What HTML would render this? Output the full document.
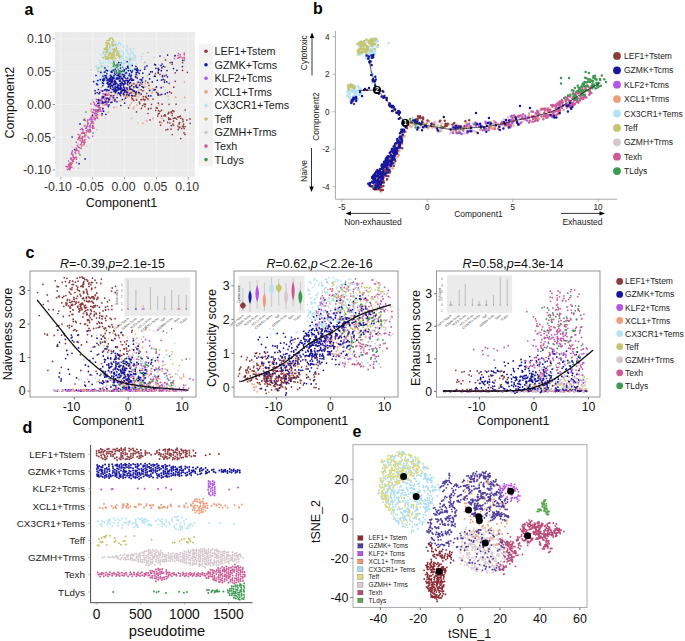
<!DOCTYPE html>
<html><head><meta charset="utf-8"><style>
html,body{margin:0;padding:0;background:#fff;}
svg{display:block;font-family:"Liberation Sans", sans-serif;}
</style></head><body>
<svg width="685" height="641" viewBox="0 0 685 641">
<rect width="685" height="641" fill="#fff"/>
<text x="24.5" y="15.3" font-size="16" text-anchor="start" font-weight="bold" fill="#000">a</text>
<text x="313" y="13.7" font-size="16" text-anchor="start" font-weight="bold" fill="#000">b</text>
<text x="25.5" y="258.4" font-size="16" text-anchor="start" font-weight="bold" fill="#000">c</text>
<text x="22.5" y="432.9" font-size="16" text-anchor="start" font-weight="bold" fill="#000">d</text>
<text x="352.5" y="437" font-size="16" text-anchor="start" font-weight="bold" fill="#000">e</text>
<rect x="55" y="32" width="140" height="145" fill="#EBEBEB" stroke="none" stroke-width="1"/>
<line x1="76.81" y1="32.00" x2="76.81" y2="177.00" stroke="#EFEFEF" stroke-width="0.5"/>
<line x1="55.00" y1="153.61" x2="195.00" y2="153.61" stroke="#EFEFEF" stroke-width="0.5"/>
<line x1="108.64" y1="32.00" x2="108.64" y2="177.00" stroke="#EFEFEF" stroke-width="0.5"/>
<line x1="55.00" y1="120.84" x2="195.00" y2="120.84" stroke="#EFEFEF" stroke-width="0.5"/>
<line x1="140.46" y1="32.00" x2="140.46" y2="177.00" stroke="#EFEFEF" stroke-width="0.5"/>
<line x1="55.00" y1="88.06" x2="195.00" y2="88.06" stroke="#EFEFEF" stroke-width="0.5"/>
<line x1="172.29" y1="32.00" x2="172.29" y2="177.00" stroke="#EFEFEF" stroke-width="0.5"/>
<line x1="55.00" y1="55.29" x2="195.00" y2="55.29" stroke="#EFEFEF" stroke-width="0.5"/>
<line x1="60.90" y1="32.00" x2="60.90" y2="177.00" stroke="#F6F6F6" stroke-width="0.8"/>
<line x1="55.00" y1="170.00" x2="195.00" y2="170.00" stroke="#F6F6F6" stroke-width="0.8"/>
<line x1="60.90" y1="177.00" x2="60.90" y2="179.50" stroke="#777" stroke-width="0.7"/>
<line x1="52.50" y1="170.00" x2="55.00" y2="170.00" stroke="#777" stroke-width="0.7"/>
<line x1="92.72" y1="32.00" x2="92.72" y2="177.00" stroke="#F6F6F6" stroke-width="0.8"/>
<line x1="55.00" y1="137.22" x2="195.00" y2="137.22" stroke="#F6F6F6" stroke-width="0.8"/>
<line x1="92.72" y1="177.00" x2="92.72" y2="179.50" stroke="#777" stroke-width="0.7"/>
<line x1="52.50" y1="137.22" x2="55.00" y2="137.22" stroke="#777" stroke-width="0.7"/>
<line x1="124.55" y1="32.00" x2="124.55" y2="177.00" stroke="#F6F6F6" stroke-width="0.8"/>
<line x1="55.00" y1="104.45" x2="195.00" y2="104.45" stroke="#F6F6F6" stroke-width="0.8"/>
<line x1="124.55" y1="177.00" x2="124.55" y2="179.50" stroke="#777" stroke-width="0.7"/>
<line x1="52.50" y1="104.45" x2="55.00" y2="104.45" stroke="#777" stroke-width="0.7"/>
<line x1="156.38" y1="32.00" x2="156.38" y2="177.00" stroke="#F6F6F6" stroke-width="0.8"/>
<line x1="55.00" y1="71.68" x2="195.00" y2="71.68" stroke="#F6F6F6" stroke-width="0.8"/>
<line x1="156.38" y1="177.00" x2="156.38" y2="179.50" stroke="#777" stroke-width="0.7"/>
<line x1="52.50" y1="71.68" x2="55.00" y2="71.68" stroke="#777" stroke-width="0.7"/>
<line x1="188.20" y1="32.00" x2="188.20" y2="177.00" stroke="#F6F6F6" stroke-width="0.8"/>
<line x1="55.00" y1="38.90" x2="195.00" y2="38.90" stroke="#F6F6F6" stroke-width="0.8"/>
<line x1="188.20" y1="177.00" x2="188.20" y2="179.50" stroke="#777" stroke-width="0.7"/>
<line x1="52.50" y1="38.90" x2="55.00" y2="38.90" stroke="#777" stroke-width="0.7"/>
<text x="57.89999999999999" y="191" font-size="12.3" text-anchor="middle" font-weight="normal" fill="#333">-0.10</text>
<text x="51" y="174.4" font-size="12.3" text-anchor="end" font-weight="normal" fill="#333">-0.10</text>
<text x="89.725" y="191" font-size="12.3" text-anchor="middle" font-weight="normal" fill="#333">-0.05</text>
<text x="51" y="141.625" font-size="12.3" text-anchor="end" font-weight="normal" fill="#333">-0.05</text>
<text x="123.55" y="191" font-size="12.3" text-anchor="middle" font-weight="normal" fill="#333">0.00</text>
<text x="51" y="108.85000000000001" font-size="12.3" text-anchor="end" font-weight="normal" fill="#333">0.00</text>
<text x="155.375" y="191" font-size="12.3" text-anchor="middle" font-weight="normal" fill="#333">0.05</text>
<text x="51" y="76.07500000000002" font-size="12.3" text-anchor="end" font-weight="normal" fill="#333">0.05</text>
<text x="187.2" y="191" font-size="12.3" text-anchor="middle" font-weight="normal" fill="#333">0.10</text>
<text x="51" y="43.300000000000004" font-size="12.3" text-anchor="end" font-weight="normal" fill="#333">0.10</text>
<text x="121.5" y="207" font-size="12.5" text-anchor="middle" font-weight="normal" fill="#111">Component1</text>
<text x="14.5" y="102.7" font-size="12.5" text-anchor="middle" font-weight="normal" fill="#111" transform="rotate(-90 14.5 102.7)">Component2</text>
<path d="M95.9 66.1h0M127.4 105.5h0M136.1 70.2h0M87.4 122.6h0M97.6 71.3h0M163.9 57.5h0M91.0 70.1h0M96.0 80.9h0M165.6 90.2h0M137.9 123.0h0M116.4 107.3h0M128.5 80.4h0M141.3 56.3h0M108.4 67.0h0M96.7 129.7h0M152.0 89.5h0M142.0 106.8h0M128.6 59.1h0M154.4 57.6h0M131.7 118.4h0M168.4 99.1h0M102.4 78.2h0M132.1 78.8h0M126.1 61.7h0M115.0 68.0h0M135.3 56.8h0M105.0 117.9h0M153.2 90.0h0M158.7 64.5h0M95.9 110.4h0M124.7 69.7h0M108.6 59.6h0M92.1 99.9h0M161.2 122.2h0M121.5 57.0h0M98.8 106.8h0M72.3 153.7h0M72.5 163.1h0M69.6 169.0h0M78.0 146.4h0M95.4 112.7h0M82.4 128.9h0M100.4 102.7h0M79.4 154.3h0M78.6 144.5h0M72.4 147.3h0M111.8 97.2h0M107.6 98.3h0M86.7 146.2h0M84.2 135.5h0M77.7 144.1h0M92.5 109.1h0M73.6 168.6h0M78.6 168.2h0M80.2 136.6h0M74.5 149.4h0M103.1 105.4h0M94.2 110.5h0M87.6 126.5h0M92.2 117.5h0M95.2 116.0h0M101.8 110.8h0M105.5 98.3h0M76.2 159.3h0M90.5 120.0h0" stroke="#D3C6CC" stroke-width="1.7" stroke-linecap="round" fill="none"/>
<path d="M102.2 97.6h0M73.2 161.2h0M70.7 163.0h0M93.9 128.2h0M109.9 97.5h0M107.0 101.4h0M95.5 115.4h0M70.3 164.6h0M100.5 107.5h0M97.7 118.3h0M74.0 158.9h0M84.4 132.8h0M71.9 167.0h0M99.8 107.7h0M95.5 113.6h0M97.2 105.9h0M96.0 109.6h0M76.0 148.0h0M90.9 103.9h0M78.8 150.9h0M73.9 159.4h0M81.7 138.7h0M89.0 132.0h0M78.9 147.5h0M91.9 122.8h0M84.6 119.1h0M75.9 150.6h0M93.0 121.8h0M84.3 143.4h0M101.5 115.3h0M81.1 148.3h0M95.9 105.7h0M78.2 134.5h0M90.2 127.1h0M93.9 117.2h0M89.7 130.3h0M76.7 149.2h0M108.6 94.9h0M68.6 161.1h0M80.5 144.5h0M87.5 126.1h0M69.6 168.0h0M74.3 158.0h0M98.9 107.4h0M99.4 109.2h0M92.2 119.9h0M106.3 101.6h0M98.7 111.7h0M77.3 145.5h0M91.1 118.5h0M83.9 144.8h0M96.8 111.2h0M84.2 140.6h0M74.1 158.0h0M101.4 100.9h0M92.6 114.7h0M97.2 111.9h0M89.7 126.2h0M100.2 109.8h0M81.6 133.0h0M87.8 124.6h0M70.0 164.9h0M92.8 128.3h0M93.5 102.1h0M96.4 115.4h0M97.8 106.4h0M87.5 131.3h0M101.8 100.6h0M72.4 161.6h0M107.3 105.0h0M82.2 140.9h0M72.0 163.0h0M92.5 121.8h0M83.1 133.1h0M85.0 136.7h0M101.2 103.3h0M71.3 158.3h0M91.3 121.4h0M82.6 136.9h0M89.6 129.3h0M86.5 130.5h0M71.7 158.8h0M90.6 131.4h0M105.0 104.8h0M76.4 157.3h0M69.4 169.5h0M70.2 164.5h0M84.0 133.1h0M106.9 94.3h0M71.2 167.2h0M108.9 93.9h0M84.4 125.8h0M72.1 160.3h0M80.1 135.1h0M75.6 153.5h0M92.3 112.2h0M85.2 125.6h0M78.3 147.0h0M76.7 149.5h0M97.8 99.5h0M99.9 111.2h0M89.0 138.0h0M79.5 136.1h0M101.5 115.0h0M105.5 93.7h0M69.9 163.2h0M73.2 157.1h0M77.9 139.5h0M90.1 131.5h0M71.4 164.7h0M68.6 165.1h0M75.1 152.2h0M78.7 137.6h0M95.7 111.6h0M93.5 123.3h0M66.1 166.4h0M68.8 166.1h0M85.0 134.4h0M105.8 104.0h0M108.7 101.8h0M80.2 140.4h0M101.4 99.7h0M106.8 99.0h0M82.0 137.3h0M96.1 111.1h0M83.5 142.1h0M76.6 159.1h0M90.3 125.0h0M70.7 162.9h0M94.9 118.8h0M94.5 103.3h0M104.8 99.1h0M82.1 133.2h0M76.5 162.5h0M106.3 101.4h0M103.0 102.6h0M106.8 95.0h0M84.1 119.7h0M95.7 118.2h0M85.1 142.2h0M73.0 154.7h0M79.6 147.4h0M97.8 114.6h0M76.3 142.3h0M97.1 117.2h0M90.0 132.0h0M85.1 134.7h0M107.2 95.2h0M75.3 157.3h0M82.4 129.6h0M73.7 157.3h0M109.0 99.6h0M83.2 129.8h0M81.9 144.6h0M73.1 156.2h0M85.2 120.3h0M82.3 138.2h0M70.6 159.0h0M69.7 167.6h0M79.6 137.6h0M92.6 125.4h0M85.6 128.1h0M105.1 100.9h0M103.0 98.2h0M104.9 97.0h0M102.6 109.4h0M86.2 132.5h0M86.6 128.1h0M79.7 137.0h0M85.1 139.6h0M70.7 167.2h0M98.3 107.1h0M77.1 150.5h0M67.3 166.9h0M82.9 131.8h0M93.5 112.5h0M84.8 135.9h0M81.8 141.4h0M91.2 117.2h0M75.1 157.6h0M69.7 169.7h0M90.8 123.6h0M90.4 129.4h0M101.6 102.2h0M83.0 136.9h0M100.0 109.3h0M68.6 168.5h0M70.3 168.4h0M87.5 121.1h0M78.8 153.1h0M69.0 164.0h0M72.1 159.6h0M78.5 138.6h0M81.3 143.8h0M92.4 127.2h0M106.5 103.2h0M83.0 141.8h0M71.4 153.9h0M87.8 123.4h0M67.3 169.5h0M79.9 138.3h0M81.6 145.9h0M82.5 139.4h0M69.7 165.9h0M90.0 126.9h0M89.3 119.6h0M94.6 110.0h0M104.3 94.3h0M81.8 142.3h0M94.0 119.0h0M182.3 57.8h0M184.3 60.3h0M174.6 56.1h0M177.8 55.5h0M180.6 57.0h0M174.6 58.5h0M177.9 58.2h0M184.1 57.4h0M184.4 58.4h0M184.3 53.0h0M180.2 54.9h0M179.2 57.4h0M184.3 54.7h0M178.5 53.6h0" stroke="#CC5A96" stroke-width="1.7" stroke-linecap="round" fill="none"/>
<path d="M86.8 126.8h0M101.2 111.2h0M99.7 107.6h0M89.7 126.3h0M94.5 113.5h0M91.9 118.7h0M69.4 168.1h0M96.3 99.3h0M103.9 111.3h0M70.8 158.2h0M101.8 99.7h0M88.0 137.0h0M106.6 98.1h0M102.8 102.4h0M88.3 123.0h0M82.0 128.4h0M96.6 113.5h0M107.0 104.0h0M98.8 101.9h0M113.1 96.7h0M87.7 120.2h0M106.5 91.5h0M88.4 130.7h0M105.5 98.2h0M95.1 119.8h0M100.4 100.6h0M95.9 105.6h0M80.4 129.5h0M71.9 152.5h0M93.6 109.5h0M96.8 101.4h0M88.1 129.9h0M90.3 118.8h0M101.1 90.6h0M92.7 136.1h0M94.2 110.3h0M72.4 150.9h0M106.8 104.6h0M93.3 126.2h0M103.1 93.7h0M94.5 104.7h0M96.5 104.9h0M110.4 98.9h0M94.7 113.3h0M101.6 98.4h0" stroke="#B455E6" stroke-width="1.7" stroke-linecap="round" fill="none"/>
<path d="M126.7 83.4h0M139.0 89.7h0M113.1 99.9h0M123.2 94.1h0M113.2 92.2h0M148.7 99.9h0M145.2 83.5h0M136.5 75.4h0M125.7 87.1h0M133.6 88.1h0M106.0 98.7h0M129.8 105.1h0M113.6 80.8h0M113.8 107.4h0M120.0 101.0h0M123.5 96.0h0M132.7 92.7h0M134.0 107.1h0M129.6 90.7h0M117.6 86.8h0M133.8 91.1h0M125.8 80.5h0M138.8 93.4h0M117.8 89.3h0M99.4 92.4h0M122.2 92.6h0M148.5 82.7h0M131.7 99.3h0M125.1 83.0h0M135.8 96.3h0M132.0 78.9h0M131.6 92.7h0M121.9 84.4h0M127.8 90.4h0M129.0 85.5h0M120.6 74.8h0M115.8 82.3h0M128.4 90.6h0M136.7 94.5h0M133.5 79.8h0M131.9 75.2h0M132.0 84.0h0M152.8 88.6h0M129.6 85.7h0M137.4 84.4h0M146.6 96.1h0M127.5 96.9h0M129.6 95.3h0M137.4 83.5h0M143.9 90.6h0M130.1 88.8h0M130.6 80.1h0M127.9 96.3h0M114.9 90.7h0M138.2 86.7h0M124.5 100.0h0M109.8 95.5h0M125.6 96.1h0M109.7 98.5h0M117.0 95.1h0M127.2 81.2h0M117.8 87.4h0M137.8 97.1h0M112.4 84.7h0M129.7 90.4h0M132.6 92.9h0M141.7 100.2h0M136.3 99.2h0M129.4 96.4h0M127.9 88.8h0M126.5 96.5h0M138.5 93.8h0M120.5 89.0h0M132.3 99.6h0M126.2 93.6h0M129.5 84.8h0M124.5 99.0h0M148.5 88.3h0M120.5 94.2h0M129.6 79.4h0M129.9 90.0h0M133.2 83.5h0M131.6 83.3h0M131.4 76.7h0M136.9 105.1h0M112.1 89.0h0M127.2 91.7h0M114.8 97.8h0M129.4 89.2h0M115.3 93.7h0M175.8 97.7h0M131.3 102.8h0M133.2 108.6h0M162.0 118.3h0M159.0 105.2h0M175.4 97.2h0M142.8 123.3h0M155.4 87.8h0M184.4 82.0h0M146.7 120.9h0M152.2 92.0h0M163.4 86.8h0M184.7 97.3h0M140.1 95.4h0M168.0 96.0h0M152.8 118.3h0M152.0 93.1h0M144.1 86.0h0M155.6 89.7h0M161.6 122.7h0M99.3 104.4h0M91.3 108.8h0M102.3 115.2h0M91.0 110.9h0M98.6 106.2h0M81.7 144.8h0M102.8 104.4h0M86.4 135.2h0M110.5 95.6h0M112.6 95.5h0M108.9 95.0h0M108.3 112.2h0M102.6 96.1h0M108.8 94.8h0M107.9 92.3h0" stroke="#EE9E7C" stroke-width="1.7" stroke-linecap="round" fill="none"/>
<path d="M171.0 129.2h0M167.8 129.4h0M179.7 122.6h0M171.4 111.6h0M160.1 94.9h0M156.6 107.5h0M157.8 116.1h0M161.5 116.1h0M184.2 128.5h0M143.3 99.1h0M175.3 118.0h0M126.8 91.3h0M136.6 100.1h0M190.0 118.9h0M139.8 103.7h0M162.1 104.2h0M183.2 126.0h0M168.1 113.7h0M157.3 108.2h0M172.3 113.5h0M190.2 123.3h0M185.0 126.6h0M139.5 92.9h0M128.6 107.9h0M145.0 99.5h0M136.1 93.7h0M174.8 118.2h0M180.8 118.3h0M139.9 85.3h0M130.4 93.2h0M145.3 104.2h0M172.8 110.7h0M173.5 121.2h0M158.3 103.2h0M165.4 116.0h0M181.7 128.6h0M179.0 127.8h0M131.8 97.8h0M172.1 115.5h0M171.3 125.7h0M183.6 124.1h0M150.9 108.4h0M133.7 100.4h0M156.3 107.8h0M153.0 99.1h0M148.6 108.5h0M179.0 116.9h0M168.7 112.3h0M171.1 112.4h0M163.7 120.7h0M134.7 95.9h0M134.0 83.7h0M148.3 109.1h0M172.3 134.5h0M160.6 125.2h0M176.6 119.1h0M164.0 115.8h0M172.9 124.2h0M185.0 134.4h0M169.9 119.1h0M182.7 119.2h0M184.0 132.8h0M169.9 123.0h0M180.3 116.2h0M131.0 92.9h0M126.8 94.4h0M183.2 127.0h0M139.5 102.2h0M142.7 105.5h0M132.7 98.9h0M165.4 115.4h0M130.0 86.9h0M173.5 125.3h0M141.4 108.4h0M166.0 129.8h0M182.5 126.3h0M168.6 117.9h0M147.9 113.5h0M159.8 122.2h0M177.9 126.1h0M167.7 122.4h0M143.4 96.7h0M124.2 94.8h0M183.0 121.2h0M164.8 114.8h0M129.5 93.5h0M161.5 110.3h0M169.1 104.3h0M146.3 97.7h0M179.8 127.2h0M141.0 99.6h0M135.4 94.9h0M144.1 104.1h0M145.0 106.4h0M178.2 129.7h0M168.8 112.9h0M133.0 96.0h0M151.5 104.3h0M133.8 91.3h0M174.0 111.4h0M179.2 123.9h0M133.2 91.0h0M150.1 119.9h0M141.4 99.5h0M144.4 100.3h0M173.3 118.3h0M180.8 138.6h0M145.6 96.7h0M160.0 111.3h0M147.8 98.9h0M176.1 104.2h0M175.2 72.8h0M160.0 74.4h0M147.7 82.5h0M141.8 84.0h0M146.8 93.4h0M145.6 81.0h0M183.1 121.4h0M156.6 92.4h0M141.2 89.8h0M168.8 119.4h0M159.2 113.4h0M136.5 111.9h0M186.9 120.1h0M185.2 110.0h0M148.9 85.4h0M179.1 122.8h0M159.1 69.5h0M170.7 119.1h0M169.6 91.9h0M173.8 87.2h0M158.3 95.1h0M142.8 90.8h0M177.6 117.0h0M158.3 113.9h0M158.4 110.6h0M175.2 81.3h0M171.3 93.1h0M187.4 72.3h0M155.6 110.3h0M165.6 59.9h0M169.2 83.3h0M172.2 64.2h0M155.5 73.7h0M164.6 80.2h0M164.9 66.8h0M182.6 62.6h0M164.7 76.2h0M182.5 70.4h0M170.1 62.6h0" stroke="#8E3B3E" stroke-width="1.7" stroke-linecap="round" fill="none"/>
<path d="M105.5 62.1h0M126.8 76.5h0M100.0 62.6h0M123.5 52.2h0M104.9 65.7h0M118.1 68.9h0M114.4 77.9h0M114.0 69.0h0M97.6 69.2h0M120.5 65.6h0M110.2 51.1h0M106.7 70.6h0M108.7 61.8h0M96.0 65.6h0M109.1 77.1h0M98.8 72.1h0M119.7 51.2h0M98.4 68.9h0M98.6 67.5h0M97.0 84.4h0M104.6 65.8h0M102.6 55.0h0M128.4 65.9h0M130.6 58.4h0M125.6 62.9h0M107.8 43.3h0M121.7 69.6h0M108.6 75.6h0M115.1 50.4h0M130.4 68.4h0M100.4 78.9h0M131.9 74.2h0M105.3 53.1h0M109.5 47.1h0M107.7 66.2h0M116.6 78.3h0M115.0 45.7h0M135.9 71.4h0M120.6 43.9h0M129.7 59.6h0M109.4 48.7h0M100.8 75.7h0M116.8 76.2h0M123.6 63.4h0M104.3 56.6h0M132.6 58.6h0M117.8 74.5h0M121.2 59.7h0M113.6 79.6h0M131.5 64.8h0M108.2 51.7h0M121.9 50.9h0M124.5 69.3h0M101.9 67.1h0M104.5 70.6h0M123.1 56.3h0M127.4 50.3h0M123.3 69.8h0M122.9 60.4h0M115.2 76.8h0M110.9 62.5h0M128.1 71.3h0M117.6 43.9h0M125.4 74.6h0M126.1 56.9h0M132.7 52.2h0M123.5 54.4h0M111.3 74.3h0M100.4 73.3h0M116.8 78.9h0M133.5 48.8h0M130.7 68.7h0M103.4 51.2h0M136.9 69.8h0M98.0 81.4h0M98.7 67.3h0M126.6 67.6h0M127.8 53.8h0M103.2 66.6h0M116.1 75.7h0M130.8 49.2h0M112.4 71.5h0M114.2 43.4h0M127.5 47.4h0M113.9 59.7h0M112.6 48.7h0M131.2 62.7h0M132.5 57.4h0M110.4 72.5h0M112.8 70.2h0M128.7 63.3h0M117.1 62.7h0M119.2 61.1h0M124.2 76.4h0M107.8 52.0h0M118.5 60.5h0M112.1 76.9h0M122.2 57.1h0M106.9 53.5h0M123.9 70.5h0M112.3 45.4h0M118.8 72.3h0M97.0 66.6h0M110.5 50.2h0M106.5 76.4h0M115.4 42.3h0M133.3 53.8h0M130.8 53.9h0M119.6 42.0h0M109.1 70.7h0M116.8 46.3h0M102.5 73.1h0M114.8 69.0h0M135.1 55.7h0M123.4 65.5h0M117.0 64.0h0M118.2 76.1h0M120.6 56.4h0M117.1 44.7h0M118.4 55.5h0M100.4 67.8h0M116.1 51.8h0M123.4 47.0h0M104.9 51.2h0M108.3 79.4h0M130.0 73.7h0M103.7 52.8h0M128.5 53.6h0M109.1 79.2h0M134.3 54.9h0M112.3 67.2h0M129.5 57.1h0M104.0 72.0h0M134.0 69.3h0M108.9 61.2h0M113.5 49.4h0M101.3 63.2h0M123.5 64.8h0M130.2 64.5h0M99.5 83.6h0M100.1 71.2h0M114.1 49.8h0M129.8 68.9h0M98.7 81.5h0M113.0 60.9h0M113.3 70.9h0M111.2 70.4h0M117.9 48.8h0M119.5 58.2h0M105.1 51.6h0M128.6 61.7h0M117.4 74.4h0M110.3 46.3h0M136.2 63.6h0M124.2 62.7h0M103.4 58.7h0M123.1 56.2h0M109.5 77.0h0M99.5 60.3h0M107.1 78.8h0M110.4 69.1h0M119.7 58.3h0M97.3 81.2h0M115.4 69.2h0M117.9 51.3h0M135.4 60.4h0M116.2 72.2h0M124.8 60.3h0M103.5 63.2h0M120.9 44.4h0M115.7 51.9h0M104.2 78.6h0M96.9 68.3h0M100.2 71.1h0M133.0 72.1h0M111.9 53.2h0M98.7 72.5h0M112.6 55.2h0M125.4 71.8h0M113.0 54.9h0M127.7 74.9h0M125.5 73.4h0M125.4 75.4h0M138.5 69.5h0M129.0 77.8h0M113.1 76.4h0M120.6 45.2h0M127.4 53.8h0M120.5 67.1h0M98.6 79.6h0M105.3 54.9h0M109.7 54.1h0M107.4 77.7h0M109.2 69.5h0M110.9 46.7h0M110.8 80.6h0M132.2 59.3h0M108.6 57.3h0M126.8 45.5h0M110.9 57.3h0M116.2 67.4h0M111.0 61.8h0M120.3 65.6h0M115.0 77.8h0M95.7 74.5h0M117.5 75.2h0M119.3 65.8h0M124.7 62.7h0M123.8 63.5h0M125.9 58.1h0M137.4 72.2h0M111.8 63.6h0M129.4 61.6h0M133.6 60.1h0M134.1 68.5h0M127.4 53.0h0M108.9 63.2h0M106.2 76.3h0M133.3 69.2h0M126.2 50.5h0M114.9 66.8h0M119.0 43.3h0M126.5 70.9h0M128.8 75.9h0M130.9 53.1h0M123.1 58.8h0M132.2 64.0h0M114.8 55.9h0M104.0 57.1h0M130.8 66.1h0M125.5 74.6h0M104.7 75.4h0M118.6 62.5h0M99.9 81.2h0M116.8 55.3h0M115.9 61.0h0M106.5 48.1h0M109.1 57.4h0M135.0 58.2h0M102.9 54.6h0M96.6 80.8h0M134.7 58.0h0M125.0 67.5h0M114.1 63.4h0M114.5 71.2h0M119.0 55.1h0M119.2 50.9h0M99.7 78.8h0M130.8 72.8h0M117.6 68.0h0M113.4 43.6h0M107.7 59.6h0M111.1 67.6h0M106.6 45.6h0M121.8 72.2h0M130.4 74.6h0M115.0 66.2h0M129.5 56.1h0M122.9 63.1h0M127.2 76.3h0M114.1 52.5h0M130.2 62.3h0M131.6 66.1h0M119.7 64.4h0M103.1 82.1h0M113.5 61.7h0M108.4 81.1h0M109.7 49.7h0M130.2 48.8h0M111.3 50.1h0M115.6 65.1h0M112.9 44.0h0M101.7 71.4h0M121.8 51.0h0M115.4 70.0h0M104.7 58.2h0M101.7 80.8h0M123.0 67.8h0M109.5 54.8h0M107.5 58.4h0M109.1 76.7h0M118.7 53.3h0M106.3 76.7h0M121.4 55.4h0M114.9 72.3h0M128.9 64.1h0M120.2 65.8h0M128.2 62.7h0M101.2 63.6h0M129.5 70.5h0M99.7 76.8h0M128.5 58.4h0M114.0 45.5h0M132.1 70.4h0M119.7 62.5h0M130.3 51.0h0M112.3 41.4h0M108.0 79.0h0M111.2 76.3h0M115.8 42.1h0M128.1 69.9h0M113.6 64.1h0M120.1 71.6h0M123.9 46.3h0M124.0 73.7h0M114.7 78.0h0M120.3 57.7h0M102.8 65.9h0M106.4 71.2h0M104.1 74.7h0M118.6 62.1h0M103.1 69.2h0M120.0 70.1h0M131.7 66.3h0M99.9 71.7h0M105.7 53.4h0M118.5 52.4h0M102.8 76.9h0M112.3 56.4h0M135.4 71.0h0M122.4 81.7h0M144.2 81.7h0M144.1 63.2h0M100.2 54.3h0M122.8 82.5h0M100.4 67.3h0M141.6 59.2h0M109.9 47.4h0M113.1 63.6h0M112.6 46.4h0M134.5 70.1h0M112.8 60.8h0M119.3 56.7h0M143.1 53.8h0M119.2 75.3h0" stroke="#B3E3F4" stroke-width="1.7" stroke-linecap="round" fill="none"/>
<path d="M112.1 58.9h0M103.5 52.7h0M108.0 50.0h0M112.1 38.0h0M114.2 49.4h0M115.3 50.4h0M116.9 50.6h0M109.3 38.9h0M116.4 49.0h0M109.1 53.1h0M108.9 43.2h0M107.3 51.8h0M107.6 45.4h0M104.3 48.7h0M109.0 55.1h0M107.6 57.8h0M109.6 47.0h0M107.0 40.7h0M116.5 55.3h0M114.1 56.0h0M107.3 47.1h0M109.5 52.9h0M119.8 56.0h0M115.9 58.4h0M106.3 49.3h0M110.4 38.4h0M106.8 57.3h0M106.4 50.7h0M118.7 55.1h0M107.3 57.4h0M117.1 53.2h0M107.1 56.5h0M115.6 44.8h0M113.9 60.4h0M108.6 54.3h0M114.4 48.6h0M108.4 58.3h0M105.2 49.0h0M108.4 55.1h0M112.8 46.0h0M106.6 47.4h0M117.5 54.8h0M113.1 49.7h0M111.4 55.8h0M110.9 38.2h0M105.8 47.8h0M106.9 56.5h0M111.6 53.8h0M111.7 57.6h0M112.1 44.2h0M110.5 52.7h0M105.4 56.9h0M113.1 55.6h0M113.7 56.5h0M111.0 57.3h0M110.1 45.0h0M108.7 57.2h0M112.1 43.9h0M117.7 54.0h0M119.9 56.8h0M111.3 55.2h0M117.7 53.2h0M114.4 52.0h0M113.5 55.0h0M112.5 57.4h0M106.2 48.2h0M114.7 51.4h0M119.9 56.1h0M115.1 51.2h0M111.1 56.7h0M114.4 53.9h0M112.6 58.4h0M106.2 57.8h0M105.9 42.8h0M115.2 50.3h0M112.5 44.9h0M109.7 39.7h0M110.5 58.4h0M104.5 49.2h0M108.2 40.8h0M106.9 51.6h0M106.2 48.1h0M113.9 57.1h0M110.7 57.7h0M109.0 44.1h0M107.2 43.7h0M105.9 59.2h0M116.2 47.9h0M117.7 52.0h0M113.8 51.2h0M102.7 57.5h0M109.9 54.1h0M105.2 54.9h0M107.4 48.3h0M115.2 58.5h0M106.8 58.8h0M112.7 52.7h0M106.5 45.3h0M107.4 49.5h0M106.9 42.7h0M112.8 39.4h0M112.5 44.2h0M113.4 44.8h0M113.0 54.4h0M113.6 40.3h0M118.9 53.4h0M118.6 56.6h0M112.0 42.0h0M113.5 41.3h0M109.0 40.4h0M137.0 76.4h0M135.0 77.5h0M137.8 69.6h0M131.6 84.6h0M125.1 83.9h0M110.6 78.8h0M118.4 76.8h0M101.4 65.9h0M130.0 60.2h0M123.3 88.5h0M98.6 71.1h0M101.1 87.3h0M113.0 55.0h0M105.8 52.5h0M105.8 78.2h0M137.6 75.0h0M113.0 63.7h0M98.6 68.3h0M145.6 86.8h0M147.4 75.6h0M140.5 69.8h0M119.9 57.6h0M148.0 52.6h0M144.9 62.1h0M130.6 58.7h0" stroke="#C6C46E" stroke-width="1.7" stroke-linecap="round" fill="none"/>
<path d="M102.9 76.1h0M139.5 85.1h0M108.1 84.2h0M110.7 77.3h0M112.2 78.4h0M128.2 81.4h0M111.9 102.2h0M124.8 82.3h0M122.3 74.3h0M108.0 79.8h0M120.9 76.8h0M107.2 89.7h0M117.7 64.7h0M126.6 72.8h0M116.9 87.3h0M110.2 84.2h0M115.1 81.3h0M117.4 86.5h0M122.5 71.0h0M96.5 83.8h0M100.9 72.4h0M124.0 71.3h0M117.9 84.8h0M119.2 75.0h0M121.2 78.4h0M117.4 85.8h0M114.6 73.2h0M120.1 85.7h0M125.6 98.1h0M122.4 79.6h0M119.2 88.4h0M108.7 86.9h0M121.3 71.5h0M107.5 70.7h0M112.3 81.1h0M120.4 64.9h0M120.1 81.4h0M129.8 83.1h0M127.7 84.7h0M123.8 84.5h0M115.7 91.2h0M118.8 78.6h0M116.5 91.4h0M136.1 85.2h0M123.5 85.1h0M112.5 80.0h0M110.6 88.4h0M131.2 75.4h0M110.4 86.7h0M122.6 89.6h0M120.7 76.1h0M129.5 73.9h0M110.3 75.4h0M123.6 80.9h0M121.0 83.9h0M126.9 87.8h0M132.4 95.6h0M120.0 93.5h0M116.8 83.3h0M127.7 78.2h0M105.1 72.0h0M120.9 87.4h0M109.3 85.1h0M107.1 79.1h0M103.4 79.9h0M102.7 80.3h0M127.2 61.6h0M127.7 80.7h0M120.1 83.7h0M129.3 80.2h0M119.4 73.1h0M114.2 81.5h0M108.4 84.8h0M126.7 94.8h0M127.1 89.2h0M131.6 85.7h0M111.2 80.8h0M116.3 71.0h0M105.8 77.6h0M130.4 70.8h0M126.1 80.4h0M124.2 89.3h0M119.0 89.1h0M117.7 88.1h0M115.5 81.3h0M129.9 88.7h0M112.9 79.1h0M127.9 66.3h0M122.0 82.2h0M109.2 81.5h0M104.9 67.9h0M111.5 77.2h0M118.8 62.6h0M106.4 77.6h0M125.4 90.4h0M130.4 76.3h0M124.6 91.2h0M102.5 82.9h0M96.0 75.5h0M127.8 67.7h0M133.9 86.9h0M115.2 86.2h0M124.4 69.9h0M116.5 78.0h0M112.9 89.6h0M129.0 75.5h0M113.7 84.2h0M127.6 66.4h0M136.2 74.2h0M118.0 86.7h0M137.7 72.2h0M106.2 70.2h0M128.3 70.6h0M119.3 78.3h0M144.6 69.2h0M119.6 80.3h0M111.3 85.4h0M135.3 92.8h0M104.0 78.1h0M123.6 93.4h0M111.6 85.4h0M132.9 79.5h0M118.2 85.1h0M127.7 92.7h0M118.8 92.5h0M108.2 86.9h0M97.8 80.5h0M136.9 87.5h0M121.5 82.8h0M107.7 82.4h0M116.1 83.1h0M129.0 95.0h0M104.4 72.1h0M141.7 80.6h0M116.7 72.9h0M115.5 87.7h0M131.9 89.6h0M121.2 91.5h0M109.2 78.5h0M128.3 81.6h0M123.6 87.0h0M130.3 82.6h0M110.0 83.4h0M107.9 82.7h0M125.4 83.3h0M114.8 80.3h0M97.6 84.6h0M113.3 70.1h0M125.3 78.0h0M111.9 71.1h0M131.8 80.5h0M114.0 75.7h0M118.1 85.3h0M102.9 90.8h0M111.1 71.8h0M117.2 75.3h0M124.8 83.7h0M120.9 92.2h0M129.6 87.1h0M97.3 84.6h0M119.3 80.8h0M117.6 77.9h0M108.6 84.1h0M118.6 85.0h0M111.6 82.4h0M123.3 76.8h0M115.5 69.0h0M124.0 74.8h0M109.9 78.4h0M131.7 72.4h0M123.0 83.7h0M136.8 70.4h0M117.7 78.9h0M114.0 83.9h0M120.4 87.4h0M114.3 83.1h0M108.6 90.4h0M119.2 76.7h0M118.3 75.3h0M112.5 89.5h0M115.2 74.5h0M109.3 80.0h0M120.4 68.1h0M105.6 89.7h0M136.0 86.6h0M119.3 75.5h0M128.4 68.0h0M107.0 83.1h0M122.4 83.3h0M117.7 90.0h0M128.8 95.2h0M127.7 83.0h0M102.6 79.5h0M130.5 79.4h0M104.0 78.9h0M132.4 70.8h0M118.5 74.4h0M107.0 80.5h0M126.1 68.7h0M119.4 71.2h0M109.1 90.4h0M111.6 76.1h0M123.8 87.2h0M105.3 89.5h0M110.4 81.2h0M137.6 87.5h0M111.3 79.8h0M122.7 74.6h0M123.5 80.4h0M128.6 81.7h0M127.8 82.1h0M93.7 81.7h0M114.1 78.2h0M130.9 89.2h0M111.1 79.7h0M137.3 78.1h0M121.5 88.2h0M106.8 73.7h0M124.7 81.2h0M138.6 92.4h0M112.3 81.7h0M124.6 92.0h0M110.1 79.3h0M113.1 77.4h0M120.2 80.0h0M124.2 77.0h0M122.6 78.6h0M121.2 78.0h0M143.2 87.3h0M108.1 84.3h0M100.3 79.7h0M124.7 75.6h0M120.9 105.5h0M104.6 79.8h0M136.4 91.9h0M112.0 72.4h0M104.9 75.7h0M123.3 90.5h0M125.5 73.0h0M142.8 73.2h0M103.6 80.9h0M106.2 75.8h0M116.3 79.1h0M114.6 82.5h0M118.3 87.8h0M111.9 82.7h0M103.4 83.5h0M114.5 91.3h0M126.2 92.0h0M127.0 78.6h0M162.7 75.5h0M167.0 70.6h0M134.6 91.1h0M131.7 95.6h0M141.2 94.1h0M131.0 78.2h0M167.5 92.6h0M140.2 70.5h0M135.9 66.3h0M152.3 81.9h0M166.3 75.0h0M163.2 79.4h0M163.3 66.3h0M137.5 69.6h0M140.2 79.6h0M133.4 80.2h0M156.5 86.9h0M143.5 87.6h0M155.2 76.3h0M131.3 78.4h0M158.2 73.0h0M134.9 69.0h0M167.5 76.8h0M140.2 82.6h0M148.6 95.9h0M161.2 87.7h0M154.0 90.0h0M133.1 90.4h0M165.2 93.9h0M157.9 93.4h0M158.6 69.7h0M149.4 74.2h0M136.2 72.5h0M154.9 89.7h0M141.8 79.6h0M161.7 94.3h0M142.5 82.3h0M155.5 64.9h0M150.6 71.8h0M135.8 76.9h0M155.9 68.3h0M166.8 82.0h0M132.3 65.5h0M152.3 71.8h0M154.6 64.4h0M161.9 67.8h0M142.1 86.6h0M161.5 80.1h0M158.1 94.7h0M137.2 68.2h0M158.4 70.1h0M147.0 65.9h0M137.8 70.4h0M139.2 73.4h0M142.7 77.7h0M158.1 72.0h0M135.8 69.4h0M154.4 76.2h0M161.0 65.6h0M149.7 90.4h0M164.5 82.2h0M157.3 80.3h0M149.6 78.9h0M166.7 81.8h0M150.9 95.8h0M135.6 76.3h0M138.1 82.2h0M161.3 70.7h0M162.5 76.6h0M145.0 67.0h0M121.0 85.7h0M115.4 92.4h0M118.1 93.3h0M117.9 88.6h0M99.0 103.0h0M114.1 91.2h0M99.4 100.5h0M113.5 89.4h0M99.0 93.7h0M99.7 92.7h0M98.7 100.3h0M111.1 92.3h0M98.5 89.5h0M105.9 101.7h0M107.7 98.0h0M124.6 88.4h0M118.4 89.8h0M112.6 87.0h0M117.0 101.7h0M95.3 93.4h0M106.0 101.6h0M103.6 96.7h0M114.8 100.9h0M98.9 100.1h0M123.3 94.3h0M104.7 90.1h0M121.2 92.8h0M120.5 95.6h0M109.0 104.9h0M95.1 90.7h0M98.6 99.7h0M106.6 90.1h0M117.1 97.6h0M109.3 99.7h0M123.1 85.0h0M122.2 99.6h0M104.8 102.4h0M124.7 103.1h0M110.8 102.5h0M97.2 92.6h0M162.1 64.0h0M167.6 55.1h0M182.7 60.3h0M176.9 70.4h0M172.1 62.3h0M158.2 68.4h0M160.0 56.0h0M173.5 68.5h0M182.4 66.5h0M175.1 55.6h0M121.4 90.2h0M102.8 101.9h0M110.5 83.0h0M105.4 94.9h0M110.7 86.3h0M108.2 102.0h0M109.0 100.0h0M102.2 113.7h0M119.8 94.1h0M103.3 97.6h0M102.3 91.1h0M113.9 84.3h0M115.7 89.2h0M102.8 85.6h0M92.4 115.6h0M108.8 99.0h0M112.9 85.6h0M114.1 88.1h0M102.4 97.1h0M113.3 97.8h0M122.5 90.7h0M97.8 103.3h0M115.5 83.3h0M102.9 103.2h0M116.4 90.0h0M115.1 89.9h0M116.2 90.1h0M120.0 88.4h0M120.2 89.4h0M108.4 106.6h0M106.4 98.8h0M99.0 105.5h0M98.0 110.1h0M115.0 99.5h0M102.9 108.3h0M111.0 95.7h0M103.4 111.2h0M113.8 95.5h0M105.9 114.3h0M115.4 84.2h0M74.7 149.5h0M79.1 163.7h0M72.1 137.0h0M80.0 123.9h0M85.1 158.9h0" stroke="#16169E" stroke-width="1.7" stroke-linecap="round" fill="none"/>
<path d="M117.3 64.7h0M113.8 65.5h0M122.5 71.1h0M114.2 63.1h0M119.1 71.3h0M113.4 66.3h0M114.3 69.9h0M117.4 67.0h0M118.9 71.8h0M122.5 67.0h0M114.4 71.6h0M117.8 65.5h0M117.5 64.7h0M123.5 69.3h0M116.2 65.1h0M114.1 64.2h0M119.3 72.4h0M123.3 71.3h0M120.6 73.2h0M115.6 65.6h0M119.9 70.7h0M118.1 69.7h0M120.3 75.6h0M116.7 67.1h0M121.2 62.7h0M116.7 72.5h0M117.9 66.1h0M113.7 62.1h0M86.0 112.0h0M84.0 120.0h0M93.0 133.0h0M80.0 155.0h0M100.0 100.0h0" stroke="#3C9A50" stroke-width="1.7" stroke-linecap="round" fill="none"/>
<rect x="199" y="44" width="14" height="122.5" fill="#F2F2F2" stroke="none" stroke-width="1"/>
<circle cx="206" cy="51.2" r="1.8" fill="#8E3B3E"/>
<text x="214.5" y="55.1" font-size="10.8" text-anchor="start" font-weight="normal" fill="#1a1a1a">LEF1+Tstem</text>
<circle cx="206" cy="64.8" r="1.8" fill="#16169E"/>
<text x="214.5" y="68.65" font-size="10.8" text-anchor="start" font-weight="normal" fill="#1a1a1a">GZMK+Tcms</text>
<circle cx="206" cy="78.3" r="1.8" fill="#B455E6"/>
<text x="214.5" y="82.20000000000002" font-size="10.8" text-anchor="start" font-weight="normal" fill="#1a1a1a">KLF2+Tcms</text>
<circle cx="206" cy="91.9" r="1.8" fill="#EE9E7C"/>
<text x="214.5" y="95.75000000000001" font-size="10.8" text-anchor="start" font-weight="normal" fill="#1a1a1a">XCL1+Trms</text>
<circle cx="206" cy="105.4" r="1.8" fill="#B3E3F4"/>
<text x="214.5" y="109.30000000000001" font-size="10.8" text-anchor="start" font-weight="normal" fill="#1a1a1a">CX3CR1+Tems</text>
<circle cx="206" cy="119.0" r="1.8" fill="#C6C46E"/>
<text x="214.5" y="122.85000000000001" font-size="10.8" text-anchor="start" font-weight="normal" fill="#1a1a1a">Teff</text>
<circle cx="206" cy="132.5" r="1.8" fill="#D3C6CC"/>
<text x="214.5" y="136.4" font-size="10.8" text-anchor="start" font-weight="normal" fill="#1a1a1a">GZMH+Trms</text>
<circle cx="206" cy="146.1" r="1.8" fill="#CC5A96"/>
<text x="214.5" y="149.95000000000002" font-size="10.8" text-anchor="start" font-weight="normal" fill="#1a1a1a">Texh</text>
<circle cx="206" cy="159.6" r="1.8" fill="#3C9A50"/>
<text x="214.5" y="163.50000000000003" font-size="10.8" text-anchor="start" font-weight="normal" fill="#1a1a1a">TLdys</text>
<line x1="335.40" y1="31.00" x2="335.40" y2="199.20" stroke="#A8A8A8" stroke-width="1"/>
<line x1="335.40" y1="199.20" x2="617.00" y2="199.20" stroke="#A8A8A8" stroke-width="1"/>
<line x1="332.50" y1="36.70" x2="335.40" y2="36.70" stroke="#A8A8A8" stroke-width="0.8"/>
<text x="329.5" y="39.6" font-size="8.2" text-anchor="end" font-weight="normal" fill="#222">4</text>
<line x1="332.50" y1="74.20" x2="335.40" y2="74.20" stroke="#A8A8A8" stroke-width="0.8"/>
<text x="329.5" y="77.10000000000001" font-size="8.2" text-anchor="end" font-weight="normal" fill="#222">2</text>
<line x1="332.50" y1="111.70" x2="335.40" y2="111.70" stroke="#A8A8A8" stroke-width="0.8"/>
<text x="329.5" y="114.60000000000001" font-size="8.2" text-anchor="end" font-weight="normal" fill="#222">0</text>
<line x1="332.50" y1="149.20" x2="335.40" y2="149.20" stroke="#A8A8A8" stroke-width="0.8"/>
<text x="329.5" y="152.1" font-size="8.2" text-anchor="end" font-weight="normal" fill="#222">-2</text>
<line x1="332.50" y1="186.70" x2="335.40" y2="186.70" stroke="#A8A8A8" stroke-width="0.8"/>
<text x="329.5" y="189.6" font-size="8.2" text-anchor="end" font-weight="normal" fill="#222">-4</text>
<line x1="341.90" y1="199.20" x2="341.90" y2="202.00" stroke="#A8A8A8" stroke-width="0.8"/>
<text x="341.90000000000003" y="210.2" font-size="8.2" text-anchor="middle" font-weight="normal" fill="#222">-5</text>
<line x1="427.30" y1="199.20" x2="427.30" y2="202.00" stroke="#A8A8A8" stroke-width="0.8"/>
<text x="427.3" y="210.2" font-size="8.2" text-anchor="middle" font-weight="normal" fill="#222">0</text>
<line x1="512.70" y1="199.20" x2="512.70" y2="202.00" stroke="#A8A8A8" stroke-width="0.8"/>
<text x="512.7" y="210.2" font-size="8.2" text-anchor="middle" font-weight="normal" fill="#222">5</text>
<line x1="598.10" y1="199.20" x2="598.10" y2="202.00" stroke="#A8A8A8" stroke-width="0.8"/>
<text x="598.1" y="210.2" font-size="8.2" text-anchor="middle" font-weight="normal" fill="#222">10</text>
<text x="478.5" y="216.5" font-size="8.5" text-anchor="middle" font-weight="normal" fill="#222">Component1</text>
<text x="319.2" y="116.5" font-size="8.5" text-anchor="middle" font-weight="normal" fill="#222" transform="rotate(-90 319.2 116.5)">Component2</text>
<text x="307" y="52.7" font-size="8.5" text-anchor="middle" font-weight="normal" fill="#222" transform="rotate(-90 307 52.7)">Cytotoxic</text>
<text x="307" y="171" font-size="8.5" text-anchor="middle" font-weight="normal" fill="#222" transform="rotate(-90 307 171)">Naive</text>
<text x="373" y="224.5" font-size="8.5" text-anchor="middle" font-weight="normal" fill="#222">Non-exhausted</text>
<text x="582.5" y="224.5" font-size="8.5" text-anchor="middle" font-weight="normal" fill="#222">Exhausted</text>
<line x1="312.00" y1="37.00" x2="312.00" y2="75.50" stroke="#000" stroke-width="0.8"/>
<path d="M312 32.5L309.8 38L314.2 38Z" fill="#000"/>
<line x1="311.50" y1="148.00" x2="311.50" y2="187.00" stroke="#000" stroke-width="0.8"/>
<path d="M311.5 192L309.3 186.5L313.7 186.5Z" fill="#000"/>
<line x1="350.00" y1="213.40" x2="390.50" y2="213.40" stroke="#000" stroke-width="0.8"/>
<path d="M345.5 213.4L351 211.2L351 215.6Z" fill="#000"/>
<line x1="561.00" y1="213.40" x2="600.00" y2="213.40" stroke="#000" stroke-width="0.8"/>
<path d="M605 213.4L599.5 211.2L599.5 215.6Z" fill="#000"/>
<path d="M388.8 165.9h0M404.0 132.5h0M399.2 148.3h0M380.3 189.1h0M391.1 162.2h0M380.4 174.5h0M405.0 126.4h0M394.7 158.7h0M386.9 175.2h0M391.3 163.9h0M401.8 142.1h0M406.2 128.2h0M383.2 177.1h0M402.4 139.2h0M382.2 176.4h0M387.0 163.3h0M403.0 136.8h0M396.0 149.9h0M383.7 181.3h0M390.4 167.9h0M377.6 177.1h0M401.8 133.8h0M393.6 154.1h0M374.2 183.3h0M394.8 148.9h0M379.7 172.6h0M395.6 150.0h0M401.7 131.4h0M385.8 175.5h0M403.6 132.9h0M396.3 157.7h0M394.2 163.3h0M399.3 147.5h0M398.5 150.2h0M387.3 166.3h0M397.8 150.5h0M383.3 182.3h0M396.4 152.0h0M382.6 179.8h0M372.8 187.5h0M376.9 181.7h0M404.0 124.3h0M385.3 163.7h0M396.5 150.7h0M381.7 182.8h0M389.5 163.8h0M380.1 184.8h0M383.8 174.0h0M401.7 134.1h0M376.2 182.1h0M382.9 176.6h0M401.6 143.1h0M389.8 173.2h0M383.6 168.1h0M379.4 175.0h0M395.5 152.1h0M383.0 169.9h0M399.4 150.6h0M379.4 178.4h0M387.8 171.5h0M402.7 129.9h0M377.7 187.4h0M376.3 188.2h0M403.3 136.0h0M388.5 167.9h0M373.8 182.9h0M396.3 145.0h0M398.3 151.9h0M398.1 143.6h0M385.3 163.9h0" stroke="#D3C6CC" stroke-width="2.5" stroke-linecap="round" fill="none"/>
<path d="M386.8 179.8h0M392.2 160.1h0M405.7 131.8h0M380.5 173.9h0M397.8 156.5h0M394.6 163.2h0M402.0 136.4h0M392.2 155.6h0M384.4 168.6h0M376.9 178.7h0M379.1 183.4h0M380.1 186.9h0M392.6 168.5h0M391.5 154.7h0M393.0 157.6h0M397.8 142.5h0M381.9 171.5h0M401.4 136.9h0M397.4 146.3h0M380.9 187.2h0M398.9 140.0h0M372.3 186.9h0M397.8 149.8h0M384.5 174.8h0M395.2 155.1h0M394.5 155.3h0M402.4 143.9h0M401.3 132.5h0M390.6 166.1h0M398.9 155.1h0M398.8 146.0h0M404.6 136.1h0M386.6 161.7h0M378.5 174.9h0M398.5 143.9h0M380.6 191.4h0M377.6 177.9h0M380.2 188.6h0M402.6 133.9h0M404.3 136.6h0M382.2 173.2h0M395.6 150.7h0M381.7 181.5h0M399.4 150.5h0M381.6 171.9h0" stroke="#EE9E7C" stroke-width="2.5" stroke-linecap="round" fill="none"/>
<path d="M385.3 171.2h0M381.1 185.7h0M382.1 190.0h0M380.4 187.3h0M374.5 187.2h0M383.9 182.4h0M390.6 160.2h0M380.4 186.2h0M381.4 186.9h0M373.0 186.0h0M380.6 190.2h0M391.7 156.1h0M394.4 155.2h0M386.2 176.0h0M380.9 186.0h0M386.1 169.8h0M382.8 182.1h0M380.6 178.5h0M390.5 162.0h0M387.1 179.3h0M383.3 181.1h0M382.0 173.8h0M389.6 172.4h0M374.8 185.2h0M389.0 161.8h0M391.3 157.2h0M372.5 186.4h0M391.1 165.5h0M382.7 168.8h0M383.4 185.9h0M388.4 176.2h0M377.7 183.4h0M407.1 128.1h0M381.9 178.1h0M379.7 186.6h0M385.1 169.7h0M386.7 171.7h0M382.1 181.8h0M384.5 171.1h0M385.7 163.9h0M383.1 182.1h0M393.7 166.0h0M395.3 161.1h0M379.8 173.8h0M376.5 182.5h0M402.3 148.2h0M383.0 182.7h0M386.7 165.8h0M390.1 171.4h0M387.1 170.0h0M375.5 188.3h0M379.0 188.6h0M376.9 187.9h0M382.9 190.1h0M381.3 186.1h0M373.5 188.8h0M375.1 187.3h0M378.9 188.7h0M376.2 189.3h0M379.4 189.0h0M378.3 189.1h0M374.9 189.2h0M377.2 188.9h0M379.5 187.7h0M377.9 189.2h0" stroke="#8E3B3E" stroke-width="2.5" stroke-linecap="round" fill="none"/>
<path d="M381.6 177.2h0M376.4 186.3h0M382.3 177.9h0M396.8 153.0h0M401.5 129.7h0M397.6 140.1h0M388.9 158.1h0M401.7 138.5h0M385.4 173.7h0M398.0 141.6h0M393.7 153.1h0M394.7 150.7h0M374.2 187.9h0M394.1 151.8h0M383.7 167.3h0M374.4 185.8h0M382.8 172.6h0M383.8 171.0h0M381.9 179.5h0M395.7 151.4h0" stroke="#3C9A50" stroke-width="2.5" stroke-linecap="round" fill="none"/>
<path d="M397.5 151.0h0M401.2 141.7h0M382.1 168.0h0M382.0 177.2h0M396.9 151.4h0M380.0 170.2h0M391.4 158.2h0M399.9 145.6h0M405.3 125.9h0M399.1 145.5h0M376.6 180.9h0M381.1 179.6h0M374.3 184.7h0M381.5 175.6h0M388.5 167.2h0" stroke="#CC5A96" stroke-width="2.5" stroke-linecap="round" fill="none"/>
<path d="M468.9 128.6h0M490.9 128.4h0M449.5 129.0h0M453.0 128.8h0M453.8 130.6h0M541.6 109.9h0M529.1 113.1h0M452.7 125.3h0M511.4 119.4h0M527.1 116.9h0M502.3 121.7h0M506.0 121.2h0M416.6 125.5h0M522.4 122.0h0M413.2 125.2h0M547.5 115.1h0M435.5 122.3h0M437.7 125.5h0M472.6 126.8h0M461.0 130.0h0M423.0 124.0h0M428.9 126.7h0M545.1 116.5h0M434.7 127.5h0M409.9 119.8h0M450.5 133.2h0M474.3 131.2h0M415.5 123.1h0M504.4 125.7h0M473.2 123.4h0M525.0 119.4h0M440.3 128.5h0M411.4 127.0h0M485.4 128.5h0M547.6 108.0h0M410.7 122.4h0M513.7 125.7h0M468.7 124.4h0M508.0 124.0h0M456.5 127.7h0M525.2 117.4h0M486.5 130.3h0M451.2 132.5h0M453.2 127.9h0M499.9 126.0h0M446.5 126.2h0M450.7 129.6h0M539.5 111.6h0M436.8 129.9h0M504.0 119.5h0M429.0 121.3h0M434.6 121.8h0M505.9 126.2h0M460.3 130.7h0M470.9 129.5h0M437.9 131.4h0M537.5 117.4h0M507.9 117.6h0M441.6 123.4h0M456.7 124.6h0M444.5 124.2h0M518.3 115.9h0M494.7 122.8h0M452.1 127.5h0M483.2 127.1h0M516.8 119.9h0M440.2 130.0h0M462.0 127.8h0M464.3 133.4h0M486.1 128.4h0M412.6 117.7h0M453.0 128.5h0M435.5 124.8h0M424.6 127.7h0M454.7 124.8h0M438.0 131.0h0M500.9 125.2h0M419.6 127.8h0M524.4 116.8h0M531.2 121.2h0M540.9 110.0h0M421.0 126.5h0M416.1 119.4h0M543.6 118.1h0M419.1 122.0h0M423.2 125.8h0M434.4 124.7h0M493.7 126.8h0M519.9 119.1h0M415.4 120.8h0M456.3 124.8h0M460.4 133.0h0M541.1 114.2h0M494.2 123.8h0M472.1 130.5h0M459.9 130.9h0M456.9 132.3h0M441.5 130.4h0M508.3 126.2h0M427.7 128.4h0" stroke="#D3C6CC" stroke-width="2.5" stroke-linecap="round" fill="none"/>
<path d="M507.9 125.2h0M528.9 114.5h0M548.4 108.6h0M432.5 127.5h0M468.0 124.0h0M480.3 129.8h0M513.6 116.8h0M440.7 125.7h0M493.9 121.3h0M466.5 123.6h0M432.0 123.6h0M441.0 125.4h0M557.8 110.5h0M441.2 127.7h0M439.8 131.4h0M463.9 127.4h0M418.8 123.9h0M452.8 130.9h0M549.3 112.3h0M467.9 126.9h0M495.0 127.6h0M487.1 129.2h0M539.1 118.8h0M518.6 116.9h0M514.0 120.4h0M461.9 128.1h0M486.2 129.4h0M413.4 120.2h0M426.8 122.9h0M491.0 127.8h0M537.6 118.9h0M469.7 131.2h0M417.3 119.1h0M520.7 118.9h0M460.7 127.4h0M459.1 131.6h0M549.3 111.7h0M489.4 122.9h0M552.8 105.2h0M563.7 110.1h0M410.4 126.2h0M523.9 119.2h0M490.8 127.2h0M412.7 123.4h0M513.1 119.7h0M469.2 126.1h0M506.5 122.7h0M423.3 122.7h0M426.0 125.8h0M515.0 120.5h0M494.5 124.6h0M428.6 121.1h0M505.0 125.8h0M512.3 123.7h0M492.6 128.7h0M516.3 117.2h0M424.8 124.6h0M556.2 110.3h0M428.4 127.8h0M418.9 123.6h0M497.9 124.1h0M537.5 120.3h0M540.0 114.1h0M476.5 132.1h0M466.2 128.0h0M515.6 118.1h0M422.9 123.2h0M511.9 123.9h0M410.2 122.4h0M409.4 125.2h0M499.1 126.9h0M496.0 125.3h0M467.0 130.8h0M445.6 126.0h0M537.3 112.3h0M506.9 125.5h0M448.9 124.5h0M429.0 121.3h0M514.9 116.6h0M555.6 107.9h0" stroke="#EE9E7C" stroke-width="2.5" stroke-linecap="round" fill="none"/>
<path d="M417.9 116.3h0M423.1 117.4h0M454.2 123.1h0M420.3 116.3h0M440.3 120.7h0M447.7 123.8h0M469.2 120.2h0M431.2 125.9h0M417.2 122.6h0M461.1 126.5h0M423.2 118.7h0M458.8 125.9h0M420.5 117.5h0M411.4 122.5h0M464.6 126.1h0M452.5 124.6h0M417.4 119.2h0M427.5 120.5h0M460.2 127.7h0M417.6 120.6h0M465.4 121.2h0M418.8 116.5h0M444.8 126.6h0M423.1 118.9h0M445.6 123.8h0M422.2 121.3h0M418.8 118.1h0M433.7 124.6h0M455.0 126.8h0M444.7 120.8h0M445.8 125.0h0M442.8 127.4h0M446.7 125.8h0M420.7 117.9h0M439.6 121.6h0" stroke="#8E3B3E" stroke-width="2.5" stroke-linecap="round" fill="none"/>
<path d="M558.6 105.0h0M553.0 116.5h0M485.9 123.6h0M515.7 117.7h0M495.7 122.6h0M552.7 105.0h0M461.6 134.1h0M456.5 132.9h0M577.8 102.2h0M481.7 126.3h0M482.7 130.3h0M559.2 111.1h0M562.0 102.4h0M528.0 118.1h0M475.4 122.6h0M484.0 129.9h0M475.9 125.8h0M453.1 133.0h0M455.9 130.4h0M509.3 122.8h0M525.3 115.7h0M470.2 131.1h0M455.1 126.0h0M476.1 123.3h0M465.9 126.3h0M463.3 130.4h0M485.6 128.8h0M485.5 121.7h0M467.3 132.9h0M467.1 124.9h0M457.3 133.2h0M513.1 121.8h0M461.7 134.0h0M532.8 111.8h0M565.4 105.1h0M479.1 126.8h0M480.2 123.5h0M546.2 116.1h0M521.7 118.8h0M459.8 132.8h0M570.3 105.3h0M456.9 126.1h0M522.4 117.1h0M478.0 124.5h0M548.9 115.4h0M471.7 131.5h0M520.8 122.7h0M511.8 115.8h0M505.8 124.0h0M510.8 116.4h0M510.3 127.3h0M488.7 130.3h0M511.1 120.1h0M470.5 126.3h0M469.2 123.8h0M524.9 118.9h0M512.1 123.1h0M526.9 120.5h0M518.6 115.9h0M528.8 118.0h0" stroke="#B455E6" stroke-width="2.5" stroke-linecap="round" fill="none"/>
<path d="M537.9 116.0h0M545.3 109.6h0M584.7 96.6h0M559.5 111.6h0M556.6 105.5h0M559.4 108.3h0M550.3 109.8h0M561.1 102.5h0M529.0 122.4h0M574.4 99.1h0M523.0 114.3h0M583.7 91.6h0M560.2 103.8h0M552.5 116.8h0M579.9 91.8h0M590.5 88.0h0M550.1 109.9h0M558.1 103.0h0M509.6 126.2h0M568.6 104.8h0M558.3 113.2h0M559.8 111.7h0M554.1 111.3h0M575.3 98.8h0M568.9 104.5h0M580.5 92.9h0M589.8 91.9h0M518.7 115.8h0M553.0 111.7h0M589.5 91.7h0M557.6 103.6h0M543.1 108.8h0M503.3 122.5h0M567.9 106.1h0M548.1 110.7h0M556.3 104.6h0M536.3 117.9h0M506.7 125.1h0M560.0 104.3h0M520.8 115.6h0M537.8 114.6h0M552.4 106.8h0M541.3 108.9h0M582.5 97.8h0M581.9 94.0h0M570.2 96.5h0M566.1 100.7h0M582.4 90.8h0M572.5 98.5h0M535.4 120.7h0M581.6 98.0h0M579.6 89.6h0M549.3 114.9h0M528.5 117.0h0M562.6 102.4h0M568.1 96.3h0M558.9 109.2h0M557.5 114.2h0M582.1 87.0h0M553.9 115.3h0M577.6 101.1h0M581.4 91.5h0M547.3 115.5h0M508.6 124.4h0M544.0 116.0h0M534.7 117.4h0M584.4 96.4h0M576.8 101.8h0M538.1 112.3h0M525.2 118.4h0M589.3 94.8h0M537.2 110.9h0M566.2 104.2h0M569.9 105.2h0M547.5 117.6h0M555.3 111.4h0M570.7 100.9h0M533.2 116.3h0M575.6 94.3h0M585.6 89.1h0M571.2 102.9h0M591.4 93.1h0M537.8 120.4h0M582.6 99.1h0M562.7 102.5h0M574.0 95.0h0M582.1 87.7h0M546.4 117.8h0M545.7 114.1h0M565.8 101.4h0M574.1 100.5h0M590.1 93.1h0M585.1 94.8h0M577.8 91.9h0M534.6 116.7h0M531.5 111.4h0M585.5 88.3h0M559.1 108.3h0M562.1 107.8h0M547.7 109.6h0M489.1 127.7h0M547.7 111.2h0M541.5 109.4h0M578.4 102.5h0M555.8 109.9h0M581.3 95.5h0M547.7 109.0h0M553.4 113.7h0M544.9 108.6h0M560.0 102.7h0M566.9 107.6h0M577.1 100.3h0M513.7 120.4h0M561.7 101.7h0M555.7 109.0h0M535.9 113.2h0M560.3 105.2h0M518.9 116.2h0M574.3 104.0h0M573.0 103.6h0M556.3 115.1h0M588.7 87.3h0M538.8 114.3h0M578.0 98.6h0M569.8 106.9h0M562.3 100.8h0M575.9 92.3h0M553.2 105.0h0M559.7 101.4h0M544.8 110.4h0M535.7 113.5h0M501.0 123.4h0M541.6 116.5h0M560.1 110.2h0M572.3 105.1h0M580.2 98.8h0M555.8 106.7h0M552.3 117.1h0M502.0 122.0h0M567.0 98.0h0M498.3 128.8h0M580.0 100.5h0M559.9 106.2h0M554.8 105.7h0M578.1 93.5h0M583.7 98.6h0M572.7 93.8h0M533.1 118.9h0M561.7 100.0h0M556.6 110.6h0M510.0 125.2h0M553.8 111.4h0M551.2 105.3h0M552.1 105.6h0M531.7 116.6h0M566.6 106.8h0M577.0 91.5h0M573.7 97.1h0M535.1 121.1h0M565.4 97.2h0M586.4 97.5h0M512.5 117.9h0M490.7 122.4h0M494.7 128.9h0M532.7 121.8h0M567.8 105.7h0M514.0 115.6h0M587.4 85.6h0M574.3 104.8h0M502.7 124.2h0M550.6 115.5h0M529.7 120.7h0M565.3 105.0h0M559.4 103.9h0M573.6 96.2h0M577.0 101.6h0M543.4 119.3h0M565.5 99.9h0M558.1 110.3h0M573.1 102.9h0M567.3 98.4h0M553.7 111.2h0M534.3 118.1h0M489.8 124.6h0M509.9 120.6h0M583.7 90.1h0M535.8 118.5h0M553.2 115.4h0M533.1 117.5h0M537.4 110.8h0M558.4 110.9h0M568.6 100.2h0M570.0 106.8h0M549.5 111.8h0M589.9 90.2h0M575.7 98.8h0M519.3 124.1h0M545.4 115.5h0M559.7 107.8h0M580.1 96.0h0M507.2 123.7h0M549.2 115.0h0M575.1 103.7h0M544.2 112.8h0M506.6 122.6h0M545.7 116.2h0M511.1 125.7h0M546.8 116.8h0M576.1 100.1h0M552.0 112.2h0" stroke="#CC5A96" stroke-width="2.5" stroke-linecap="round" fill="none"/>
<path d="M417.5 123.5h0M411.0 121.5h0M415.6 127.4h0M474.3 124.2h0M410.0 119.0h0M425.7 124.7h0M463.7 128.3h0M441.7 126.9h0M407.7 123.5h0M491.6 123.8h0M484.4 128.3h0M406.3 122.3h0M458.5 132.8h0M489.0 122.5h0M415.4 124.4h0M561.0 78.0h0M569.0 78.0h0M561.0 83.6h0M600.0 79.0h0M606.0 82.0h0" stroke="#3C9A50" stroke-width="2.5" stroke-linecap="round" fill="none"/>
<path d="M361.9 41.9h0M370.9 53.5h0M368.8 53.9h0M361.8 54.0h0M365.5 42.7h0M368.6 56.5h0M370.7 44.9h0M371.6 38.4h0M376.6 38.9h0M370.3 40.5h0M368.8 42.3h0M372.2 43.9h0M362.0 51.4h0M375.3 49.3h0M370.6 44.6h0M358.2 54.7h0M361.7 46.0h0M359.1 46.1h0M358.7 45.9h0M364.7 43.2h0M361.9 47.9h0M359.0 42.6h0M366.0 57.8h0M376.9 39.3h0M365.9 49.5h0M376.3 40.2h0M370.0 52.5h0M369.7 43.4h0M375.1 54.0h0M360.5 43.7h0M368.3 55.9h0M376.7 41.4h0M363.8 48.3h0M377.9 46.9h0M374.2 40.6h0M369.8 49.0h0M360.4 42.9h0M369.8 52.8h0M362.5 43.1h0M375.2 51.0h0M372.2 45.3h0M367.8 52.1h0M373.2 46.4h0M365.6 53.4h0M375.5 43.1h0M367.0 59.1h0M373.3 52.2h0M370.1 56.4h0M369.4 46.2h0M369.9 40.4h0M360.1 54.5h0M371.8 51.1h0M369.1 41.2h0M362.1 50.4h0M366.7 40.3h0M376.5 46.6h0M366.5 54.1h0M370.3 58.2h0M372.8 53.1h0M367.5 55.6h0M366.8 57.7h0M371.8 48.8h0M367.0 57.8h0M373.9 52.1h0M366.4 56.7h0M374.9 49.8h0M368.7 51.0h0M368.6 58.6h0M372.1 54.6h0M366.7 54.7h0M370.9 56.3h0M367.8 50.2h0M367.6 55.7h0M368.6 58.4h0M368.4 58.5h0M368.6 57.0h0M369.1 51.8h0M370.0 51.5h0M369.2 50.6h0M366.5 56.6h0M358.1 86.1h0M346.9 95.8h0M348.6 93.3h0M354.7 98.6h0M353.6 101.0h0M351.2 86.3h0M351.3 88.2h0M360.6 93.1h0M356.9 90.7h0M351.7 91.7h0M354.0 95.8h0M350.9 84.4h0M354.1 101.1h0M354.8 86.1h0M349.0 96.5h0M352.4 90.7h0M355.1 88.3h0M354.8 98.3h0M357.4 99.6h0M351.9 89.8h0M352.7 90.0h0M354.8 87.4h0M360.9 89.9h0M361.3 93.1h0M355.3 91.7h0M354.4 86.9h0M358.9 94.7h0M354.8 86.7h0M354.3 99.3h0M357.6 99.0h0M360.4 93.0h0M351.7 87.8h0M356.8 93.1h0M347.6 91.7h0M355.3 96.2h0M349.7 93.7h0M357.7 99.6h0M360.7 88.7h0M355.8 94.6h0M348.3 84.9h0M352.8 89.8h0M347.7 92.6h0M354.6 100.7h0M354.6 90.8h0M347.9 87.3h0M348.4 86.0h0M349.1 84.7h0M349.9 96.4h0M350.8 88.0h0M359.7 90.9h0M358.4 90.3h0M362.3 96.4h0M357.0 91.4h0M349.2 98.0h0M359.3 94.8h0M352.8 96.5h0M355.8 100.4h0M358.6 87.4h0M350.0 101.6h0M349.6 90.5h0M355.0 96.7h0M352.6 99.8h0M361.1 93.5h0M356.5 98.7h0M352.1 101.2h0M356.8 96.6h0M355.3 88.6h0M354.4 91.9h0M353.1 89.9h0M355.5 86.9h0M354.6 93.9h0M349.5 93.7h0M353.6 92.2h0M352.7 85.1h0M350.3 91.1h0M372.1 82.6h0M376.0 85.9h0M371.4 61.2h0M370.9 66.3h0M372.0 75.1h0M375.6 80.4h0M372.8 73.9h0M374.1 82.0h0M375.1 83.8h0M371.2 72.1h0M388.5 43.0h0M378.0 41.0h0" stroke="#B3E3F4" stroke-width="2.5" stroke-linecap="round" fill="none"/>
<path d="M371.4 50.8h0M363.7 48.6h0M364.3 49.7h0M364.3 49.7h0M363.4 44.4h0M367.0 49.1h0M359.7 48.9h0M365.0 44.1h0M370.7 39.6h0M373.0 42.4h0M364.1 45.6h0M362.1 52.6h0M366.8 47.7h0M375.0 44.2h0M364.2 40.9h0M372.5 43.6h0M368.0 50.0h0M370.7 41.2h0M359.5 53.3h0M368.6 42.8h0M363.5 41.8h0M373.8 39.2h0M366.8 45.9h0M367.6 47.9h0M372.2 44.4h0M366.3 53.3h0M361.9 51.7h0M364.3 51.5h0M373.3 44.0h0M357.5 51.1h0M366.1 48.4h0M360.5 41.7h0M359.7 48.5h0M361.0 45.4h0M371.3 45.7h0M375.7 39.7h0M359.3 43.6h0M362.3 43.7h0M362.2 43.1h0M364.2 49.5h0M365.3 50.4h0M374.4 49.0h0M371.8 40.0h0M372.6 44.8h0M369.1 41.8h0M366.4 39.6h0M374.9 38.7h0M367.1 50.0h0M375.9 39.3h0M372.1 43.2h0M361.6 49.0h0M366.2 45.4h0M364.0 51.8h0M369.8 43.4h0M373.6 40.5h0M361.4 44.4h0M360.0 51.4h0M360.5 45.4h0M358.7 50.2h0M365.7 49.4h0M362.6 42.9h0M361.2 46.6h0M372.9 41.7h0M368.7 40.7h0M368.1 47.2h0M363.8 46.1h0M362.5 45.6h0M358.8 49.5h0M363.3 51.9h0M372.2 41.2h0M362.5 45.4h0M361.1 41.7h0M357.3 43.9h0M358.1 52.9h0M366.3 51.5h0M353.1 86.9h0M348.8 87.3h0M348.5 88.3h0M348.3 88.6h0M353.9 88.7h0M354.4 87.0h0M348.6 89.9h0M350.9 84.8h0M350.6 84.7h0M350.4 85.3h0M352.8 85.6h0M351.0 86.7h0M348.1 85.5h0M350.9 85.3h0M376.0 39.0h0M378.0 45.0h0" stroke="#C6C46E" stroke-width="2.5" stroke-linecap="round" fill="none"/>
<path d="M373.3 179.2h0M375.8 185.3h0M385.7 159.2h0M376.1 171.7h0M403.9 129.7h0M382.4 173.2h0M395.3 150.0h0M385.4 164.8h0M390.6 160.9h0M397.2 140.4h0M386.4 157.8h0M391.4 160.7h0M373.5 175.3h0M376.5 171.5h0M377.1 180.5h0M389.2 160.5h0M369.9 183.1h0M385.6 166.0h0M388.2 156.9h0M378.1 170.7h0M401.8 142.6h0M373.4 176.1h0M392.8 159.2h0M386.5 173.0h0M375.2 180.1h0M404.5 131.5h0M391.8 158.9h0M377.7 174.9h0M396.7 148.6h0M375.7 187.3h0M384.4 174.3h0M387.5 159.0h0M387.4 165.4h0M378.6 176.8h0M397.0 153.3h0M401.2 141.5h0M391.5 164.0h0M396.2 143.2h0M390.7 154.4h0M380.1 169.0h0M372.1 177.0h0M379.0 172.3h0M386.4 160.2h0M369.7 184.1h0M375.2 176.9h0M397.3 139.1h0M377.0 172.5h0M401.4 136.7h0M391.9 148.9h0M372.8 177.6h0M388.2 162.8h0M397.5 141.9h0M377.2 172.5h0M394.7 145.6h0M397.2 148.0h0M385.2 174.5h0M395.1 147.9h0M391.0 156.5h0M402.9 129.8h0M377.3 175.9h0M380.8 172.5h0M394.9 149.3h0M374.1 181.2h0M394.7 145.9h0M394.8 159.4h0M379.0 187.8h0M378.8 182.3h0M395.5 152.6h0M391.1 164.0h0M394.8 154.3h0M381.8 175.0h0M383.0 168.3h0M400.4 138.8h0M377.7 175.0h0M387.3 168.3h0M375.7 188.7h0M379.8 184.1h0M383.4 173.5h0M374.9 173.4h0M399.9 143.1h0M381.6 168.7h0M383.4 170.9h0M379.1 171.6h0M395.3 154.0h0M376.6 182.6h0M389.3 170.1h0M401.9 131.8h0M383.4 177.8h0M378.5 178.6h0M392.1 163.0h0M386.1 162.2h0M372.0 181.7h0M384.9 161.3h0M375.3 176.3h0M393.0 163.2h0M379.2 171.5h0M402.7 134.7h0M399.2 146.1h0M383.4 176.4h0M397.8 147.7h0M381.5 178.1h0M379.0 186.9h0M379.0 173.8h0M398.2 141.3h0M382.1 167.3h0M396.8 149.1h0M388.6 164.2h0M401.5 129.8h0M372.2 178.0h0M396.6 154.0h0M375.7 176.7h0M370.2 183.2h0M398.5 143.1h0M376.7 175.4h0M378.4 172.5h0M383.9 161.7h0M375.3 175.0h0M383.0 164.5h0M370.7 186.2h0M390.6 161.3h0M401.5 142.1h0M377.4 180.6h0M381.3 179.2h0M391.0 161.7h0M396.6 151.0h0M388.1 172.3h0M374.8 188.4h0M373.9 178.9h0M381.2 174.8h0M383.4 166.2h0M375.2 178.5h0M374.2 179.3h0M381.0 184.0h0M388.0 163.2h0M400.9 132.1h0M375.2 178.5h0M386.9 161.0h0M389.7 152.7h0M390.8 165.9h0M387.2 164.7h0M380.3 177.0h0M399.5 146.3h0M394.5 156.6h0M390.3 165.3h0M378.2 182.6h0M380.8 184.5h0M379.7 172.0h0M387.7 156.2h0M393.8 153.5h0M392.2 161.0h0M377.2 182.3h0M394.4 154.7h0M393.2 157.8h0M394.3 146.3h0M391.1 151.5h0M393.6 146.6h0M393.5 157.8h0M388.8 156.5h0M400.0 136.4h0M395.1 143.8h0M377.4 186.6h0M387.4 169.1h0M399.5 143.7h0M380.7 184.7h0M382.7 165.2h0M385.0 165.2h0M397.1 150.5h0M395.0 150.5h0M374.6 189.1h0M393.2 152.5h0M383.9 167.0h0M401.5 139.0h0M387.6 162.9h0M378.2 179.6h0M385.2 167.0h0M392.9 159.7h0M387.1 169.3h0M378.7 172.0h0M379.6 170.8h0M383.5 173.8h0M387.0 169.0h0M383.0 178.7h0M385.9 162.6h0M392.5 150.8h0M396.1 149.0h0M383.7 172.4h0M399.6 147.5h0M376.3 185.6h0M381.0 173.0h0M392.7 148.9h0M368.2 183.8h0M394.7 150.7h0M385.8 166.5h0M383.3 171.0h0M382.1 181.9h0M399.1 144.5h0M387.6 164.2h0M400.1 144.9h0M393.2 156.1h0M378.9 181.1h0M400.3 147.4h0M377.4 169.9h0M386.0 165.6h0M385.6 165.4h0M402.5 131.7h0M399.9 133.2h0M378.3 175.8h0M382.9 173.1h0M394.2 156.1h0M379.0 183.7h0M379.4 174.0h0M381.5 165.8h0M383.8 163.8h0M402.1 140.6h0M381.8 164.4h0M373.0 182.7h0M391.5 160.9h0M377.3 182.3h0M377.7 175.9h0M370.8 185.9h0M380.3 181.6h0M400.0 144.9h0M399.5 137.4h0M377.9 185.0h0M380.9 176.7h0M399.8 141.6h0M369.5 185.4h0M382.0 172.2h0M375.0 182.5h0M394.8 154.3h0M394.6 108.8h0M398.3 110.9h0M389.1 104.9h0M392.3 106.3h0M389.9 103.5h0M384.4 95.9h0M405.1 121.2h0M399.7 113.0h0M399.8 118.2h0M392.5 110.7h0M386.8 98.1h0M379.2 88.9h0M403.1 122.2h0M402.7 123.4h0M383.3 97.7h0M392.7 110.9h0M381.6 96.6h0M389.5 104.1h0M391.6 105.7h0M393.7 106.8h0M386.7 100.1h0M382.5 91.0h0M398.8 118.8h0M406.1 120.6h0M396.4 112.7h0M390.7 106.5h0M384.4 97.2h0M398.9 114.6h0M393.0 106.0h0M395.1 109.4h0M378.8 93.7h0M389.8 106.3h0M399.1 111.3h0M397.6 113.0h0M383.3 91.8h0M384.1 96.8h0M392.0 107.2h0M400.0 112.2h0M392.0 110.9h0M407.1 121.2h0M369.3 62.0h0M375.3 76.7h0M374.1 88.6h0M373.0 81.2h0M375.7 79.4h0M370.6 61.6h0M374.9 81.2h0M375.0 85.4h0M372.9 79.3h0M371.2 74.9h0M372.6 79.9h0M371.6 65.0h0M369.6 62.4h0M369.8 61.3h0M351.3 103.0h0M353.3 99.6h0M352.8 99.1h0M351.6 101.3h0M355.9 97.1h0M356.0 97.9h0M353.5 97.7h0M352.4 101.3h0M353.4 99.7h0M351.8 99.9h0M356.4 98.6h0M351.7 100.0h0M355.2 98.6h0M356.2 101.1h0M360.0 92.0h0M362.0 96.0h0M364.0 90.0h0M365.0 89.0h0M369.0 88.0h0M371.4 55.6h0M373.3 57.3h0M373.3 54.9h0M368.1 58.4h0M371.9 57.8h0M368.8 56.4h0M366.6 55.5h0M372.8 55.8h0M477.0 124.1h0M471.0 127.8h0M431.4 123.7h0M453.4 127.6h0M422.1 122.5h0M418.1 127.5h0M415.3 119.7h0M515.7 117.6h0M490.6 123.6h0M425.2 126.0h0M460.4 126.8h0M405.8 127.2h0M481.2 126.6h0M438.0 130.6h0M504.1 122.2h0M480.1 124.2h0M509.0 120.6h0M506.1 120.1h0M467.9 131.5h0M417.3 129.6h0M456.1 125.9h0M419.4 123.3h0M415.2 122.0h0M487.9 123.1h0M516.1 118.9h0M518.4 124.7h0M503.4 128.4h0M481.0 127.5h0M505.1 124.2h0M499.8 130.1h0M499.3 126.8h0M486.9 126.0h0M470.7 131.0h0M450.7 129.4h0M426.5 126.8h0M477.8 133.0h0M458.0 127.8h0M517.1 122.1h0M508.9 127.5h0M517.2 123.0h0M422.0 130.3h0M496.0 125.2h0M413.2 120.4h0M417.0 121.8h0M423.1 127.3h0M484.0 127.2h0M486.3 131.7h0M455.6 128.2h0M437.1 128.4h0M420.7 124.5h0M553.8 116.0h0M571.2 108.8h0M572.4 106.7h0M571.2 108.0h0M566.8 105.8h0M570.1 103.0h0M562.9 105.6h0M567.9 111.5h0M556.4 117.6h0M550.7 115.0h0M568.4 105.4h0M559.7 113.2h0M554.3 117.6h0M558.4 108.0h0M443.8 117.0h0M476.0 113.0h0M489.0 118.0h0M520.0 106.0h0M530.0 108.0h0" stroke="#16169E" stroke-width="2.5" stroke-linecap="round" fill="none"/>
<path d="M354.0 104.0h0M367.0 90.0h0M403.0 121.0h0" stroke="#8E3B3E" stroke-width="2.5" stroke-linecap="round" fill="none"/>
<path d="M573.4 90.8h0M587.3 85.7h0M590.0 82.1h0M583.8 83.5h0M592.1 80.7h0M578.5 90.8h0M582.7 93.9h0M592.3 87.1h0M586.6 86.2h0M584.5 81.9h0M584.5 95.3h0M592.1 86.8h0M597.3 85.2h0M598.1 83.9h0M592.4 84.0h0M586.7 90.4h0M588.0 90.2h0M593.0 86.2h0M576.7 98.1h0M582.7 93.7h0M577.7 85.7h0M593.3 84.8h0M589.6 79.2h0M570.3 94.8h0M582.3 95.1h0M586.0 90.0h0M594.7 78.3h0M594.2 84.7h0M582.3 89.9h0M573.5 96.5h0M596.3 79.0h0M578.4 87.6h0M585.9 82.3h0M582.8 83.6h0M597.6 87.5h0M585.4 86.2h0M573.5 93.6h0M581.8 92.2h0M583.8 84.5h0M575.7 95.4h0M564.1 98.3h0M584.3 86.6h0M593.8 86.8h0M596.5 83.0h0M587.9 81.8h0M574.9 88.0h0M595.6 88.4h0M579.9 88.3h0M596.9 85.8h0M595.1 75.8h0M598.3 82.7h0M591.4 86.2h0M577.4 91.6h0M598.1 85.9h0M580.4 91.1h0M597.6 86.2h0M568.0 95.6h0M582.5 85.0h0M600.8 85.7h0M576.1 97.1h0M588.4 79.6h0M596.5 79.7h0M576.8 100.0h0M593.3 78.0h0M592.8 81.5h0M597.5 83.4h0M592.4 88.3h0M574.5 98.9h0M584.4 91.7h0M598.2 86.0h0M586.7 82.6h0M581.3 86.7h0M571.9 90.3h0M592.9 80.9h0M590.9 80.4h0M593.8 86.6h0M578.9 90.0h0M593.4 76.2h0M598.7 86.5h0M575.3 97.8h0M588.9 72.9h0M585.2 77.8h0M601.8 75.4h0M586.5 78.2h0M585.6 72.1h0M604.3 79.3h0M600.2 79.9h0M595.5 79.2h0" stroke="#3C9A50" stroke-width="2.5" stroke-linecap="round" fill="none"/>
<polyline points="369.0,58.0 369.1,58.6 369.2,59.5 369.4,60.5 369.5,61.6 369.7,62.8 369.9,64.0 370.1,65.3 370.3,66.5 370.5,67.8 370.8,68.9 371.0,70.0 371.2,71.0 371.5,71.9 371.7,72.9 372.0,73.8 372.3,74.7 372.6,75.6 372.9,76.4 373.2,77.3 373.4,78.2 373.7,79.1 374.0,80.0 374.3,80.9 374.6,82.0 374.9,83.0 375.2,84.1 375.5,85.1 375.8,86.1 376.1,87.1 376.4,88.0 376.6,88.8 376.8,89.5 377.0,90.0" fill="none" stroke="#111" stroke-width="0.7" stroke-linejoin="round" stroke-linecap="round"/>
<polyline points="359.0,90.5 377.0,90.0" fill="none" stroke="#111" stroke-width="0.7" stroke-linejoin="round" stroke-linecap="round"/>
<polyline points="377.0,90.0 377.4,90.4 377.8,90.8 378.4,91.3 379.0,91.9 379.7,92.5 380.4,93.2 381.1,93.9 381.8,94.7 382.6,95.5 383.3,96.2 384.0,97.0 384.7,97.8 385.4,98.6 386.1,99.5 386.8,100.5 387.6,101.4 388.3,102.4 389.0,103.3 389.8,104.3 390.5,105.2 391.3,106.1 392.0,107.0 392.7,107.9 393.5,108.7 394.3,109.6 395.0,110.4 395.8,111.3 396.5,112.1 397.3,112.9 398.0,113.7 398.7,114.5 399.4,115.3 400.0,116.0 400.6,116.7 401.2,117.5 401.8,118.2 402.3,119.0 402.9,119.7 403.4,120.3 403.9,121.0 404.3,121.6 404.7,122.1 405.0,122.5 405.3,122.9" fill="none" stroke="#111" stroke-width="0.7" stroke-linejoin="round" stroke-linecap="round"/>
<polyline points="410.5,122.4 411.8,122.6 413.6,123.0 415.6,123.3 417.9,123.8 420.4,124.2 422.9,124.7 425.6,125.1 428.2,125.6 430.6,126.1 432.9,126.5 435.0,126.8 436.8,127.1 438.6,127.4 440.2,127.8 441.8,128.1 443.3,128.3 444.8,128.6 446.2,128.8 447.7,129.0 449.3,129.2 450.9,129.3 452.6,129.4 454.4,129.4 456.2,129.4 458.0,129.3 459.9,129.1 461.8,129.0 463.7,128.8 465.7,128.6 467.7,128.4 469.6,128.1 471.6,127.9 473.6,127.7 475.6,127.5 477.6,127.3 479.7,127.1 481.8,126.9 483.9,126.7 485.9,126.5 488.0,126.2 490.1,125.9 492.2,125.7 494.3,125.3 496.4,125.0 498.4,124.6 500.4,124.2 502.4,123.8 504.3,123.4 506.3,122.9 508.2,122.4 510.2,121.9 512.3,121.4 514.4,120.9 516.7,120.4 519.0,119.8 521.5,119.2 524.2,118.6 527.1,118.0 530.0,117.3 533.0,116.7 536.0,116.0 539.0,115.3 541.8,114.6 544.4,113.9 546.8,113.3 549.0,112.6 550.9,112.0 552.5,111.3 554.0,110.7 555.3,110.0 556.5,109.4 557.7,108.8 558.7,108.1 559.7,107.5 560.8,106.8 561.9,106.2 563.0,105.5 564.2,104.8 565.3,104.2 566.4,103.5 567.5,102.8 568.5,102.1 569.6,101.4 570.6,100.7 571.7,100.0 572.9,99.2 574.1,98.5 575.3,97.7 576.6,96.9 578.0,96.0 579.5,95.1 581.0,94.1 582.6,93.2 584.1,92.2 585.6,91.3 587.1,90.4 588.5,89.5 589.8,88.7 591.0,88.0 592.1,87.3 593.2,86.7 594.2,86.1 595.1,85.6 596.1,85.0 596.9,84.6 597.7,84.1 598.4,83.7 599.0,83.4 599.5,83.1 600.0,82.8" fill="none" stroke="#111" stroke-width="0.7" stroke-linejoin="round" stroke-linecap="round"/>
<circle cx="377" cy="90" r="4" fill="#000"/>
<text x="377" y="92.4" font-size="6.5" text-anchor="middle" font-weight="bold" fill="#fff">2</text>
<circle cx="405.3" cy="122.9" r="4" fill="#000"/>
<text x="405.3" y="125.30000000000001" font-size="6.5" text-anchor="middle" font-weight="bold" fill="#fff">1</text>
<circle cx="617" cy="55.9" r="3.9" fill="#8E3B3E"/>
<text x="624" y="58.9" font-size="8.5" text-anchor="start" font-weight="normal" fill="#222">LEF1+Tstem</text>
<circle cx="617" cy="70.3" r="3.9" fill="#16169E"/>
<text x="624" y="73.3" font-size="8.5" text-anchor="start" font-weight="normal" fill="#222">GZMK+Tcms</text>
<circle cx="617" cy="84.7" r="3.9" fill="#B455E6"/>
<text x="624" y="87.7" font-size="8.5" text-anchor="start" font-weight="normal" fill="#222">KLF2+Tcms</text>
<circle cx="617" cy="99.1" r="3.9" fill="#EE9E7C"/>
<text x="624" y="102.1" font-size="8.5" text-anchor="start" font-weight="normal" fill="#222">XCL1+Trms</text>
<circle cx="617" cy="113.5" r="3.9" fill="#B3E3F4"/>
<text x="624" y="116.5" font-size="8.5" text-anchor="start" font-weight="normal" fill="#222">CX3CR1+Tems</text>
<circle cx="617" cy="127.9" r="3.9" fill="#C6C46E"/>
<text x="624" y="130.9" font-size="8.5" text-anchor="start" font-weight="normal" fill="#222">Teff</text>
<circle cx="617" cy="142.3" r="3.9" fill="#D3C6CC"/>
<text x="624" y="145.3" font-size="8.5" text-anchor="start" font-weight="normal" fill="#222">GZMH+Trms</text>
<circle cx="617" cy="156.7" r="3.9" fill="#CC5A96"/>
<text x="624" y="159.7" font-size="8.5" text-anchor="start" font-weight="normal" fill="#222">Texh</text>
<circle cx="617" cy="171.1" r="3.9" fill="#3C9A50"/>
<text x="624" y="174.1" font-size="8.5" text-anchor="start" font-weight="normal" fill="#222">TLdys</text>
<line x1="74.35" y1="397.00" x2="74.35" y2="399.50" stroke="#555" stroke-width="0.8"/>
<text x="71.55" y="411.2" font-size="12.3" text-anchor="middle" font-weight="normal" fill="#111">-10</text>
<line x1="128.20" y1="397.00" x2="128.20" y2="399.50" stroke="#555" stroke-width="0.8"/>
<text x="128.2" y="411.2" font-size="12.3" text-anchor="middle" font-weight="normal" fill="#111">0</text>
<line x1="182.05" y1="397.00" x2="182.05" y2="399.50" stroke="#555" stroke-width="0.8"/>
<text x="182.04999999999998" y="411.2" font-size="12.3" text-anchor="middle" font-weight="normal" fill="#111">10</text>
<line x1="27.50" y1="391.00" x2="30.00" y2="391.00" stroke="#555" stroke-width="0.8"/>
<text x="25.5" y="395.4" font-size="12.3" text-anchor="end" font-weight="normal" fill="#111">0</text>
<line x1="27.50" y1="357.50" x2="30.00" y2="357.50" stroke="#555" stroke-width="0.8"/>
<text x="25.5" y="361.9" font-size="12.3" text-anchor="end" font-weight="normal" fill="#111">1</text>
<line x1="27.50" y1="324.00" x2="30.00" y2="324.00" stroke="#555" stroke-width="0.8"/>
<text x="25.5" y="328.4" font-size="12.3" text-anchor="end" font-weight="normal" fill="#111">2</text>
<line x1="27.50" y1="290.50" x2="30.00" y2="290.50" stroke="#555" stroke-width="0.8"/>
<text x="25.5" y="294.9" font-size="12.3" text-anchor="end" font-weight="normal" fill="#111">3</text>
<text x="108.5" y="425.0" font-size="12.6" text-anchor="middle" font-weight="normal" fill="#111">Component1</text>
<text x="11.5" y="334" font-size="12.5" text-anchor="middle" font-weight="normal" fill="#111" transform="rotate(-90 11.5 334)">Naiveness score</text>
<text x="112.5" y="268.3" font-size="12.5" text-anchor="middle" fill="#111"><tspan font-style="italic">R</tspan>=-0.39,<tspan font-style="italic">p</tspan>=2.1e-15</text>
<line x1="276.50" y1="397.00" x2="276.50" y2="399.50" stroke="#555" stroke-width="0.8"/>
<text x="273.7" y="411.2" font-size="12.3" text-anchor="middle" font-weight="normal" fill="#111">-10</text>
<line x1="330.50" y1="397.00" x2="330.50" y2="399.50" stroke="#555" stroke-width="0.8"/>
<text x="330.5" y="411.2" font-size="12.3" text-anchor="middle" font-weight="normal" fill="#111">0</text>
<line x1="384.50" y1="397.00" x2="384.50" y2="399.50" stroke="#555" stroke-width="0.8"/>
<text x="384.5" y="411.2" font-size="12.3" text-anchor="middle" font-weight="normal" fill="#111">10</text>
<line x1="231.50" y1="387.20" x2="234.00" y2="387.20" stroke="#555" stroke-width="0.8"/>
<text x="229.5" y="391.59999999999997" font-size="12.3" text-anchor="end" font-weight="normal" fill="#111">0</text>
<line x1="231.50" y1="353.40" x2="234.00" y2="353.40" stroke="#555" stroke-width="0.8"/>
<text x="229.5" y="357.79999999999995" font-size="12.3" text-anchor="end" font-weight="normal" fill="#111">1</text>
<line x1="231.50" y1="319.60" x2="234.00" y2="319.60" stroke="#555" stroke-width="0.8"/>
<text x="229.5" y="324.0" font-size="12.3" text-anchor="end" font-weight="normal" fill="#111">2</text>
<line x1="231.50" y1="285.80" x2="234.00" y2="285.80" stroke="#555" stroke-width="0.8"/>
<text x="229.5" y="290.2" font-size="12.3" text-anchor="end" font-weight="normal" fill="#111">3</text>
<text x="312.3" y="425.0" font-size="12.6" text-anchor="middle" font-weight="normal" fill="#111">Component1</text>
<text x="215.5" y="338" font-size="12.5" text-anchor="middle" font-weight="normal" fill="#111" transform="rotate(-90 215.5 338)">Cytotoxicity score</text>
<text x="266.5" y="268.3" font-size="12.5" fill="#111"><tspan font-style="italic">R</tspan>=0.62,<tspan font-style="italic">p</tspan></text>
<path d="M329.3 260.2L319.9 264L329.3 267.8" fill="none" stroke="#111" stroke-width="0.9"/>
<text x="330.3" y="268.3" font-size="12.5" fill="#111">2.2e-16</text>
<line x1="479.50" y1="397.00" x2="479.50" y2="399.50" stroke="#555" stroke-width="0.8"/>
<text x="476.7" y="411.2" font-size="12.3" text-anchor="middle" font-weight="normal" fill="#111">-10</text>
<line x1="534.00" y1="397.00" x2="534.00" y2="399.50" stroke="#555" stroke-width="0.8"/>
<text x="534.0" y="411.2" font-size="12.3" text-anchor="middle" font-weight="normal" fill="#111">0</text>
<line x1="588.50" y1="397.00" x2="588.50" y2="399.50" stroke="#555" stroke-width="0.8"/>
<text x="588.5" y="411.2" font-size="12.3" text-anchor="middle" font-weight="normal" fill="#111">10</text>
<line x1="434.00" y1="391.50" x2="436.50" y2="391.50" stroke="#555" stroke-width="0.8"/>
<text x="432.0" y="395.9" font-size="12.3" text-anchor="end" font-weight="normal" fill="#111">0</text>
<line x1="434.00" y1="358.90" x2="436.50" y2="358.90" stroke="#555" stroke-width="0.8"/>
<text x="432.0" y="363.29999999999995" font-size="12.3" text-anchor="end" font-weight="normal" fill="#111">1</text>
<line x1="434.00" y1="326.30" x2="436.50" y2="326.30" stroke="#555" stroke-width="0.8"/>
<text x="432.0" y="330.7" font-size="12.3" text-anchor="end" font-weight="normal" fill="#111">2</text>
<line x1="434.00" y1="293.70" x2="436.50" y2="293.70" stroke="#555" stroke-width="0.8"/>
<text x="432.0" y="298.09999999999997" font-size="12.3" text-anchor="end" font-weight="normal" fill="#111">3</text>
<text x="513.4" y="425.0" font-size="12.6" text-anchor="middle" font-weight="normal" fill="#111">Component1</text>
<text x="419.5" y="338" font-size="12.5" text-anchor="middle" font-weight="normal" fill="#111" transform="rotate(-90 419.5 338)">Exhaustion score</text>
<text x="513" y="268.3" font-size="12.5" text-anchor="middle" fill="#111"><tspan font-style="italic">R</tspan>=0.58,<tspan font-style="italic">p</tspan>=4.3e-14</text>
<path d="M110.2 380.4h0M155.9 357.7h0M106.9 385.4h0M179.6 377.7h0M147.3 321.2h0M158.5 375.9h0M128.0 378.4h0M139.8 368.7h0M119.7 389.1h0M122.2 390.7h0M145.3 389.4h0M134.3 352.7h0M135.2 388.3h0M137.6 388.8h0M167.8 371.6h0M160.8 386.1h0M178.3 370.6h0M136.5 343.1h0M129.8 386.9h0M145.9 390.0h0M156.2 383.5h0M113.8 385.1h0M154.1 388.3h0M135.6 372.3h0M150.8 385.5h0M147.6 391.0h0M136.0 385.8h0M126.1 381.9h0M136.3 385.9h0M163.0 390.6h0M107.6 389.4h0M144.7 390.3h0M138.3 350.6h0M137.5 361.7h0M145.2 389.3h0M149.7 388.6h0M141.3 338.9h0M167.2 387.2h0M135.5 339.1h0M184.1 386.8h0M103.9 386.8h0M172.9 387.8h0M134.2 370.9h0M117.3 348.5h0M123.3 382.7h0M131.1 366.6h0M144.2 390.5h0M139.4 378.5h0M166.8 354.8h0M138.0 390.6h0M135.1 390.9h0M134.0 359.1h0M151.6 379.4h0M142.0 381.3h0M171.1 390.8h0M129.8 391.0h0M133.7 370.0h0M131.5 358.0h0M125.1 372.3h0M132.2 349.2h0M122.7 384.6h0M96.5 382.0h0M105.7 381.5h0M117.0 385.1h0M87.5 378.9h0M122.2 375.4h0M150.5 382.5h0M143.6 383.1h0M105.8 376.0h0M107.5 371.7h0M126.6 376.8h0M121.6 375.4h0M148.6 376.8h0M139.7 390.2h0M142.2 383.9h0M131.9 380.7h0M155.6 384.2h0M141.3 373.5h0M189.6 358.7h0M153.1 358.7h0M142.1 388.9h0M134.6 376.2h0M127.5 337.4h0M118.9 380.2h0M142.8 384.8h0M149.6 385.0h0M170.0 388.7h0M145.6 388.0h0M158.0 371.8h0M146.1 389.3h0M135.8 389.5h0M150.7 382.4h0M151.8 371.6h0M135.3 367.8h0M135.1 380.2h0M137.6 372.5h0M99.4 345.5h0M146.2 374.3h0M111.9 381.5h0M185.9 385.0h0M137.3 359.2h0M145.9 385.9h0M147.6 386.9h0M106.1 340.6h0M171.1 385.5h0M128.5 376.1h0M162.9 383.7h0M167.9 379.6h0M159.7 350.0h0M83.9 359.8h0M118.4 383.4h0M132.2 385.0h0M115.9 371.0h0M140.1 383.7h0M172.6 389.2h0M166.0 373.2h0M132.9 341.1h0M119.0 381.1h0M156.6 387.0h0M156.1 383.6h0M135.7 384.4h0M123.8 377.0h0M172.7 389.6h0M175.7 386.4h0M167.0 387.0h0M157.7 389.8h0M133.0 355.4h0M147.0 389.8h0M119.1 366.1h0M172.9 383.2h0M119.2 390.8h0M125.5 390.3h0M135.3 386.5h0M137.6 382.0h0M170.7 359.4h0M157.7 370.1h0M125.2 378.4h0M147.7 388.1h0M146.9 367.6h0M171.5 354.5h0M108.1 356.2h0M129.8 355.4h0M120.1 382.2h0M145.0 387.8h0M159.4 375.4h0M137.1 361.8h0M185.5 385.0h0M121.7 389.7h0M144.1 382.6h0M127.6 375.0h0" stroke="#D3C6CC" stroke-width="1.8" stroke-linecap="round" fill="none"/>
<path d="M153.6 389.3h0M155.3 388.8h0M166.4 350.5h0M139.0 344.0h0M132.3 356.7h0M149.6 386.2h0M115.7 379.2h0M100.8 373.5h0M133.2 384.5h0M127.6 365.5h0M122.6 384.4h0M142.5 347.3h0M155.2 376.4h0M127.4 387.7h0M99.6 388.4h0M105.8 387.1h0M121.9 355.4h0M136.0 390.2h0M140.0 378.4h0M150.4 370.8h0M182.0 360.1h0M120.2 389.1h0M161.4 387.8h0M136.8 385.3h0M144.0 389.9h0M133.9 378.0h0M162.7 365.5h0M158.0 385.8h0M171.2 387.5h0M183.5 374.4h0M114.2 379.3h0M139.3 383.6h0M159.8 389.3h0M162.2 370.8h0M153.0 376.8h0M127.8 383.2h0M183.6 376.5h0M123.7 335.7h0M161.5 390.8h0M133.6 389.0h0M136.6 387.8h0M160.2 382.3h0M125.3 378.2h0M158.3 384.2h0M144.2 384.9h0M121.1 344.6h0M140.7 361.1h0M146.9 388.9h0M155.8 368.0h0M164.4 386.4h0M113.8 368.9h0M125.9 370.7h0M126.6 382.1h0M112.9 380.3h0M181.3 378.5h0M132.1 388.1h0M135.3 334.3h0M133.0 372.0h0M123.4 367.6h0M159.8 378.8h0M144.2 382.5h0M127.6 378.9h0M134.8 380.7h0M149.3 375.2h0M147.3 390.0h0M158.6 361.1h0M166.9 332.8h0M131.0 367.5h0M121.2 372.5h0M131.5 381.7h0M143.6 336.9h0M128.6 379.8h0M147.2 385.7h0M116.2 386.7h0M140.1 386.7h0M147.5 373.5h0M123.8 383.7h0M156.1 389.0h0M173.9 383.9h0M78.9 379.5h0M124.7 360.3h0M136.8 387.0h0M156.1 388.5h0M120.2 385.6h0M143.8 376.2h0M169.2 374.3h0M146.5 386.6h0M129.4 381.6h0M128.8 388.6h0M145.4 330.1h0" stroke="#EE9E7C" stroke-width="1.8" stroke-linecap="round" fill="none"/>
<path d="M177.6 374.5h0M134.9 387.7h0M147.5 369.9h0M140.3 356.9h0M146.7 390.4h0M129.4 373.2h0M139.5 371.8h0M135.0 375.5h0M134.2 386.5h0M143.5 381.3h0M111.6 371.8h0M162.7 326.2h0M142.0 361.7h0M144.2 380.7h0M125.6 390.8h0M98.6 379.5h0M137.7 387.1h0M130.3 366.6h0M90.2 386.1h0M163.6 384.1h0M170.9 374.2h0M133.8 351.2h0M149.6 329.6h0M170.2 380.1h0M152.6 377.9h0M81.2 379.4h0M165.0 377.2h0M101.8 373.3h0M130.0 389.5h0M171.8 385.8h0M122.7 389.1h0M108.5 369.9h0M136.8 385.3h0M133.1 378.6h0M95.3 378.1h0M169.0 388.3h0M138.2 356.8h0M135.5 367.9h0M140.0 385.7h0M140.9 387.5h0M166.1 369.6h0M134.4 361.6h0M125.9 385.7h0M148.1 386.1h0M144.4 362.9h0M152.5 357.5h0M120.9 377.4h0M148.3 387.4h0M150.4 373.3h0M117.8 378.6h0M149.5 390.4h0M138.1 388.9h0M167.7 379.9h0M172.9 385.7h0M145.4 326.2h0M115.7 385.4h0M138.0 390.2h0M120.7 381.4h0M122.1 386.2h0M164.3 357.7h0M150.0 345.4h0M132.4 353.6h0M117.0 378.5h0M142.7 375.0h0M165.9 385.0h0M150.6 378.8h0M143.3 388.5h0M143.7 360.8h0M166.4 386.7h0M156.4 387.2h0M142.6 363.6h0M96.6 335.2h0M153.3 377.1h0M143.1 389.9h0M138.5 379.6h0M162.4 385.2h0M123.3 387.0h0M145.6 388.4h0M142.0 385.2h0M110.1 385.1h0M135.2 390.3h0M142.0 381.1h0M161.6 387.6h0M150.4 379.9h0M139.1 388.4h0M154.8 371.3h0M97.0 390.9h0M130.8 368.4h0M123.7 360.5h0M149.8 388.1h0M174.7 343.5h0M154.1 375.0h0M159.4 375.1h0M156.3 368.2h0M172.3 390.4h0M116.9 374.2h0M149.3 386.8h0M122.4 387.4h0M129.8 386.8h0M154.0 331.1h0" stroke="#B3E3F4" stroke-width="1.8" stroke-linecap="round" fill="none"/>
<path d="M125.7 385.1h0M153.4 386.5h0M145.2 389.7h0M138.4 386.2h0M131.9 386.0h0M118.8 336.4h0M138.8 385.9h0M141.8 384.8h0M140.1 380.8h0M169.8 385.9h0M139.9 382.2h0M146.1 374.6h0M165.6 389.5h0M156.9 376.8h0M98.2 381.3h0M138.1 353.8h0M118.7 363.7h0M123.9 381.2h0M159.1 370.0h0M172.3 376.8h0M148.4 390.2h0M92.1 389.9h0M129.8 390.5h0M133.1 369.9h0M129.6 367.1h0M172.3 351.8h0M149.3 385.2h0M153.5 378.8h0M141.0 357.1h0M157.9 387.7h0M136.3 380.6h0M112.9 333.0h0M139.4 389.4h0M125.2 390.3h0M108.4 338.8h0M99.5 380.8h0M127.4 374.5h0M134.0 377.8h0M176.5 390.0h0M126.6 358.4h0M124.7 388.4h0M137.7 390.0h0M155.8 349.0h0M113.6 390.4h0M134.0 384.3h0M165.2 368.9h0M172.7 364.1h0M123.7 374.9h0M104.2 345.6h0M136.3 365.3h0M134.6 368.9h0M161.1 389.1h0M157.3 380.9h0M140.3 378.1h0M121.9 384.2h0M145.9 328.5h0M121.7 358.9h0M120.0 383.6h0M138.2 350.3h0M179.5 365.3h0M175.7 373.9h0M169.0 385.2h0M106.3 382.4h0M151.9 381.1h0M123.6 353.8h0M149.1 381.9h0M157.4 380.9h0M153.6 389.5h0M125.9 378.6h0M118.8 380.0h0M153.9 349.0h0M165.0 364.6h0M124.1 385.3h0M121.7 382.9h0M136.8 338.1h0M128.0 383.7h0M159.1 378.4h0M160.9 389.5h0M156.3 384.7h0M127.1 364.6h0" stroke="#C6C46E" stroke-width="1.8" stroke-linecap="round" fill="none"/>
<path d="M136.6 365.0h0M101.6 363.7h0M144.7 367.6h0M129.6 390.9h0M160.5 382.3h0M102.8 388.1h0M130.0 365.0h0M145.7 362.6h0M145.0 366.8h0M131.0 380.6h0M159.1 367.1h0M130.3 373.9h0M149.9 382.5h0M138.7 389.0h0M134.5 382.4h0M124.2 380.7h0M126.0 388.5h0M128.6 356.5h0M146.2 390.2h0M127.8 387.1h0M118.8 390.4h0M151.5 368.6h0M142.3 370.2h0M150.5 388.8h0M141.2 370.5h0M172.9 382.1h0M154.2 388.8h0M145.9 389.2h0M149.4 383.3h0M159.3 391.0h0M142.8 342.0h0M154.1 389.5h0M135.7 385.5h0M170.7 377.3h0M136.4 367.5h0M75.2 383.9h0M152.8 366.0h0M133.2 338.5h0M136.4 353.0h0M153.5 379.2h0M84.6 382.1h0M104.0 374.9h0M136.6 359.1h0M113.2 385.6h0M151.9 388.8h0M149.9 389.9h0M131.1 381.9h0M156.4 369.2h0M101.1 382.7h0M137.9 380.6h0M157.5 360.1h0M167.1 383.3h0M151.0 374.0h0M169.7 389.2h0M148.2 385.7h0M137.3 378.2h0M146.5 352.0h0M188.7 388.3h0M183.6 385.2h0M147.9 390.4h0M150.2 383.3h0M150.6 388.5h0M111.0 373.0h0M130.0 390.1h0M143.3 376.3h0M124.8 387.2h0M135.9 347.3h0M115.9 388.0h0M138.0 346.3h0M159.4 389.9h0M141.0 363.8h0M156.0 353.1h0M136.5 390.8h0M123.9 381.6h0M142.3 385.1h0M104.5 374.3h0M124.7 359.7h0M133.1 376.3h0M128.4 351.6h0M147.0 356.7h0M124.2 386.5h0M157.7 377.9h0M155.8 382.5h0M141.9 387.4h0M126.4 388.5h0M116.9 389.3h0M151.8 381.8h0M134.2 384.4h0M193.1 379.8h0M156.5 379.5h0M167.4 370.2h0M121.4 371.6h0M138.1 349.0h0M129.7 350.2h0M91.8 375.1h0M144.1 377.6h0M131.0 377.1h0M133.4 380.6h0M146.8 371.4h0M159.4 388.8h0M150.8 379.1h0M173.5 380.7h0M126.1 383.7h0M155.7 377.6h0M124.4 372.3h0M134.5 386.1h0M161.1 340.3h0M149.6 341.0h0M144.3 386.3h0M144.0 382.7h0M152.8 380.9h0M164.8 382.7h0M151.9 390.9h0M131.2 390.3h0M156.2 351.9h0M139.2 389.5h0M145.2 388.0h0M143.0 385.6h0M158.7 387.6h0M144.4 378.9h0" stroke="#CC5A96" stroke-width="1.8" stroke-linecap="round" fill="none"/>
<path d="M136.9 389.4h0M141.5 388.4h0M102.5 388.6h0M189.9 378.7h0M161.9 385.0h0M179.3 388.2h0M109.9 371.9h0M138.8 390.2h0M164.2 373.7h0M129.9 358.4h0M183.3 387.9h0M117.4 377.1h0M139.4 351.0h0M132.4 383.5h0M105.8 380.7h0M135.0 365.8h0M140.0 384.7h0M117.7 377.4h0M129.9 390.9h0M159.8 369.5h0M157.8 383.4h0M149.6 345.8h0M154.9 376.2h0M167.0 384.5h0M136.6 390.7h0M125.5 378.3h0M142.4 385.2h0M143.4 390.8h0M126.7 383.0h0M145.2 367.5h0M146.7 384.3h0M162.2 368.7h0M120.8 384.2h0M166.0 373.5h0M136.3 389.9h0M111.4 362.5h0M162.8 361.4h0M151.1 373.7h0M142.9 380.5h0M116.8 387.7h0M157.8 330.2h0M119.0 362.3h0M118.1 382.1h0M138.7 359.6h0M159.8 386.0h0M140.9 379.4h0M142.6 368.4h0M121.3 380.5h0M159.3 354.7h0M132.7 390.4h0M152.7 390.2h0M144.7 366.1h0M118.9 384.6h0M110.6 380.0h0M119.9 354.7h0M119.3 337.8h0M145.6 339.5h0M167.5 378.4h0M140.4 380.2h0M133.9 390.0h0M153.0 387.1h0M122.6 378.6h0M135.1 390.0h0M158.9 387.3h0M165.0 382.6h0M132.4 387.6h0M132.4 369.6h0M130.0 368.2h0M146.1 362.2h0M171.7 328.6h0M141.5 365.5h0M116.1 381.6h0M162.3 386.0h0M162.6 390.0h0M164.0 388.8h0M157.4 388.1h0M132.7 376.4h0M118.8 382.0h0M151.6 348.3h0" stroke="#B455E6" stroke-width="1.8" stroke-linecap="round" fill="none"/>
<path d="M156.3 349.8h0M136.5 379.3h0M119.6 385.1h0M168.7 380.1h0M140.1 387.8h0M120.2 389.5h0M149.6 386.9h0M130.2 360.9h0M101.0 374.3h0M141.6 389.7h0M171.0 382.9h0M105.1 348.8h0M131.1 389.3h0M154.3 389.0h0M146.1 390.0h0M158.3 368.4h0M135.1 381.1h0M166.7 375.8h0M140.4 351.8h0M138.4 356.6h0M148.3 366.2h0M134.4 389.6h0M133.7 388.3h0M130.7 362.2h0M123.4 386.7h0M125.3 358.8h0M112.9 385.0h0M151.3 359.9h0M146.3 388.1h0M100.3 342.0h0M131.0 390.4h0M140.8 358.0h0M119.5 364.5h0M148.3 383.4h0M128.1 374.4h0M140.4 372.9h0M120.7 376.4h0M143.7 366.1h0M142.9 389.4h0M186.2 359.1h0M171.6 385.2h0M143.2 372.5h0M141.0 382.4h0M141.3 384.7h0M145.1 386.4h0M96.2 328.1h0M139.0 389.0h0M152.5 380.3h0M140.5 385.4h0M115.6 389.5h0M109.1 378.5h0M103.2 390.2h0M172.5 382.7h0M154.5 390.5h0M166.8 388.1h0M133.6 389.3h0M124.8 361.5h0M108.0 381.8h0M147.1 365.1h0M110.9 378.6h0M123.5 378.4h0M163.3 331.1h0M169.6 356.2h0M134.7 387.9h0M157.3 380.7h0M142.7 381.5h0M149.6 381.9h0M113.5 373.1h0M145.6 364.5h0M144.8 375.0h0" stroke="#3C9A50" stroke-width="1.8" stroke-linecap="round" fill="none"/>
<path d="M80.8 286.4h0M96.8 299.4h0M83.5 297.8h0M72.8 281.3h0M83.1 304.2h0M62.3 282.3h0M73.9 297.4h0M87.5 334.7h0M71.8 326.2h0M77.2 278.2h0M66.9 303.2h0M81.0 305.7h0M62.0 324.1h0M76.8 330.6h0M89.1 300.9h0M74.9 292.5h0M90.8 306.3h0M85.3 308.0h0M87.8 280.8h0M72.7 305.0h0M80.0 294.3h0M69.4 325.5h0M72.7 309.8h0M75.2 304.3h0M86.7 313.0h0M98.0 298.1h0M65.9 302.9h0M97.3 305.6h0M55.2 280.8h0M57.9 313.6h0M99.8 315.6h0M94.3 311.6h0M82.9 317.0h0M83.2 282.9h0M81.2 303.6h0M56.6 297.7h0M88.4 296.9h0M75.4 282.2h0M57.1 286.5h0M86.3 298.5h0M88.8 284.0h0M95.5 294.8h0M92.4 282.6h0M77.8 307.2h0M88.3 330.7h0M80.4 306.3h0M82.5 298.6h0M101.4 279.1h0M77.3 289.2h0M53.2 309.7h0M75.8 302.3h0M63.8 296.3h0M69.5 282.3h0M96.6 282.8h0M85.5 305.4h0M72.1 284.6h0M78.9 311.9h0M91.8 301.2h0M82.9 284.8h0M99.6 327.1h0M69.6 292.6h0M83.6 293.0h0M82.0 277.0h0M70.9 294.2h0M84.5 307.7h0M88.4 319.7h0M93.8 305.8h0M58.6 296.4h0M82.3 303.2h0M87.5 281.1h0M94.0 297.7h0M85.0 311.5h0M81.3 304.1h0M73.2 310.1h0M96.8 293.0h0M79.8 308.7h0M97.5 297.7h0M82.0 285.8h0M84.1 278.1h0M71.8 289.7h0M66.1 286.0h0M83.9 292.2h0M78.7 302.1h0M95.4 287.6h0M65.5 281.6h0M66.1 305.0h0M92.3 306.8h0M70.6 307.6h0M68.3 305.8h0M57.2 290.9h0M70.1 306.4h0M86.6 307.4h0M90.3 314.2h0M59.4 296.1h0M83.7 284.0h0M69.4 315.7h0M72.0 314.4h0M86.4 297.2h0M77.8 287.3h0M82.9 286.9h0M86.6 314.9h0M86.4 289.3h0M83.4 291.3h0M89.3 315.9h0M74.2 301.4h0M69.7 300.1h0M70.4 288.9h0M80.0 304.5h0M71.0 302.4h0M82.1 309.6h0M78.1 281.1h0M96.5 318.1h0M69.3 327.8h0M93.2 307.7h0M87.8 294.4h0M105.3 318.2h0M73.2 319.2h0M86.2 289.5h0M74.0 299.2h0M76.0 303.2h0M83.4 286.6h0M90.5 298.3h0M96.3 314.0h0M76.4 331.1h0M72.6 281.1h0M81.6 309.7h0M92.5 278.2h0M87.0 291.1h0M87.8 309.9h0M90.8 284.7h0M80.9 305.5h0M87.2 293.4h0M103.0 310.9h0M86.8 279.6h0M73.6 330.3h0M76.5 285.9h0M78.1 290.3h0M83.9 281.7h0M87.5 319.8h0M63.8 306.4h0M72.3 301.4h0M76.2 322.5h0M69.2 282.6h0M58.3 286.7h0M66.7 304.5h0M91.8 288.2h0M65.8 295.6h0M97.8 297.3h0M80.8 296.0h0M81.8 304.3h0M100.8 283.5h0M101.8 316.1h0M67.3 300.5h0M91.5 289.5h0M87.0 292.1h0M72.5 304.3h0M76.6 298.4h0M70.1 308.0h0M98.6 321.8h0M109.3 300.1h0M64.3 277.7h0M71.5 305.0h0M78.4 302.3h0M69.8 302.3h0M92.1 297.5h0M82.9 278.1h0M77.5 296.1h0M61.8 302.8h0M62.5 297.7h0M80.4 323.6h0M58.8 325.7h0M89.2 282.8h0M75.0 329.6h0M91.5 282.4h0M83.7 293.3h0M86.8 342.0h0M84.7 324.3h0M72.9 314.5h0M73.5 284.5h0M76.1 301.9h0M81.7 308.1h0M89.0 286.4h0M77.9 306.2h0M95.1 280.2h0M75.6 321.4h0M67.6 299.5h0M72.1 287.7h0M73.3 321.4h0M96.0 313.1h0M89.6 322.5h0M84.8 279.6h0M79.5 291.0h0M83.5 298.7h0M66.9 278.3h0M107.5 301.9h0M86.7 301.2h0M91.9 296.8h0M93.6 298.7h0M79.9 277.5h0M78.9 309.1h0M111.6 291.1h0M122.6 344.8h0M56.6 326.2h0M59.2 296.8h0M78.3 342.3h0M112.2 288.0h0M61.3 367.3h0M89.6 297.7h0M47.3 294.9h0M44.8 333.8h0M64.8 335.6h0M47.4 335.0h0M103.7 336.0h0M122.4 318.0h0M67.5 326.1h0M116.2 357.3h0M89.8 301.7h0M48.8 309.6h0M90.3 317.8h0M115.2 292.7h0M58.8 311.1h0M78.5 334.7h0M61.6 335.2h0M96.1 371.3h0M63.3 316.5h0M76.4 331.1h0M81.4 345.0h0M98.8 354.2h0M124.5 367.2h0M121.5 298.6h0M69.9 280.8h0M80.9 370.5h0M39.3 315.6h0M69.3 292.2h0M74.0 342.0h0M103.6 351.0h0M105.5 309.7h0M118.5 354.9h0M111.8 305.8h0M48.0 301.1h0M80.4 354.8h0M93.2 347.1h0M54.3 335.4h0M104.7 298.2h0M111.9 309.5h0M107.3 346.7h0M65.5 343.5h0M57.6 344.6h0M47.4 334.5h0M37.6 292.6h0M43.3 304.6h0M42.9 284.4h0M121.2 362.1h0M98.5 344.9h0M99.7 313.2h0M115.6 286.4h0M47.9 370.3h0M120.8 284.3h0M118.5 325.7h0M52.6 361.5h0M89.0 328.5h0M94.9 306.8h0M101.9 302.9h0M94.3 298.9h0M90.1 330.7h0M109.8 332.7h0M105.7 310.2h0M99.7 326.3h0M102.8 336.6h0M112.7 327.0h0M105.9 320.4h0M121.6 332.3h0M107.4 306.4h0M124.6 341.8h0M104.8 337.9h0M85.9 310.4h0M102.0 323.4h0M105.4 307.1h0M99.5 323.0h0M83.5 313.4h0M87.6 320.6h0M93.4 303.0h0M111.9 324.7h0M108.2 343.8h0M91.4 311.0h0M119.3 359.2h0M89.1 320.4h0M113.7 350.7h0M94.4 314.4h0M95.2 295.7h0M84.3 305.9h0M88.9 301.6h0M120.2 350.6h0M105.6 327.9h0M115.9 346.8h0M109.8 326.9h0M84.5 300.7h0M104.5 341.4h0M108.8 350.2h0M111.3 319.4h0M113.1 340.6h0M91.0 313.3h0M123.9 349.0h0M126.6 348.8h0M124.3 349.0h0M102.1 318.9h0M117.5 347.0h0M100.7 343.4h0M108.6 309.5h0M85.5 323.9h0M97.7 298.4h0M126.3 344.1h0M99.4 307.2h0M124.1 354.4h0M99.5 318.0h0M91.9 319.5h0M132.1 330.5h0M115.1 338.4h0M81.0 307.6h0M104.4 328.9h0M106.5 315.9h0M90.6 309.7h0M91.7 336.0h0M121.4 355.6h0M107.0 346.3h0M122.7 334.9h0M104.1 328.5h0M92.4 302.0h0M88.0 301.8h0M94.0 298.1h0M127.0 340.9h0M111.2 351.1h0M110.2 318.3h0M87.2 314.4h0M120.6 341.7h0M108.7 326.2h0M101.0 335.1h0M126.9 351.2h0M87.6 325.5h0M70.4 311.7h0M123.6 354.1h0M116.0 335.4h0M95.2 305.5h0M115.1 318.7h0M90.9 310.0h0M113.9 330.5h0M108.1 358.5h0M118.5 335.2h0M102.7 316.4h0M93.1 296.7h0M101.5 323.0h0M114.1 331.2h0M121.5 323.4h0M119.9 356.1h0M98.3 327.6h0M107.7 352.1h0M105.2 338.4h0M114.7 338.7h0M93.6 328.5h0M126.2 348.1h0M79.8 310.7h0M102.6 326.6h0M105.2 333.5h0M131.7 332.1h0M115.3 334.2h0M97.0 323.7h0M94.1 315.9h0M106.4 330.5h0M118.0 355.2h0M102.5 342.1h0" stroke="#8E3B3E" stroke-width="1.8" stroke-linecap="round" fill="none"/>
<path d="M104.7 377.0h0M123.2 363.2h0M128.9 375.9h0M151.5 362.4h0M126.4 383.5h0M116.0 375.5h0M120.9 365.6h0M139.3 379.6h0M88.4 366.4h0M135.8 374.3h0M138.4 364.0h0M119.7 366.2h0M138.0 380.7h0M111.9 390.8h0M106.9 388.6h0M99.7 382.6h0M119.5 373.9h0M127.7 380.6h0M124.1 371.1h0M103.0 371.3h0M122.7 369.9h0M129.9 381.3h0M128.1 375.2h0M142.0 358.7h0M107.3 375.1h0M127.1 384.5h0M119.7 377.5h0M123.2 366.0h0M114.1 372.4h0M122.5 372.2h0M102.9 381.0h0M113.6 377.9h0M135.3 369.4h0M113.8 381.0h0M117.5 354.0h0M127.1 353.8h0M129.4 379.4h0M139.0 353.2h0M110.9 387.0h0M118.6 374.7h0M104.2 373.4h0M128.2 384.2h0M122.9 390.2h0M124.5 372.9h0M107.1 376.5h0M131.4 362.7h0M105.5 359.8h0M104.5 359.5h0M114.4 385.3h0M109.4 368.2h0M129.5 387.5h0M123.4 360.9h0M111.3 363.4h0M135.6 373.7h0M130.8 382.0h0M118.2 363.1h0M110.6 367.0h0M106.9 364.8h0M125.2 389.9h0M120.9 375.8h0M125.5 376.4h0M126.5 364.9h0M125.4 370.3h0M112.1 364.2h0M126.2 387.8h0M120.9 370.2h0M91.1 351.3h0M114.4 359.5h0M136.9 349.0h0M126.5 358.3h0M115.3 353.4h0M114.2 382.6h0M126.7 368.5h0M116.0 359.0h0M100.1 390.6h0M102.8 366.7h0M153.8 388.7h0M117.3 369.0h0M121.9 372.0h0M123.9 377.7h0M126.2 387.5h0M131.1 371.6h0M122.7 387.6h0M116.0 363.4h0M118.6 388.3h0M120.5 375.7h0M144.3 373.2h0M145.2 370.0h0M131.7 374.6h0M145.4 377.9h0M114.5 374.1h0M110.7 358.0h0M90.6 390.7h0M133.3 365.6h0M127.5 363.2h0M104.6 362.0h0M129.0 378.9h0M117.4 364.0h0M124.7 369.0h0M135.5 387.4h0M130.3 380.6h0M120.8 371.7h0M115.9 361.7h0M135.3 371.1h0M106.2 376.8h0M126.1 362.0h0M134.3 364.5h0M140.7 377.7h0M100.7 368.9h0M128.9 386.2h0M118.3 358.5h0M118.6 366.5h0M134.1 363.8h0M124.9 374.8h0M85.5 365.0h0M131.4 381.3h0M106.9 390.4h0M129.2 371.5h0M113.8 376.2h0M111.7 366.4h0M121.8 383.0h0M129.0 363.6h0M108.5 370.6h0M138.6 376.4h0M113.7 362.0h0M127.2 378.9h0M146.0 369.9h0M116.4 375.2h0M125.3 368.3h0M131.1 359.7h0M133.5 378.6h0M135.4 373.8h0M123.7 373.5h0M122.7 368.3h0M124.7 377.3h0M115.5 367.7h0M97.3 373.7h0M126.3 388.0h0M122.3 368.3h0M158.2 376.3h0M115.6 367.8h0M105.3 375.0h0M113.2 369.8h0M114.4 379.7h0M128.8 366.0h0M115.2 368.4h0M129.4 387.9h0M113.9 373.8h0M114.7 389.5h0M123.9 370.2h0M123.1 361.3h0M102.6 371.4h0M128.0 375.9h0M118.8 369.9h0M148.1 358.2h0M119.0 355.2h0M126.1 389.4h0M108.7 363.9h0M129.1 376.6h0M114.2 381.2h0M124.2 380.6h0M133.5 340.5h0M103.3 356.0h0M93.1 358.4h0M118.0 377.4h0M123.1 366.5h0M129.0 358.7h0M139.0 377.4h0M115.6 379.0h0M116.9 371.9h0M107.8 358.0h0M127.7 374.7h0M136.8 362.6h0M120.6 369.9h0M134.1 374.1h0M114.4 373.5h0M115.2 369.2h0M139.7 370.6h0M138.6 378.0h0M123.1 372.7h0M107.7 346.7h0M124.9 363.7h0M105.3 371.6h0M128.7 381.8h0M116.1 366.4h0M108.7 365.5h0M120.3 376.0h0M155.3 360.8h0M128.6 377.9h0M129.1 365.3h0M105.4 373.4h0M130.5 374.9h0M100.0 375.6h0M113.4 382.6h0M124.7 369.5h0M150.9 364.1h0M111.6 371.9h0M128.7 389.2h0M117.7 382.4h0M95.5 362.1h0M130.1 359.5h0M154.7 369.9h0M132.3 357.5h0M110.7 358.9h0M120.2 382.8h0M128.9 382.2h0M107.8 381.2h0M124.1 388.1h0M113.1 351.8h0M121.7 373.4h0M115.8 365.5h0M122.5 382.1h0M126.7 362.0h0M111.8 376.2h0M143.0 380.4h0M107.2 381.7h0M128.7 387.8h0M148.8 386.9h0M142.0 373.2h0M119.6 356.7h0M100.4 388.8h0M145.8 373.2h0M78.6 347.9h0M66.7 350.5h0M65.6 358.6h0M138.1 385.6h0M89.6 360.5h0M94.7 346.7h0M68.3 369.3h0M105.0 342.1h0M90.3 374.9h0M65.4 389.8h0M121.0 332.7h0M101.3 339.1h0M92.2 384.3h0M71.4 337.9h0M102.7 383.7h0M61.0 380.9h0M88.4 371.5h0M88.9 381.7h0M59.0 376.9h0M111.7 340.2h0M133.8 373.7h0M59.6 372.9h0M133.7 350.0h0M84.8 385.1h0M157.8 357.4h0M128.6 346.0h0M57.7 330.2h0M115.7 356.0h0M65.4 339.3h0M105.1 348.8h0M57.2 345.9h0M133.5 344.2h0M130.2 368.3h0M101.7 383.1h0M72.4 340.7h0M61.2 379.0h0M103.9 382.3h0M115.4 358.2h0M59.5 342.3h0M109.0 367.4h0M69.5 374.1h0M126.1 380.0h0M77.9 335.2h0M155.5 388.1h0M143.5 374.9h0M111.4 353.3h0M138.2 346.2h0M57.7 346.2h0M97.0 343.3h0M72.0 353.3h0M87.1 331.2h0M97.3 354.8h0M77.3 341.9h0M119.5 367.0h0M151.8 359.8h0M64.2 334.1h0M115.6 385.8h0M71.4 335.1h0M148.5 362.8h0M67.6 354.7h0M145.1 383.0h0M102.5 352.1h0M106.7 348.9h0M76.6 377.9h0M72.1 337.1h0M97.0 338.2h0M115.6 347.2h0M85.5 386.0h0" stroke="#16169E" stroke-width="1.8" stroke-linecap="round" fill="none"/>
<path d="M80.4 390.8h0M141.5 390.2h0M112.3 390.9h0M76.4 390.2h0M94.7 389.4h0M120.1 390.3h0M69.7 390.3h0M98.9 390.6h0M69.5 390.8h0M99.9 390.5h0M110.7 390.9h0M70.0 390.7h0M93.0 389.9h0M80.4 390.8h0M121.9 390.4h0M118.8 390.9h0M68.8 390.6h0M106.4 390.8h0M89.5 390.4h0M81.7 390.8h0M95.2 390.0h0M57.3 390.9h0M96.7 390.6h0M83.4 390.9h0M107.0 391.0h0M119.7 389.7h0M144.4 391.0h0M94.7 390.5h0M94.2 391.0h0M133.2 390.2h0M67.6 390.7h0M68.3 390.0h0M111.2 390.8h0M71.2 390.2h0M130.2 390.8h0M126.4 390.0h0M88.3 390.1h0M113.0 390.9h0M103.8 390.7h0M148.7 391.0h0M62.6 390.6h0M121.6 390.8h0M114.0 390.7h0M118.0 390.4h0M82.2 390.6h0M80.7 390.5h0M148.7 390.4h0M119.4 390.6h0M86.5 390.0h0M139.4 390.5h0M92.6 390.4h0M86.5 390.5h0M55.0 390.8h0M143.0 390.5h0M109.8 390.8h0M61.8 390.8h0M127.2 390.1h0M139.8 391.0h0M134.8 390.3h0M147.9 390.9h0" stroke="#16169E" stroke-width="1.8" stroke-linecap="round" fill="none"/>
<path d="M127.4 390.3h0M137.8 389.9h0M89.9 390.6h0M139.5 391.0h0M54.6 390.5h0M152.6 390.7h0M74.2 390.7h0M87.8 390.2h0M137.2 390.8h0M173.8 390.9h0M67.7 390.7h0M148.4 390.3h0M115.1 390.5h0M173.7 390.7h0M81.5 390.2h0M80.4 389.9h0M57.8 390.3h0M67.9 390.7h0M148.5 390.9h0M162.9 390.9h0M119.9 390.9h0M104.5 390.0h0M89.7 390.7h0M130.7 390.9h0M185.1 390.5h0M151.0 390.9h0M132.6 390.8h0M75.1 390.7h0M151.5 390.4h0M181.3 390.3h0M162.6 390.6h0M155.4 390.5h0M113.2 389.5h0M110.2 390.3h0M166.3 390.8h0M128.1 389.7h0M112.2 390.9h0M131.1 390.8h0M77.8 390.9h0M78.4 390.2h0M67.7 390.8h0M88.4 390.0h0M116.3 390.9h0M127.7 390.6h0M116.8 390.9h0M82.5 390.5h0M66.0 390.7h0M117.1 390.8h0M113.5 391.0h0M153.6 390.8h0M166.4 390.7h0M70.6 390.1h0M113.9 390.3h0M175.8 390.5h0M93.3 390.7h0M161.4 390.9h0M113.4 390.7h0M141.4 390.7h0M160.3 390.3h0M169.4 391.0h0M168.8 391.0h0M155.7 390.4h0M134.5 391.0h0M182.8 390.4h0M83.8 389.8h0M73.4 390.4h0M143.5 390.6h0M86.8 390.7h0M86.9 390.9h0M186.0 390.5h0M94.1 390.9h0M137.2 390.7h0M177.7 390.2h0M156.3 390.2h0M167.3 390.4h0M101.2 390.8h0M145.2 390.4h0M159.0 390.3h0M71.7 390.6h0M175.3 390.9h0" stroke="#CC5A96" stroke-width="1.8" stroke-linecap="round" fill="none"/>
<path d="M118.0 390.4h0M100.1 390.7h0M84.8 390.3h0M151.8 390.5h0M166.4 390.6h0M68.2 390.9h0M181.5 390.7h0M74.5 390.7h0M126.9 390.3h0M79.3 390.8h0M160.4 390.4h0M70.4 390.3h0M153.6 390.9h0M137.8 390.4h0M83.2 390.4h0M122.5 391.0h0M185.7 390.6h0M176.8 390.9h0M91.5 390.3h0M147.8 390.4h0M179.5 390.5h0M160.5 390.7h0M113.5 390.7h0M130.9 390.2h0M139.8 390.6h0M62.7 390.0h0M124.9 390.5h0M139.9 390.3h0M94.5 390.2h0M183.7 390.4h0M103.3 390.6h0M130.7 390.6h0M69.7 390.8h0M54.1 390.3h0M78.9 390.7h0M98.9 390.6h0M84.1 390.8h0M172.6 390.3h0M135.7 390.9h0M107.3 391.0h0M145.7 390.1h0M92.4 390.8h0M130.9 389.4h0M146.7 390.8h0M185.3 390.3h0M164.8 390.0h0M128.8 390.5h0M66.5 390.3h0M88.1 390.9h0M155.5 390.7h0" stroke="#B455E6" stroke-width="1.8" stroke-linecap="round" fill="none"/>
<path d="M54.5 390.9h0M89.9 390.5h0M124.7 390.5h0M119.3 389.8h0M140.1 390.7h0M84.6 390.3h0M96.0 391.0h0M123.2 390.9h0M168.4 390.7h0M61.8 390.7h0M165.1 390.8h0M95.3 390.3h0M72.2 390.9h0M115.7 390.6h0M73.1 390.3h0M140.4 389.7h0M171.7 390.1h0M54.7 391.0h0M121.9 390.3h0M63.2 390.3h0M108.7 390.9h0M82.8 390.7h0M110.4 390.8h0M177.5 390.5h0M144.0 391.0h0M134.2 390.7h0M132.4 390.0h0M185.7 390.6h0M59.1 391.0h0M157.7 390.5h0M180.1 390.5h0M125.3 390.9h0M153.4 390.3h0M182.4 390.1h0M140.7 390.3h0M155.6 390.9h0M147.9 390.2h0M58.4 390.0h0M106.2 391.0h0M119.5 390.4h0" stroke="#D3C6CC" stroke-width="1.8" stroke-linecap="round" fill="none"/>
<path d="M138.9 390.5h0M74.1 390.4h0M139.8 390.8h0M68.8 390.8h0M122.5 390.9h0M84.6 390.8h0M149.3 390.8h0M95.1 390.5h0M73.0 389.2h0M155.4 390.4h0M169.8 390.8h0M152.8 390.8h0M141.7 389.6h0M101.6 390.7h0M57.0 390.3h0M94.0 391.0h0M106.8 390.9h0M63.5 390.5h0M82.8 390.6h0M108.1 390.5h0M87.5 390.9h0M85.2 390.5h0M125.2 390.7h0M137.2 390.6h0M99.8 390.4h0" stroke="#EE9E7C" stroke-width="1.8" stroke-linecap="round" fill="none"/>
<polyline points="37.4,300.3 38.3,301.5 39.5,302.9 40.9,304.6 42.4,306.6 44.1,308.6 45.9,310.9 47.7,313.2 49.6,315.6 51.5,317.9 53.4,320.3 55.3,322.6 57.2,324.9 59.1,327.4 61.1,329.9 63.1,332.5 65.1,335.1 67.2,337.7 69.3,340.3 71.4,342.9 73.5,345.3 75.6,347.7 77.6,349.9 79.7,352.0 81.8,354.1 83.9,356.1 86.1,358.1 88.2,360.0 90.3,361.8 92.4,363.6 94.4,365.3 96.4,366.9 98.2,368.4 100.0,369.8 101.6,371.1 103.0,372.3 104.3,373.3 105.6,374.3 106.7,375.2 107.9,376.0 109.1,376.8 110.3,377.5 111.7,378.3 113.2,379.0 114.9,379.7 116.7,380.4 118.5,381.1 120.3,381.7 122.2,382.3 124.2,382.9 126.3,383.4 128.5,383.9 131.0,384.5 133.6,384.9 136.5,385.4 139.7,385.9 143.4,386.4 147.7,386.8 152.5,387.3 157.6,387.8 162.8,388.2 168.0,388.6 173.0,389.0 177.7,389.3 181.8,389.6 185.3,389.9 188.0,390.1" fill="none" stroke="#111" stroke-width="1.3" stroke-linejoin="round" stroke-linecap="round"/>
<rect x="117" y="272" width="78" height="52" fill="#FFFFFF" stroke="none" stroke-width="1"/>
<rect x="124.4" y="277.6" width="65.9" height="38.4" fill="#EBEBEB" stroke="none" stroke-width="1"/>
<line x1="128.00" y1="309.80" x2="128.00" y2="279.50" stroke="#777" stroke-width="0.4"/>
<ellipse cx="128" cy="309" rx="0.8" ry="0.8" fill="#8E3B3E" opacity="0.7"/>
<text x="129" y="319" font-size="3.1" fill="#333" transform="rotate(-38 129 319)" text-anchor="end">LEF1+Tstem</text>
<line x1="135.90" y1="309.80" x2="135.90" y2="290.00" stroke="#777" stroke-width="0.4"/>
<ellipse cx="135.9" cy="309" rx="1.2" ry="0.8" fill="#16169E" opacity="0.7"/>
<text x="136.9" y="319" font-size="3.1" fill="#333" transform="rotate(-38 136.9 319)" text-anchor="end">GZMK+Tcms</text>
<line x1="143.20" y1="309.80" x2="143.20" y2="305.00" stroke="#777" stroke-width="0.4"/>
<ellipse cx="143.2" cy="309" rx="2.2" ry="0.8" fill="#B455E6" opacity="0.7"/>
<text x="144.2" y="319" font-size="3.1" fill="#333" transform="rotate(-38 144.2 319)" text-anchor="end">KLF2+Tcms</text>
<line x1="150.40" y1="309.80" x2="150.40" y2="287.00" stroke="#777" stroke-width="0.4"/>
<ellipse cx="150.4" cy="309" rx="0.8" ry="0.8" fill="#EE9E7C" opacity="0.7"/>
<text x="151.4" y="319" font-size="3.1" fill="#333" transform="rotate(-38 151.4 319)" text-anchor="end">XCL1+Trms</text>
<line x1="157.70" y1="309.80" x2="157.70" y2="296.00" stroke="#777" stroke-width="0.4"/>
<ellipse cx="157.7" cy="309" rx="1" ry="0.8" fill="#B3E3F4" opacity="0.7"/>
<text x="158.7" y="319" font-size="3.1" fill="#333" transform="rotate(-38 158.7 319)" text-anchor="end">CX3CR1+Tems</text>
<line x1="164.70" y1="309.80" x2="164.70" y2="296.00" stroke="#777" stroke-width="0.4"/>
<ellipse cx="164.7" cy="309" rx="2" ry="0.8" fill="#C6C46E" opacity="0.7"/>
<text x="165.7" y="319" font-size="3.1" fill="#333" transform="rotate(-38 165.7 319)" text-anchor="end">Teff</text>
<line x1="171.70" y1="309.80" x2="171.70" y2="290.00" stroke="#777" stroke-width="0.4"/>
<ellipse cx="171.7" cy="309" rx="2" ry="0.8" fill="#D3C6CC" opacity="0.7"/>
<text x="172.7" y="319" font-size="3.1" fill="#333" transform="rotate(-38 172.7 319)" text-anchor="end">GZMH+Trms</text>
<line x1="178.80" y1="309.80" x2="178.80" y2="295.00" stroke="#777" stroke-width="0.4"/>
<ellipse cx="178.8" cy="309" rx="2" ry="0.8" fill="#CC5A96" opacity="0.7"/>
<text x="179.8" y="319" font-size="3.1" fill="#333" transform="rotate(-38 179.8 319)" text-anchor="end">Texh</text>
<line x1="186.30" y1="309.80" x2="186.30" y2="295.00" stroke="#777" stroke-width="0.4"/>
<ellipse cx="186.3" cy="309" rx="1" ry="0.8" fill="#3C9A50" opacity="0.7"/>
<text x="187.3" y="319" font-size="3.1" fill="#333" transform="rotate(-38 187.3 319)" text-anchor="end">TLdys</text>
<text x="118" y="297" font-size="2.9" fill="#444" transform="rotate(-90 118 297)" text-anchor="middle">Naive score</text>
<path d="M380.1 285.0h0M329.5 303.4h0M374.0 284.1h0M380.0 317.0h0M345.6 303.1h0M382.4 291.7h0M325.2 335.9h0M375.2 331.6h0M377.5 307.1h0M367.9 362.6h0M353.8 296.0h0M343.6 356.3h0M345.2 292.0h0M348.5 361.9h0M348.6 342.3h0M379.3 308.5h0M356.6 360.9h0M330.1 304.1h0M343.6 363.3h0M362.5 295.1h0M372.4 326.1h0M375.3 343.6h0M373.6 324.9h0M362.5 315.8h0M377.6 296.7h0M345.2 362.2h0M354.7 364.9h0M387.0 319.7h0M326.9 347.2h0M360.9 336.8h0M378.7 338.2h0M319.8 324.1h0M337.6 319.6h0M317.4 317.5h0M350.5 351.8h0M324.3 289.5h0M368.1 342.0h0M320.9 297.7h0M344.0 298.6h0M379.2 364.0h0M352.5 354.3h0M376.5 321.6h0M364.0 347.7h0M327.4 319.2h0M340.1 362.2h0M380.8 293.4h0M387.8 310.7h0M349.3 308.0h0M367.6 326.6h0M348.4 353.4h0M324.7 319.1h0M380.4 316.3h0M391.2 316.4h0M348.0 291.2h0M370.5 339.0h0M353.1 325.1h0M353.2 353.1h0M375.7 355.9h0M334.4 353.9h0M343.4 345.7h0M385.3 329.7h0M377.7 289.8h0M339.6 353.2h0M330.1 348.3h0M368.5 320.2h0M355.4 341.8h0M376.5 281.7h0M365.9 303.1h0M369.7 346.5h0M392.8 333.9h0M381.2 324.3h0M380.3 285.1h0M360.2 292.1h0M361.9 362.3h0M356.1 287.6h0M345.8 330.3h0M367.2 354.4h0M342.6 344.1h0M342.0 286.6h0M330.9 347.8h0M339.0 300.6h0M322.9 297.7h0M374.3 355.5h0M387.7 293.0h0M384.2 311.5h0M377.5 287.8h0M375.2 290.1h0M348.6 345.3h0M350.7 344.2h0M338.3 300.3h0M364.2 322.3h0M321.8 315.5h0M376.1 318.5h0M367.2 301.8h0M348.3 349.2h0M357.4 295.3h0M354.3 308.9h0M378.4 345.3h0M340.4 357.3h0M383.9 327.0h0M323.0 315.4h0M369.1 341.5h0M359.3 356.0h0M385.9 327.9h0M338.8 337.0h0M375.4 317.9h0M380.9 335.1h0M386.4 294.7h0M329.3 326.3h0M359.3 284.0h0M371.9 341.6h0M327.1 336.1h0M329.7 338.5h0M360.4 293.3h0M340.5 355.8h0M390.9 335.3h0M347.5 332.3h0M368.0 317.5h0M374.3 321.4h0M390.6 319.0h0M382.7 351.0h0M377.0 301.6h0M332.1 286.1h0M377.8 303.3h0M318.3 313.4h0M365.5 337.7h0M348.9 323.0h0M353.8 315.1h0M360.2 318.2h0M352.1 341.4h0M322.5 292.3h0M330.3 345.1h0M322.8 324.6h0M350.4 359.7h0M344.7 305.4h0M362.5 312.2h0M365.2 314.8h0M371.6 289.3h0M346.9 345.5h0M383.8 291.4h0M379.2 329.7h0M324.1 299.6h0M342.4 306.8h0M339.9 346.0h0M331.2 296.4h0M351.5 358.6h0M343.3 297.1h0M335.9 294.0h0M339.5 329.6h0M343.9 365.4h0" stroke="#D3C6CC" stroke-width="1.8" stroke-linecap="round" fill="none"/>
<path d="M323.6 319.6h0M364.0 348.3h0M352.2 364.5h0M359.6 345.9h0M378.2 335.3h0M341.1 288.5h0M335.5 307.9h0M333.0 344.6h0M389.8 297.6h0M352.0 343.4h0M365.7 336.3h0M345.2 330.0h0M339.9 303.2h0M328.7 329.7h0M372.1 321.3h0M362.2 347.5h0M332.2 339.7h0M328.6 346.9h0M390.6 306.9h0M366.6 324.2h0M324.1 306.0h0M322.2 326.4h0M342.0 296.7h0M358.7 320.3h0M356.2 364.9h0M354.8 327.7h0M332.2 283.0h0M338.2 318.9h0M363.9 352.3h0M380.7 367.1h0M324.0 301.0h0M337.1 343.3h0M362.9 293.2h0M318.6 311.6h0M370.9 333.8h0M335.4 346.9h0M365.8 317.8h0M332.0 341.3h0M372.9 311.7h0M375.6 283.8h0M365.6 346.2h0M347.2 307.8h0M362.0 317.8h0M342.9 304.6h0M358.0 284.6h0M353.4 332.3h0M338.3 323.1h0M337.7 322.2h0M338.6 354.2h0M376.8 310.5h0" stroke="#EE9E7C" stroke-width="1.8" stroke-linecap="round" fill="none"/>
<path d="M340.4 310.7h0M383.1 298.9h0M357.1 284.9h0M389.2 334.9h0M344.0 339.9h0M367.7 320.9h0M328.8 298.3h0M348.5 289.8h0M326.9 326.1h0M373.9 361.8h0M385.9 320.6h0M386.8 348.2h0M378.2 319.0h0M373.5 364.2h0M349.9 358.5h0M372.4 336.2h0M346.7 354.3h0M333.5 295.0h0M337.5 309.5h0M346.2 338.6h0M325.4 310.4h0M329.7 319.5h0M370.3 334.5h0M323.6 335.9h0M336.2 356.6h0M345.1 364.0h0M348.3 359.2h0M330.6 340.1h0M345.0 342.8h0M374.5 319.6h0M320.2 302.5h0M374.3 354.8h0M375.1 358.7h0M325.5 343.9h0M382.9 309.2h0M342.1 320.2h0M356.6 340.1h0M383.7 306.4h0M354.5 324.7h0M354.6 326.9h0M327.6 338.8h0M321.1 302.8h0M347.7 311.4h0M327.8 313.4h0M360.1 325.0h0M379.8 333.6h0M373.0 317.5h0M341.7 295.5h0M378.4 321.3h0M366.3 324.6h0M353.1 346.7h0M375.6 327.7h0M353.1 305.6h0M327.3 341.7h0M326.2 323.6h0M317.7 325.4h0M369.2 329.8h0M390.2 305.0h0M358.4 287.9h0M345.5 337.5h0M344.4 329.5h0M322.0 303.8h0M348.8 309.5h0M327.9 319.1h0M317.6 324.5h0M332.0 333.5h0M347.0 319.2h0M384.2 310.6h0M360.4 309.9h0M359.3 356.7h0M378.3 282.9h0M380.4 315.9h0M351.8 311.9h0M337.3 355.2h0M360.9 348.8h0M343.5 323.4h0M316.5 311.5h0M354.6 330.8h0M380.3 303.9h0M327.0 327.6h0M367.7 331.7h0M315.2 320.1h0M347.8 323.6h0M374.9 297.0h0M366.9 331.5h0M344.4 322.8h0M340.1 298.7h0M375.5 347.9h0M321.2 309.5h0M379.6 306.4h0M381.7 325.6h0M382.2 296.4h0M324.5 341.7h0M333.1 326.2h0M353.4 282.2h0M392.1 317.0h0M370.6 345.9h0M388.4 296.6h0M388.4 290.4h0M383.8 343.6h0M351.8 323.0h0M365.4 346.3h0M349.6 349.7h0M340.7 287.6h0M334.0 312.9h0M324.9 348.6h0M384.3 333.7h0M368.9 314.0h0M369.2 337.6h0M320.7 304.6h0M345.9 338.4h0M321.9 317.9h0M344.0 331.6h0M379.8 347.6h0M351.3 337.0h0M369.3 349.6h0M357.6 307.4h0M369.0 306.6h0M334.9 312.9h0M366.4 353.4h0" stroke="#B455E6" stroke-width="1.8" stroke-linecap="round" fill="none"/>
<path d="M373.7 348.8h0M379.7 307.4h0M317.0 313.2h0M320.1 319.1h0M377.6 294.2h0M381.3 301.6h0M344.5 358.2h0M373.6 368.2h0M357.8 364.0h0M378.2 356.2h0M352.7 364.2h0M340.8 296.4h0M338.7 296.8h0M360.7 366.5h0M363.5 366.4h0M346.9 289.0h0M345.1 317.2h0M366.2 299.5h0M375.2 283.8h0M331.0 338.6h0M366.2 300.5h0M366.0 344.9h0M360.0 363.9h0M337.1 300.4h0M353.4 296.1h0M381.0 321.2h0M356.9 345.8h0M376.1 356.7h0M352.1 320.6h0M341.3 299.8h0M330.3 288.9h0M355.2 303.0h0M353.4 303.1h0M327.3 313.9h0M355.9 346.5h0M326.5 311.9h0M354.2 364.1h0M344.3 287.5h0M342.2 303.3h0M370.6 303.4h0M331.5 330.3h0M360.3 298.7h0M353.3 291.7h0M384.5 311.6h0M379.1 294.6h0M326.2 337.9h0M353.6 316.2h0M342.9 347.3h0M367.1 308.8h0M329.8 319.2h0M360.4 346.0h0M329.2 334.9h0M337.1 336.2h0M331.8 318.2h0M365.6 353.8h0M372.8 313.5h0M360.0 306.0h0M391.2 327.0h0M363.7 292.9h0M373.0 355.0h0M366.0 298.5h0M332.3 295.4h0M351.4 315.7h0M367.2 353.0h0M378.4 332.1h0M362.1 283.5h0M328.1 326.7h0M370.6 332.4h0M372.1 280.1h0M322.5 296.0h0M354.6 317.1h0M321.6 310.3h0M322.6 304.5h0M368.6 319.6h0M361.3 366.1h0M363.3 344.4h0M341.2 345.0h0M363.6 350.4h0M374.5 310.1h0M372.6 279.9h0M329.4 313.8h0M324.8 340.1h0M381.0 311.6h0M328.9 341.0h0M385.6 304.0h0M380.2 345.1h0M364.0 314.4h0M339.7 316.4h0M320.8 298.7h0M360.3 343.3h0M385.1 343.4h0M362.6 318.7h0M328.2 314.2h0M319.1 322.5h0M348.1 323.8h0M327.7 317.1h0M329.7 326.6h0M358.3 362.9h0M316.0 326.4h0M325.7 305.8h0M336.4 294.0h0M346.6 348.0h0M332.5 289.0h0M354.5 364.5h0M341.9 333.9h0M335.8 303.8h0M330.6 310.7h0M370.3 336.9h0M347.2 355.5h0M380.9 301.0h0M355.5 278.9h0M329.6 295.2h0M341.2 303.2h0M354.8 354.7h0M368.0 310.5h0M342.5 363.0h0M356.0 323.3h0M360.2 337.3h0M359.4 311.6h0M368.4 314.7h0M377.8 304.3h0M348.3 310.1h0M387.1 348.8h0M331.9 291.2h0M324.9 321.5h0M336.7 297.6h0M385.6 333.2h0M362.8 294.7h0M344.2 331.8h0M391.9 311.5h0M368.2 369.5h0M332.1 353.6h0M357.8 318.9h0M345.8 327.4h0M373.4 367.2h0M361.1 309.4h0M365.0 305.7h0M339.3 291.7h0M345.7 282.1h0M358.7 289.7h0M363.9 299.5h0M338.6 308.8h0M357.6 328.0h0M372.0 296.8h0M354.3 338.9h0M319.9 328.8h0M348.5 287.0h0M366.4 290.4h0M369.1 310.5h0M360.1 324.4h0M328.2 314.6h0M361.1 352.3h0M350.9 296.2h0M319.9 305.3h0M327.2 282.2h0M345.2 337.9h0M359.4 332.6h0M364.3 330.4h0M340.7 318.2h0M354.1 319.3h0M389.8 321.7h0M362.1 344.3h0M340.9 335.7h0M326.3 302.9h0M342.4 319.7h0M358.8 342.4h0M353.7 289.3h0M359.8 364.5h0M385.7 309.3h0M344.5 296.9h0M344.5 366.6h0M323.6 335.9h0M361.8 346.7h0M354.1 351.7h0M357.0 283.3h0M367.7 299.9h0M347.8 330.2h0M338.8 323.1h0M363.1 316.2h0M377.2 333.5h0M320.3 329.2h0M343.3 301.5h0M371.3 305.4h0M349.9 305.6h0M355.9 357.1h0M389.8 332.6h0M362.8 316.5h0M360.5 306.9h0M341.7 326.7h0M352.1 283.5h0M365.4 331.8h0M370.2 365.3h0M384.6 287.3h0M319.4 315.5h0M323.6 298.0h0M338.6 310.9h0M338.1 308.6h0M380.8 319.9h0M373.8 316.0h0M335.8 329.6h0" stroke="#CC5A96" stroke-width="1.8" stroke-linecap="round" fill="none"/>
<path d="M254.2 390.2h0M352.7 329.1h0M317.4 358.1h0M345.9 324.9h0M262.9 380.5h0M328.4 339.4h0M281.9 364.2h0M261.4 365.7h0M336.6 342.3h0M272.2 364.3h0M264.2 356.7h0M272.8 361.3h0M251.0 380.1h0M252.1 383.9h0M320.9 341.7h0M317.7 352.2h0M323.8 347.5h0M297.2 364.7h0M305.0 357.1h0M277.2 377.2h0M281.2 387.2h0M253.6 387.1h0M269.3 379.0h0M254.0 384.5h0M284.5 378.5h0M294.9 354.9h0M296.0 356.4h0M283.4 372.3h0M246.9 373.3h0M348.6 341.3h0M310.9 349.3h0M268.8 369.2h0M352.4 323.3h0M340.2 317.6h0M332.5 330.5h0M316.8 327.6h0M311.8 336.3h0M270.1 361.8h0M314.8 350.4h0M281.0 365.0h0M258.5 383.5h0M318.9 331.5h0M268.9 372.6h0M324.9 338.1h0M338.5 338.3h0M320.6 340.8h0M297.9 366.7h0M355.9 324.2h0M342.9 342.3h0M275.0 389.5h0M291.4 375.4h0M291.4 366.1h0M279.7 371.1h0M314.6 357.7h0M318.1 342.9h0M255.1 372.6h0M248.9 380.3h0M285.3 363.9h0M289.5 362.0h0M345.2 350.8h0M314.4 380.3h0M348.2 335.9h0M328.0 326.2h0M330.8 341.6h0M283.9 368.1h0M319.3 331.8h0M353.3 336.9h0M357.8 328.9h0M330.8 329.1h0M267.6 368.2h0M362.6 339.7h0M284.8 360.0h0M308.3 355.3h0M260.6 374.9h0M263.3 368.9h0M297.5 357.9h0M257.3 391.8h0M338.3 355.9h0M308.4 350.3h0M273.5 372.4h0M290.0 364.9h0M304.9 359.5h0M331.5 344.2h0M268.9 383.9h0M321.6 344.9h0M253.5 361.8h0M359.9 345.3h0M333.6 344.0h0M293.4 362.2h0M311.2 355.9h0M270.3 377.0h0M267.4 380.1h0M294.3 342.3h0M320.7 363.7h0M280.4 365.8h0M337.5 347.6h0M256.1 386.7h0M285.9 360.9h0M329.3 341.4h0M337.7 347.0h0M312.0 363.5h0M346.4 339.0h0M330.6 334.3h0M289.3 373.1h0M290.5 380.9h0M271.1 381.3h0M341.6 316.9h0M331.3 343.9h0M334.4 337.2h0M336.2 351.6h0M297.4 355.3h0M294.8 349.4h0M279.0 368.4h0M336.2 354.3h0M358.2 339.8h0M340.4 341.7h0M314.2 379.8h0M322.8 334.5h0M338.7 327.2h0M351.3 318.3h0M360.0 330.7h0M343.5 327.8h0M350.3 318.5h0M288.2 374.5h0M358.1 329.8h0M333.0 354.1h0M351.2 345.3h0M288.9 358.3h0M346.5 336.8h0M255.8 377.5h0M293.3 350.9h0M254.4 387.6h0M292.9 363.0h0M269.0 392.2h0M296.7 360.6h0M295.2 365.1h0M337.7 350.1h0M331.7 336.9h0M360.2 335.4h0M288.2 370.8h0M309.8 340.1h0M296.8 371.7h0M288.7 370.0h0M305.6 361.0h0M329.6 352.9h0M248.4 373.2h0M256.2 372.4h0M303.7 347.7h0M358.2 324.9h0" stroke="#EE9E7C" stroke-width="1.8" stroke-linecap="round" fill="none"/>
<path d="M295.4 303.6h0M302.3 282.8h0M300.4 284.8h0M322.4 324.8h0M323.5 302.4h0M305.4 289.9h0M325.9 293.0h0M328.8 277.6h0M350.7 279.3h0M346.0 314.9h0M319.6 305.1h0M302.7 318.9h0M321.9 291.1h0M320.5 324.5h0M314.6 312.3h0M346.8 307.9h0M324.5 291.8h0M313.9 325.0h0M350.2 293.7h0M315.3 278.7h0M334.6 315.2h0M359.6 296.5h0M343.5 290.6h0M328.2 320.5h0M337.4 293.4h0M346.9 305.0h0M308.9 315.1h0M312.7 302.8h0M308.1 310.4h0M313.3 313.3h0M321.6 323.7h0M340.5 309.5h0M318.6 326.6h0M298.2 312.9h0M329.6 314.6h0M358.0 305.2h0M296.5 298.4h0M311.8 319.3h0M302.1 302.9h0M323.3 311.0h0M309.8 311.5h0M321.5 304.8h0M316.3 295.0h0M311.4 303.4h0M328.7 321.1h0M341.3 303.5h0M312.4 316.0h0M349.6 285.3h0M322.0 284.5h0M339.7 285.6h0M322.8 301.1h0M325.1 288.0h0M346.3 305.9h0M339.5 315.5h0M352.2 305.0h0M321.3 315.8h0M318.7 285.6h0M310.8 312.7h0M328.7 311.9h0M328.7 307.7h0M343.1 283.9h0M315.5 310.4h0M349.3 283.2h0M340.9 281.1h0M316.5 319.1h0M295.8 294.7h0M342.2 309.3h0M297.2 276.4h0M328.4 318.8h0M298.3 323.6h0M326.0 319.9h0M301.7 300.6h0M322.2 300.0h0M346.8 295.9h0M328.3 306.3h0M334.9 316.9h0M336.8 288.6h0M318.5 305.8h0M329.6 301.3h0M298.1 288.4h0M350.4 299.3h0M338.2 310.5h0M355.9 302.7h0M301.4 305.8h0M314.6 319.3h0M301.4 306.3h0M354.3 309.7h0M348.6 304.7h0M350.5 290.0h0M315.2 326.3h0M334.4 310.2h0M350.1 290.1h0M313.2 325.0h0M303.4 324.2h0M321.5 282.5h0M319.5 325.7h0M350.8 299.8h0M337.9 307.1h0M309.8 290.8h0M321.5 321.6h0M318.5 329.8h0M303.2 282.1h0M318.4 308.1h0M312.9 314.2h0M358.5 289.6h0M326.7 279.5h0M304.3 292.3h0M332.0 300.5h0M312.3 314.0h0M334.6 294.4h0M336.9 309.4h0M311.0 301.9h0M355.5 287.1h0M327.8 328.3h0M335.6 301.1h0M311.6 303.5h0M300.5 301.5h0M333.7 297.8h0M335.9 295.6h0M312.6 307.5h0M305.7 279.3h0M306.7 279.9h0M341.2 290.0h0M316.2 323.4h0M313.1 287.4h0M343.4 320.3h0M317.2 306.6h0M353.9 284.4h0M310.6 311.1h0M314.0 279.7h0M323.9 312.1h0M329.8 319.4h0M336.5 287.3h0M330.4 302.8h0M297.1 303.5h0M350.6 284.0h0M317.0 294.5h0M309.7 318.1h0M311.0 282.9h0M319.3 283.6h0M341.2 285.1h0M307.6 321.1h0M344.6 301.3h0M323.0 285.8h0M340.6 319.8h0M300.5 290.8h0M320.6 314.5h0M309.1 312.8h0M329.8 317.9h0M307.7 290.6h0M308.2 289.5h0M346.2 325.4h0M316.9 297.3h0M321.7 307.2h0M351.7 283.2h0M311.6 304.2h0M314.0 300.1h0M348.1 300.1h0M328.1 294.1h0M340.2 306.6h0M298.6 324.7h0M294.3 292.3h0M354.2 297.3h0M333.0 320.4h0M315.1 303.3h0M297.4 314.0h0M338.9 320.8h0M314.9 298.8h0M354.9 283.3h0M309.0 294.5h0M328.7 298.3h0M348.4 279.3h0M322.5 296.8h0M306.1 325.0h0M322.2 285.9h0M302.4 313.6h0M296.5 295.7h0M337.9 281.3h0M304.3 300.6h0M352.8 295.6h0M347.8 288.9h0M294.5 305.0h0M345.4 280.9h0M309.5 313.2h0M296.9 302.6h0M302.8 303.3h0M335.8 310.1h0M316.9 280.8h0M320.0 319.1h0M323.3 322.1h0M319.6 318.3h0M299.9 314.0h0M327.3 281.7h0M307.4 305.0h0M305.2 284.4h0M328.0 301.2h0M326.7 292.5h0M296.1 303.6h0M338.1 279.9h0M336.8 321.6h0M354.8 306.9h0M326.1 287.5h0M298.5 308.4h0M309.3 281.7h0M341.9 311.7h0M325.3 279.4h0M337.1 300.1h0M335.8 279.7h0M331.6 310.5h0M329.8 324.2h0M323.9 318.3h0M321.5 301.5h0M305.1 299.6h0M304.4 318.5h0M342.4 291.1h0M315.9 313.7h0M301.9 319.3h0M322.2 326.2h0M314.5 284.9h0M335.5 315.8h0M349.1 302.1h0M356.1 293.2h0M344.6 283.5h0M326.1 318.2h0M336.6 320.8h0M304.8 326.8h0M325.2 326.0h0M299.2 286.5h0M340.0 318.1h0M308.1 315.3h0M353.4 312.8h0M357.3 305.7h0M321.8 325.8h0M298.6 291.1h0M324.3 326.1h0M327.2 292.2h0M302.1 285.7h0M356.0 298.7h0M306.7 282.9h0M347.5 288.3h0M321.2 311.7h0M320.3 315.9h0M356.8 299.8h0M329.7 326.8h0M309.3 294.0h0M328.0 283.3h0M337.8 321.4h0M328.4 306.2h0M306.5 287.6h0M310.5 282.7h0M316.6 315.6h0M326.2 327.3h0M336.9 287.6h0M304.4 280.8h0M337.3 309.8h0M318.7 309.2h0M322.6 328.9h0M310.9 297.9h0M342.3 304.4h0M307.8 315.8h0M333.6 300.7h0M335.5 282.1h0M343.7 321.0h0M301.5 315.2h0M318.2 292.6h0M343.6 316.9h0M346.8 288.7h0M323.2 323.4h0M327.1 312.8h0M350.2 290.0h0M323.0 327.4h0M306.8 317.2h0M349.5 317.9h0M333.3 277.6h0M332.0 298.8h0M325.6 324.6h0M345.2 294.8h0M310.6 283.3h0M314.8 302.4h0M356.6 289.6h0M291.2 312.5h0M275.7 319.7h0M304.6 308.8h0M275.3 333.7h0M301.6 300.7h0M278.7 315.2h0M289.2 322.6h0M273.8 297.2h0M277.0 306.1h0M296.1 332.7h0M279.0 296.0h0M286.1 323.6h0M287.0 300.3h0M277.2 309.6h0M297.6 332.1h0M291.6 312.2h0M281.7 310.7h0M273.3 329.1h0M284.2 305.6h0M293.9 315.6h0M298.8 296.1h0M304.8 330.3h0M272.1 317.7h0M270.0 328.2h0M302.8 299.3h0M302.1 305.9h0M271.4 315.8h0M270.7 334.4h0M292.8 323.1h0M295.4 314.2h0M304.2 327.2h0M301.4 319.2h0M283.7 313.3h0M282.7 302.1h0M290.7 307.2h0" stroke="#B3E3F4" stroke-width="1.8" stroke-linecap="round" fill="none"/>
<path d="M369.8 317.2h0M347.2 299.2h0M346.5 325.0h0M377.9 309.0h0M359.5 292.0h0M337.4 311.2h0M360.8 300.9h0M364.7 287.5h0M379.3 285.4h0M376.2 315.3h0M347.2 317.5h0M360.0 320.8h0M339.2 302.5h0M367.9 326.0h0M376.2 295.5h0M339.1 322.4h0M338.0 297.4h0M369.8 317.8h0M365.5 311.9h0M355.0 328.2h0M366.1 328.7h0M351.0 328.0h0M377.9 298.3h0M356.2 320.1h0M368.8 321.7h0M333.4 299.8h0M338.1 290.8h0M358.3 310.1h0M370.2 317.9h0M351.1 282.8h0M370.6 326.9h0M351.6 315.9h0M344.8 312.3h0M370.3 291.1h0M375.7 302.4h0M346.2 331.3h0M367.8 291.7h0M332.6 290.3h0M384.2 320.0h0M333.6 284.5h0M362.7 297.6h0M344.3 310.7h0M378.3 290.7h0M361.7 306.6h0M347.3 288.8h0M355.7 317.9h0M339.6 303.0h0M342.3 289.6h0M344.2 315.3h0M379.4 290.7h0M350.1 312.3h0M365.9 318.4h0M373.6 299.2h0M333.3 281.8h0M380.2 317.6h0M352.5 328.7h0M381.0 291.9h0M353.5 293.3h0M356.9 323.5h0M363.1 327.2h0M338.2 294.9h0M355.8 313.8h0M373.5 313.0h0M357.1 302.2h0M343.3 294.7h0M344.5 291.7h0M350.4 334.6h0M346.2 288.4h0M368.7 292.2h0M359.9 298.7h0M379.3 287.8h0M353.4 307.2h0M376.2 315.0h0M354.1 304.3h0M333.8 296.1h0M368.1 311.7h0M341.8 289.0h0M339.9 311.4h0M368.3 295.7h0M384.3 293.9h0M354.5 330.1h0M352.5 296.6h0M366.9 287.3h0M340.7 332.5h0M335.1 296.9h0M355.2 288.1h0M352.3 302.3h0M360.2 321.9h0M380.5 327.6h0M357.9 333.5h0M346.1 292.0h0M372.0 330.7h0M348.2 334.1h0M350.2 317.9h0M378.7 322.5h0M356.7 322.5h0M362.8 292.7h0M362.4 321.0h0M347.3 285.9h0M344.2 320.1h0M379.7 283.1h0M355.0 299.8h0M363.1 314.3h0M377.2 327.7h0M378.9 312.8h0M370.5 287.3h0M367.5 312.4h0M342.6 300.9h0M344.6 318.5h0M372.7 308.1h0M371.7 306.3h0M333.1 313.2h0M380.2 325.3h0M341.4 305.0h0M376.4 322.1h0M369.3 288.2h0M383.5 320.4h0M344.1 305.2h0M359.1 326.1h0M349.3 325.5h0M370.2 324.9h0M371.2 298.3h0M350.7 293.7h0M378.8 288.0h0M327.8 289.7h0M379.6 308.6h0M367.2 323.5h0M348.1 307.9h0M384.6 322.9h0M369.5 332.3h0M355.0 321.7h0M341.0 296.3h0M371.2 318.4h0M372.5 298.9h0M365.2 330.5h0M342.1 284.9h0M380.9 314.3h0M363.5 306.2h0M361.5 286.5h0M337.9 296.1h0" stroke="#C6C46E" stroke-width="1.8" stroke-linecap="round" fill="none"/>
<path d="M370.8 359.1h0M369.3 319.2h0M351.6 338.7h0M379.0 317.4h0M347.3 335.7h0M376.3 361.5h0M370.0 338.7h0M376.3 314.7h0M351.4 346.2h0M374.4 330.6h0M372.7 351.0h0M350.4 348.4h0M352.8 319.1h0M342.6 309.0h0M359.1 317.3h0M381.4 321.5h0M340.6 317.8h0M345.5 314.0h0M372.8 350.6h0M360.9 339.9h0M377.5 339.8h0M363.3 320.3h0M344.0 330.7h0M372.5 318.1h0M381.0 324.1h0M353.7 342.3h0M343.9 347.0h0M367.7 345.5h0M361.7 304.4h0M377.6 339.6h0M371.2 357.5h0M376.7 348.9h0M381.3 320.3h0M363.7 333.7h0M342.7 333.2h0M364.6 325.1h0M376.0 314.2h0M368.5 329.2h0M361.1 335.3h0M352.9 347.1h0M377.2 351.0h0M376.3 352.2h0M368.8 318.4h0M365.9 313.5h0M349.0 311.4h0M358.8 318.9h0M359.1 337.3h0M360.8 304.4h0M372.6 321.0h0M350.5 310.4h0M361.1 354.8h0M382.8 340.1h0M370.7 311.8h0M371.7 317.8h0M380.9 311.9h0M347.1 341.5h0M358.9 325.9h0M373.5 320.6h0M381.1 309.2h0M341.9 308.1h0M372.1 348.9h0M351.9 340.7h0M362.2 354.9h0M360.6 331.7h0M363.0 354.8h0M350.1 326.1h0M351.7 342.2h0M354.0 351.4h0M370.1 302.4h0M354.3 356.0h0" stroke="#3C9A50" stroke-width="1.8" stroke-linecap="round" fill="none"/>
<path d="M295.2 366.1h0M282.6 370.6h0M282.7 386.9h0M284.5 382.6h0M298.5 373.1h0M265.2 381.5h0M285.5 387.5h0M319.6 362.0h0M270.5 384.8h0M253.6 367.7h0M284.7 379.8h0M310.1 379.4h0M254.4 374.3h0M288.8 383.4h0M289.4 376.0h0M264.2 376.5h0M267.6 374.1h0M261.9 362.4h0M266.0 377.1h0M284.9 375.6h0M276.7 367.8h0M293.7 377.8h0M281.9 370.7h0M300.3 380.5h0M274.6 385.7h0M283.3 382.8h0M294.0 381.7h0M283.4 376.3h0M291.5 387.0h0M281.0 378.0h0M298.4 358.7h0M254.4 371.2h0M271.0 378.2h0M276.4 381.3h0M293.4 377.4h0M277.7 381.2h0M300.5 383.1h0M268.6 362.5h0M270.9 374.2h0M295.7 373.3h0M273.1 367.7h0M253.9 366.1h0M271.2 381.4h0M314.5 376.9h0M257.3 379.3h0M266.5 372.2h0M288.6 380.4h0M266.1 368.1h0M306.6 374.7h0M262.0 362.0h0M285.9 379.7h0M272.0 376.8h0M267.8 376.0h0M265.6 376.0h0M298.6 377.2h0M280.6 380.2h0M256.1 378.7h0M290.8 381.3h0M259.3 375.0h0M280.3 371.2h0M246.0 370.8h0M301.0 380.5h0M287.6 363.2h0M267.9 381.4h0M268.3 377.0h0M306.6 366.4h0M308.4 377.2h0M290.1 379.2h0M285.9 382.8h0M267.1 386.2h0M281.1 374.1h0M288.3 365.0h0M239.9 381.4h0M277.3 381.6h0M247.6 381.7h0M247.9 368.1h0M267.2 383.3h0M292.2 378.0h0M272.9 370.8h0M278.5 378.0h0M285.2 382.7h0M269.8 365.5h0M266.2 393.3h0M279.4 385.2h0M286.4 389.0h0M259.5 382.9h0M264.5 372.5h0M282.9 382.7h0M291.3 370.7h0M278.7 390.5h0M276.6 378.2h0M284.5 378.8h0M268.0 367.6h0M264.9 381.0h0M297.8 382.3h0M292.6 372.4h0M274.6 372.8h0M276.3 367.0h0M289.7 372.8h0M276.3 371.6h0M271.8 375.9h0M289.8 375.8h0M270.5 382.0h0M264.9 383.9h0M268.8 375.7h0M257.1 368.3h0M275.9 382.0h0M273.7 385.8h0M285.4 376.9h0M278.4 380.1h0M281.4 371.2h0M277.6 384.9h0M272.8 383.1h0M276.1 371.2h0M278.8 375.9h0M271.5 369.9h0M308.3 376.8h0M283.3 378.1h0M275.0 382.8h0M284.9 377.6h0M296.4 377.5h0M264.9 378.7h0M275.3 373.5h0M265.8 375.3h0M282.0 373.6h0M270.4 380.9h0M291.1 377.7h0M260.1 366.7h0M293.1 375.3h0M295.8 378.8h0M277.5 377.1h0M273.3 370.6h0M282.9 370.3h0M314.7 373.0h0M266.8 374.0h0M247.7 378.1h0M264.9 373.7h0M291.9 368.8h0M276.3 376.4h0M271.5 380.8h0M258.9 374.1h0M274.8 384.6h0M281.5 384.8h0M252.1 370.7h0M291.3 379.5h0M299.8 374.6h0M273.8 370.8h0M250.3 375.9h0M316.0 374.1h0M283.5 365.2h0M284.4 381.1h0M281.5 377.8h0M264.8 374.9h0M245.3 377.2h0M267.3 381.0h0M294.8 377.1h0M284.7 374.3h0M275.2 378.8h0M248.7 366.8h0M281.3 383.0h0M259.2 374.5h0M271.5 380.3h0M294.7 373.5h0M288.6 374.8h0M264.3 379.5h0M246.3 378.9h0M277.0 384.9h0M267.2 378.2h0M285.4 368.0h0M281.0 386.1h0M297.1 375.7h0M269.3 384.2h0M260.1 384.6h0M286.0 374.1h0M256.8 374.4h0M259.5 368.6h0M282.4 378.5h0M291.0 367.3h0M274.4 386.4h0M261.8 381.0h0M251.4 380.3h0M238.3 376.1h0M279.2 377.1h0M261.9 374.4h0M249.8 361.0h0M269.3 374.6h0M255.2 374.3h0M281.5 381.9h0M247.2 370.0h0M290.7 378.2h0M269.6 380.6h0M271.0 379.9h0M277.9 371.3h0M253.3 374.2h0M275.4 370.5h0M268.0 373.9h0M264.0 378.2h0M282.6 373.7h0M266.9 376.9h0M297.6 376.9h0M270.9 381.2h0M281.1 380.2h0M276.2 380.3h0M285.0 381.9h0M283.8 375.3h0M257.4 382.6h0M285.2 377.9h0M275.5 383.8h0M290.6 378.4h0M267.6 384.6h0M293.9 378.1h0M289.7 369.1h0M269.1 374.1h0M266.0 378.4h0M288.9 377.7h0M284.7 379.5h0M272.6 374.7h0M299.1 374.5h0M286.5 367.1h0M285.9 382.3h0M275.9 382.8h0M265.9 382.2h0M263.2 365.5h0M273.9 373.5h0M278.8 376.6h0M245.7 370.1h0M280.0 387.9h0M275.0 381.8h0M259.3 376.1h0M272.4 362.5h0M256.6 353.0h0M253.1 377.4h0M273.1 357.1h0M281.4 373.2h0M248.5 371.9h0M285.3 358.6h0M299.0 364.0h0M295.1 382.1h0M274.7 373.2h0M256.8 363.5h0M289.4 361.1h0M267.5 372.6h0M246.4 359.8h0M312.9 364.3h0M318.9 388.9h0M278.6 358.7h0M269.0 368.0h0M261.0 357.3h0M316.3 364.3h0M275.1 386.6h0M251.8 359.9h0M241.4 356.5h0M239.3 369.9h0M267.4 352.2h0M266.3 358.9h0M283.5 361.2h0M317.3 368.3h0M260.2 388.7h0M259.7 353.7h0M247.3 357.6h0M314.7 357.9h0M299.7 388.0h0M292.0 373.4h0M273.8 362.4h0M282.2 382.1h0M265.2 375.8h0M297.8 359.8h0M308.8 364.6h0M316.1 383.9h0M240.8 367.2h0M265.4 356.5h0M306.1 369.0h0M290.1 363.7h0M301.6 367.1h0M274.3 367.0h0M251.7 378.7h0M255.8 375.2h0M271.6 389.9h0M318.2 365.5h0M239.5 373.7h0M297.6 361.1h0M265.5 353.3h0M277.8 352.3h0M250.1 369.1h0M292.0 378.3h0M240.0 368.5h0M303.3 384.9h0M295.8 358.5h0M253.1 371.0h0M285.6 370.6h0M244.4 376.4h0M245.4 375.7h0M244.1 376.9h0M250.2 380.9h0M264.3 373.1h0M314.6 379.6h0M262.2 358.0h0M298.9 359.3h0M268.3 355.6h0M277.6 389.2h0M281.4 363.0h0M286.4 375.9h0M313.9 374.8h0M289.1 378.4h0M246.3 372.6h0M257.2 365.4h0M276.1 389.0h0M281.8 360.9h0M257.6 365.1h0M258.6 356.9h0M263.5 371.2h0M314.1 387.5h0M318.7 373.9h0M254.8 356.2h0M255.2 353.4h0M268.3 378.0h0M258.3 365.1h0M297.6 389.4h0M316.0 387.6h0" stroke="#8E3B3E" stroke-width="1.8" stroke-linecap="round" fill="none"/>
<path d="M361.0 330.7h0M265.4 367.5h0M336.9 312.9h0M341.7 326.0h0M283.6 354.7h0M266.5 380.7h0M265.7 367.1h0M330.0 332.0h0M347.0 347.1h0M287.2 370.1h0M262.1 357.2h0M368.2 331.8h0M371.6 323.5h0M359.9 317.7h0M338.4 338.6h0M268.9 362.0h0M333.1 345.5h0M317.7 346.0h0M333.7 326.5h0M330.0 334.6h0M265.3 372.8h0M339.1 337.5h0M314.1 334.7h0M289.0 355.8h0M322.5 337.0h0M321.9 362.4h0M277.2 345.9h0M295.2 363.2h0M306.5 335.9h0M343.6 323.2h0M326.3 336.7h0M313.6 345.2h0M353.1 331.7h0M374.0 323.4h0M320.7 313.7h0M319.1 345.7h0M312.1 322.2h0M330.5 317.3h0M269.2 373.0h0M308.3 363.7h0M321.8 333.8h0M353.9 322.2h0M291.4 367.5h0M287.0 353.6h0M341.5 307.2h0M346.6 342.0h0M299.2 372.7h0M276.5 363.0h0M339.9 336.3h0M258.2 369.9h0M290.2 365.7h0M299.4 344.1h0M335.7 359.7h0M279.4 350.6h0M277.2 371.0h0M297.9 362.2h0M292.8 339.9h0M322.6 354.0h0M331.2 323.2h0M352.4 333.3h0M367.1 318.6h0M311.5 329.6h0M352.6 309.7h0M338.7 327.0h0M311.3 349.9h0M343.2 329.9h0M359.1 323.1h0M306.8 377.7h0M314.4 342.2h0M267.2 337.3h0M297.0 346.4h0M322.3 322.1h0M316.9 341.9h0M353.5 301.4h0M330.6 329.5h0M301.7 342.9h0M291.8 348.0h0M331.1 341.7h0M286.4 366.1h0M375.4 315.9h0M308.2 351.5h0M283.5 333.3h0M331.4 335.6h0M315.4 357.8h0M341.0 341.0h0M362.2 306.3h0M333.8 313.5h0M317.0 354.2h0M342.4 324.1h0M281.5 369.1h0M312.1 344.5h0M340.1 344.4h0M285.7 354.1h0M268.6 356.2h0M364.0 324.8h0M294.6 364.0h0M281.9 357.9h0M352.6 333.5h0M268.0 371.9h0M286.4 378.3h0M292.3 356.8h0M295.7 354.6h0M297.9 338.3h0M279.6 376.7h0M298.4 345.0h0M313.9 364.5h0M311.9 355.4h0M341.9 316.6h0M334.6 346.6h0M335.4 338.8h0M275.1 346.2h0M307.0 347.1h0M273.7 359.1h0M298.4 358.0h0M333.8 347.2h0M329.9 352.0h0M289.3 357.6h0M261.5 344.3h0M349.5 341.8h0M305.0 339.3h0M289.3 373.5h0M338.6 323.1h0M345.0 323.0h0M334.5 328.2h0M363.7 325.3h0M330.3 338.9h0M308.4 332.3h0M312.5 344.4h0M343.4 351.5h0M376.1 334.0h0M333.9 327.0h0M312.7 334.0h0M316.6 342.5h0M346.6 354.5h0M344.4 323.2h0M314.7 354.5h0M293.7 350.9h0M319.7 342.0h0M330.5 322.4h0M309.7 354.5h0M315.6 372.1h0M274.2 380.8h0M335.7 333.3h0M314.3 355.8h0M352.4 322.9h0M312.1 334.5h0M323.4 370.3h0M264.3 375.5h0M311.4 367.8h0M324.6 318.2h0M295.1 369.9h0M288.4 358.8h0M289.0 363.7h0M303.8 346.4h0M299.4 352.6h0M294.1 377.5h0M261.3 373.9h0M309.1 347.2h0M369.6 313.8h0M281.5 364.8h0M304.3 336.2h0M262.7 357.3h0M344.3 321.9h0M302.7 370.3h0M332.3 330.7h0M293.8 354.8h0M309.2 356.3h0M273.2 363.4h0M261.4 388.5h0M269.7 375.1h0M316.0 344.8h0M301.0 357.0h0M293.7 352.1h0M378.4 321.2h0M319.1 309.3h0M315.9 324.5h0M320.6 347.6h0M285.3 337.1h0M318.4 343.3h0M327.8 337.2h0M316.6 315.6h0M291.3 351.6h0M290.9 381.0h0M288.5 371.6h0M333.5 342.7h0M268.9 367.8h0M361.8 325.2h0M316.3 336.9h0M348.1 321.3h0M279.2 388.2h0M277.4 390.5h0M329.3 345.9h0M282.2 357.0h0M306.6 339.8h0M320.9 333.1h0M374.2 312.7h0M310.3 360.9h0M322.5 355.9h0M311.7 359.2h0M263.9 375.1h0M320.0 358.6h0M285.7 395.0h0M264.5 352.0h0M338.7 344.0h0M339.7 331.0h0M349.0 331.9h0M367.5 316.9h0M356.3 326.5h0M296.0 349.7h0M322.2 336.3h0M349.7 324.4h0M287.5 382.3h0M365.8 314.3h0M363.3 322.9h0M337.1 324.9h0M261.8 363.7h0M331.5 337.0h0M366.2 315.3h0M336.8 300.9h0M321.4 337.4h0M338.1 328.7h0M343.0 319.0h0M372.1 311.5h0M274.3 360.7h0M327.8 354.7h0M293.4 360.6h0M324.8 331.4h0M321.0 335.6h0M282.8 370.5h0M286.6 321.1h0M311.2 384.0h0M309.7 371.4h0M302.5 350.4h0M284.3 365.4h0M316.2 340.1h0M320.2 343.3h0M365.8 308.7h0M326.5 363.1h0M304.0 348.1h0M310.9 363.6h0M324.3 350.8h0M279.7 364.7h0M369.1 312.3h0M340.0 319.4h0M370.7 314.5h0M273.8 364.3h0M298.0 353.4h0M295.7 360.9h0M361.3 334.3h0M329.4 334.0h0M323.1 345.1h0M256.9 358.2h0M349.0 332.8h0M330.5 354.8h0M340.3 300.3h0M281.3 367.4h0M343.9 325.5h0M277.3 333.5h0M339.1 364.5h0M349.0 318.6h0M306.5 383.6h0M344.0 327.4h0M280.4 384.9h0M339.5 326.1h0M320.6 349.9h0M272.8 373.6h0M350.8 310.4h0M335.4 318.0h0M327.2 311.9h0M359.5 298.8h0M291.7 363.7h0M295.0 338.9h0M321.8 355.9h0M291.1 340.3h0M312.6 354.0h0M272.8 345.7h0M316.1 335.9h0M353.7 319.0h0M318.1 332.6h0M325.4 328.2h0M363.1 332.3h0M336.7 326.8h0M286.6 383.8h0M340.3 312.6h0M323.2 355.8h0M306.5 355.7h0M343.9 342.1h0M319.7 318.9h0M267.8 357.9h0M285.1 378.8h0M311.2 346.0h0M306.6 334.0h0M349.7 325.3h0M347.9 340.4h0M312.7 353.9h0M289.9 361.3h0M345.6 322.2h0M328.5 354.6h0M284.2 342.8h0M290.7 363.3h0M337.2 334.9h0M349.4 345.4h0M324.4 341.3h0M310.0 355.0h0M353.9 337.0h0M324.8 342.1h0M310.3 365.0h0M354.0 335.4h0M331.3 332.4h0M308.7 334.7h0M322.4 343.4h0M286.5 344.3h0M277.3 347.8h0M300.8 370.4h0M356.1 298.3h0M313.4 341.6h0M317.6 362.4h0M328.8 325.2h0M288.0 349.3h0M307.4 362.3h0M328.6 326.8h0M355.6 321.5h0M354.9 315.9h0M335.3 309.5h0M356.7 340.3h0M289.6 355.5h0M318.9 350.7h0M283.6 360.4h0M344.4 336.3h0M283.5 365.5h0M256.1 376.3h0M328.9 331.7h0M346.2 319.2h0M325.0 299.8h0M298.9 370.0h0M271.8 382.7h0M280.2 351.9h0M308.2 355.9h0M317.8 340.8h0M297.6 363.8h0M359.3 313.5h0M342.0 328.1h0M339.3 307.4h0M347.8 317.8h0M300.7 361.1h0M282.1 370.6h0M344.3 336.6h0M285.8 370.1h0M363.9 334.3h0M340.6 344.1h0M328.6 351.7h0M285.9 376.3h0M292.5 361.7h0M320.5 349.5h0M343.1 326.7h0M285.0 357.0h0M328.9 317.1h0M313.7 380.7h0M363.5 309.3h0M361.7 308.3h0M347.3 321.7h0M348.4 321.6h0M305.7 352.2h0M308.6 344.0h0M330.9 317.1h0M329.9 341.6h0M286.3 393.0h0M305.0 341.2h0M348.8 322.6h0M310.3 354.0h0M259.6 337.1h0M262.6 363.4h0M320.6 337.1h0M297.0 356.2h0M361.0 299.2h0M303.7 337.7h0M289.2 346.4h0M297.7 347.5h0M283.5 348.1h0M365.9 324.3h0M265.7 347.5h0M335.7 315.5h0M271.8 357.1h0M325.1 349.7h0M311.8 351.3h0M309.8 339.3h0M346.1 317.9h0M266.0 368.0h0M266.4 374.0h0M305.3 341.6h0M341.4 353.4h0M345.8 355.3h0M360.7 324.4h0M286.6 382.4h0M327.9 315.8h0M270.2 376.3h0M280.6 355.9h0M304.2 383.2h0M300.0 355.3h0M332.5 345.8h0M290.4 380.5h0M348.7 305.1h0M287.5 373.8h0M341.4 337.5h0M327.4 345.3h0M333.9 348.7h0M285.2 367.3h0M263.8 363.5h0M357.4 316.2h0M360.1 295.9h0M365.2 298.2h0M345.5 284.3h0M339.6 322.2h0M311.8 330.3h0M258.2 339.7h0M305.6 333.2h0M316.4 337.2h0M324.7 345.8h0M271.7 382.4h0M314.2 343.1h0M282.5 357.8h0M379.4 328.1h0M335.7 335.1h0M359.9 323.1h0M310.9 349.8h0M291.4 358.3h0M271.5 357.2h0M293.7 365.5h0M280.6 343.2h0M342.9 343.6h0M348.1 346.0h0M305.8 359.8h0M308.0 369.0h0M319.3 328.0h0M300.1 342.3h0M302.8 359.8h0M319.4 341.9h0M275.9 383.6h0M290.2 341.8h0M278.9 375.3h0M325.8 330.1h0M338.2 326.7h0M361.8 310.8h0M276.4 363.8h0M266.8 378.9h0M365.4 330.5h0M365.8 306.8h0M281.0 367.9h0M309.0 335.6h0M307.7 350.3h0M355.6 312.7h0M294.0 377.8h0M333.4 319.6h0M275.4 358.8h0M265.5 390.0h0M305.1 356.0h0M280.0 360.2h0M339.9 312.8h0M311.8 364.0h0M274.9 352.5h0M331.5 351.1h0M338.7 330.3h0M329.4 353.4h0M312.5 361.2h0M319.7 339.4h0M304.8 343.7h0M312.1 357.1h0M312.9 328.7h0M312.6 345.1h0M322.6 334.0h0M325.9 340.2h0M325.8 346.4h0M303.3 354.3h0M348.0 334.1h0M311.8 342.7h0M325.2 330.5h0M320.8 344.7h0M323.9 357.1h0M325.7 339.0h0M302.4 343.2h0M310.8 351.0h0M323.8 358.9h0M308.7 356.0h0M314.9 348.6h0M313.7 316.9h0M309.8 339.0h0M321.9 350.9h0M308.9 340.2h0M315.0 339.8h0M330.9 346.1h0M317.1 359.9h0M339.0 356.1h0M303.4 345.0h0M331.5 332.5h0M311.4 332.7h0M315.3 352.9h0M319.8 356.0h0M308.6 336.6h0M325.3 340.7h0M310.2 325.7h0M324.7 331.7h0M315.6 345.5h0M291.4 343.8h0M316.8 357.6h0M314.9 342.6h0M322.4 329.3h0M314.1 339.8h0M322.2 334.8h0M301.0 340.6h0M320.8 348.7h0M315.9 338.7h0M327.7 347.9h0M316.9 329.9h0M297.8 352.9h0M336.8 334.0h0M327.6 351.6h0M310.2 346.8h0M322.1 330.5h0M303.7 331.3h0M310.2 338.9h0M315.0 337.1h0M318.7 334.0h0M291.4 337.4h0M314.6 330.6h0M322.0 331.0h0M324.6 338.0h0M317.3 351.0h0M314.6 340.2h0M316.2 355.7h0M313.2 345.0h0M307.4 335.0h0M317.2 346.2h0M327.8 328.6h0M309.5 330.6h0M329.7 326.6h0M333.5 356.2h0M310.7 353.2h0M309.1 341.5h0M324.4 351.1h0M322.8 333.8h0M330.1 343.1h0M315.2 354.5h0M332.2 359.1h0M311.0 353.1h0M320.9 339.3h0M321.4 331.6h0M317.2 330.4h0M302.1 326.4h0M319.3 350.4h0M325.1 348.5h0M320.0 354.3h0M321.6 341.0h0M335.9 364.6h0M316.5 356.8h0M327.0 331.7h0M309.0 348.3h0M314.7 351.2h0M303.7 338.8h0M330.7 338.0h0M312.7 328.8h0M307.6 341.7h0M323.8 341.2h0M306.1 335.9h0M309.9 345.4h0M316.3 328.7h0M319.1 361.1h0M326.7 330.9h0M310.1 343.4h0M315.8 340.0h0M320.0 363.8h0M312.0 353.3h0M313.1 356.2h0M335.6 336.9h0M322.1 358.7h0M321.5 329.2h0M334.9 326.4h0M323.1 349.7h0M329.9 353.2h0M314.3 334.7h0M328.9 354.6h0" stroke="#16169E" stroke-width="1.8" stroke-linecap="round" fill="none"/>
<polyline points="241.1,381.5 243.1,380.8 245.6,379.9 248.5,378.8 251.8,377.7 255.4,376.4 259.2,375.0 263.1,373.5 266.9,371.9 270.7,370.3 274.3,368.6 277.6,366.9 280.8,365.0 283.9,363.0 287.1,360.7 290.3,358.4 293.4,356.0 296.4,353.6 299.4,351.2 302.3,348.9 305.1,346.8 307.8,344.8 310.4,343.1 312.8,341.6 315.0,340.4 317.1,339.3 319.0,338.4 320.9,337.6 322.7,336.8 324.5,336.0 326.4,335.2 328.2,334.3 330.2,333.3 332.3,332.2 334.5,330.9 336.6,329.5 338.8,328.0 341.1,326.4 343.3,324.8 345.6,323.2 348.0,321.6 350.3,320.0 352.8,318.5 355.3,317.1 357.9,315.8 360.7,314.6 363.8,313.3 367.1,312.1 370.4,310.9 373.9,309.8 377.2,308.8 380.4,307.8 383.4,306.9 386.0,306.1 388.3,305.4 390.0,304.8" fill="none" stroke="#111" stroke-width="1.3" stroke-linejoin="round" stroke-linecap="round"/>
<rect x="235" y="272" width="72" height="56" fill="#FFFFFF" stroke="none" stroke-width="1"/>
<rect x="238.8" y="275.8" width="65.8" height="37.1" fill="#EBEBEB" stroke="none" stroke-width="1"/>
<line x1="242.90" y1="288.00" x2="242.90" y2="311.00" stroke="#888" stroke-width="0.35"/>
<path d="M242.9 302.0Q248.9 305.5 242.9 309.0Q236.9 305.5 242.9 302.0Z" fill="#8E3B3E"/>
<text x="243.9" y="316" font-size="3.1" fill="#333" transform="rotate(-38 243.9 316)" text-anchor="end">LEF1+Tstem</text>
<line x1="250.00" y1="281.00" x2="250.00" y2="312.00" stroke="#888" stroke-width="0.35"/>
<path d="M250 290Q253.2 297 250 304Q246.8 297 250 290Z" fill="#16169E"/>
<text x="251" y="316" font-size="3.1" fill="#333" transform="rotate(-38 251 316)" text-anchor="end">GZMK+Tcms</text>
<line x1="257.20" y1="280.00" x2="257.20" y2="309.00" stroke="#888" stroke-width="0.35"/>
<path d="M257.2 285.0Q260.8 293.5 257.2 302.0Q253.6 293.5 257.2 285.0Z" fill="#B455E6"/>
<text x="258.2" y="316" font-size="3.1" fill="#333" transform="rotate(-38 258.2 316)" text-anchor="end">KLF2+Tcms</text>
<line x1="264.40" y1="283.00" x2="264.40" y2="311.00" stroke="#888" stroke-width="0.35"/>
<path d="M264.4 292.5Q267.59999999999997 300.5 264.4 308.5Q261.2 300.5 264.4 292.5Z" fill="#EE9E7C"/>
<text x="265.4" y="316" font-size="3.1" fill="#333" transform="rotate(-38 265.4 316)" text-anchor="end">XCL1+Trms</text>
<line x1="271.60" y1="277.00" x2="271.60" y2="307.00" stroke="#888" stroke-width="0.35"/>
<path d="M271.6 283Q276.40000000000003 289 271.6 295Q266.8 289 271.6 283Z" fill="#B3E3F4"/>
<text x="272.6" y="316" font-size="3.1" fill="#333" transform="rotate(-38 272.6 316)" text-anchor="end">CX3CR1+Tems</text>
<line x1="278.80" y1="279.00" x2="278.80" y2="306.00" stroke="#888" stroke-width="0.35"/>
<path d="M278.8 283.5Q285.0 288 278.8 292.5Q272.6 288 278.8 283.5Z" fill="#C6C46E"/>
<text x="279.8" y="316" font-size="3.1" fill="#333" transform="rotate(-38 279.8 316)" text-anchor="end">Teff</text>
<line x1="286.00" y1="283.00" x2="286.00" y2="309.00" stroke="#888" stroke-width="0.35"/>
<path d="M286 290Q289.8 297 286 304Q282.2 297 286 290Z" fill="#D3C6CC"/>
<text x="287" y="316" font-size="3.1" fill="#333" transform="rotate(-38 287 316)" text-anchor="end">GZMH+Trms</text>
<line x1="293.10" y1="278.00" x2="293.10" y2="307.00" stroke="#888" stroke-width="0.35"/>
<path d="M293.1 281Q296.3 291 293.1 301Q289.90000000000003 291 293.1 281Z" fill="#CC5A96"/>
<text x="294.1" y="316" font-size="3.1" fill="#333" transform="rotate(-38 294.1 316)" text-anchor="end">Texh</text>
<line x1="300.30" y1="282.00" x2="300.30" y2="310.00" stroke="#888" stroke-width="0.35"/>
<path d="M300.3 290Q304.3 297 300.3 304Q296.3 297 300.3 290Z" fill="#3C9A50"/>
<text x="301.3" y="316" font-size="3.1" fill="#333" transform="rotate(-38 301.3 316)" text-anchor="end">TLdys</text>
<text x="239.5" y="294" font-size="2.9" fill="#444" transform="rotate(-90 239.5 294)" text-anchor="middle">Cytotox score</text>
<path d="M539.2 388.7h0M581.7 386.4h0M530.1 386.1h0M543.4 388.4h0M581.2 385.4h0M537.8 389.1h0M547.5 375.9h0M574.2 383.3h0M526.1 384.1h0M574.3 389.0h0M574.3 383.1h0M526.1 382.8h0M570.5 389.4h0M565.8 389.0h0M567.7 373.2h0M526.0 386.5h0M527.1 389.4h0M543.4 367.4h0M576.2 391.0h0M547.0 384.3h0M530.2 387.3h0M559.4 389.0h0M547.7 389.3h0M535.7 385.9h0M583.2 378.5h0M562.2 388.9h0M564.1 383.5h0M527.2 387.1h0M552.5 375.6h0M561.7 387.2h0M529.1 389.2h0M555.3 381.0h0M577.7 388.4h0M585.6 381.9h0M578.6 380.8h0M568.0 386.6h0M526.6 390.6h0M564.5 390.0h0M568.1 382.4h0M583.9 379.0h0M556.8 388.9h0M587.0 388.8h0M559.6 381.4h0M564.6 361.0h0M565.5 366.0h0M526.5 368.5h0M543.4 377.7h0M561.5 376.0h0M574.6 389.2h0M559.7 390.5h0M531.8 384.2h0M569.2 385.4h0M525.3 361.0h0M572.1 389.3h0M546.7 387.7h0M547.0 389.6h0M526.2 390.6h0M540.6 387.1h0M556.2 389.0h0M538.0 391.0h0" stroke="#B3E3F4" stroke-width="1.8" stroke-linecap="round" fill="none"/>
<path d="M533.8 390.7h0M579.2 381.9h0M551.1 363.5h0M586.7 378.6h0M585.0 390.9h0M551.5 388.3h0M560.1 385.1h0M551.5 388.5h0M532.8 386.9h0M565.1 390.4h0M569.9 384.0h0M586.3 388.7h0M557.6 390.7h0M561.1 383.9h0M560.6 379.8h0M538.3 387.3h0M527.7 386.0h0M550.9 389.4h0M558.1 384.1h0M569.0 376.9h0M551.4 390.0h0M536.0 385.2h0M537.9 377.0h0M535.4 375.4h0M547.0 367.9h0M539.7 376.2h0M583.1 375.4h0M585.7 388.9h0M572.0 389.5h0M540.7 387.2h0M551.0 390.2h0M566.9 388.9h0M571.3 384.3h0M564.4 379.1h0M585.1 385.3h0M543.1 373.1h0M526.0 361.0h0M565.7 380.8h0M547.6 390.7h0M555.9 365.0h0M569.8 388.9h0M543.9 390.0h0M549.4 375.7h0M549.8 377.8h0M564.6 387.0h0M563.2 384.6h0M577.0 386.9h0M555.3 384.4h0M557.6 387.2h0M558.0 376.3h0M565.0 387.2h0M573.9 390.4h0M547.3 387.5h0M584.2 377.0h0M534.2 377.1h0" stroke="#C6C46E" stroke-width="1.8" stroke-linecap="round" fill="none"/>
<path d="M567.6 389.8h0M544.6 382.4h0M571.5 388.2h0M549.7 390.6h0M532.0 366.0h0M547.1 380.6h0M578.2 390.2h0M557.9 389.8h0M542.0 367.6h0M547.7 382.5h0M583.7 390.8h0M528.9 390.8h0M576.3 383.0h0M581.5 389.1h0M551.8 378.9h0M533.2 378.1h0M559.8 381.0h0M574.4 390.2h0M532.8 382.7h0M526.6 390.3h0M549.8 385.4h0M535.4 375.4h0M554.7 389.6h0M547.4 384.4h0M543.8 373.8h0M571.1 387.1h0M584.4 382.5h0M560.0 384.9h0M575.7 390.6h0M551.6 381.9h0M536.6 381.1h0M576.0 378.0h0M571.9 378.1h0M576.9 381.5h0M564.2 387.9h0M561.8 382.6h0M582.2 381.5h0M541.5 369.2h0M565.0 372.3h0M581.3 390.2h0M582.7 386.7h0M561.9 390.8h0M564.9 374.7h0M525.3 377.5h0M527.9 386.7h0M574.0 389.1h0M532.4 381.4h0M556.7 387.3h0M559.3 383.9h0M528.5 375.5h0M564.4 370.6h0M558.2 383.2h0M553.4 368.5h0M585.0 388.8h0M563.8 387.8h0M567.8 388.2h0M540.0 381.2h0M570.5 379.3h0M543.2 383.2h0M577.1 389.4h0M571.9 381.3h0M565.2 387.0h0M548.4 381.6h0M543.7 372.7h0M550.8 390.7h0M556.8 385.8h0M535.1 378.5h0M561.6 372.4h0M527.2 385.3h0M585.0 380.9h0M538.6 388.7h0M565.4 361.1h0M567.9 380.5h0M539.5 379.9h0M525.9 385.1h0M567.7 387.7h0M543.6 385.7h0M582.8 386.2h0M582.6 390.2h0M584.5 385.3h0M565.2 389.7h0M530.8 386.9h0M563.3 386.7h0M568.8 387.3h0M559.7 384.6h0M549.0 387.4h0M573.9 390.7h0M558.0 381.4h0M556.4 384.6h0M576.5 389.9h0M529.3 390.9h0M559.7 367.1h0M564.4 380.6h0M561.5 380.1h0M526.2 375.2h0M555.9 381.5h0M561.1 383.0h0M547.0 388.8h0M568.8 388.4h0M578.1 378.9h0" stroke="#D3C6CC" stroke-width="1.8" stroke-linecap="round" fill="none"/>
<path d="M549.7 378.2h0M578.6 384.0h0M579.9 388.5h0M545.8 389.9h0M542.0 385.4h0M540.9 383.4h0M587.1 390.9h0M573.7 390.6h0M582.4 390.7h0M527.4 381.8h0M551.2 365.0h0M570.7 380.6h0M566.8 383.5h0M579.2 389.5h0M534.4 384.4h0M584.4 390.6h0M557.7 390.1h0M530.3 390.3h0M527.4 390.1h0M529.2 385.8h0M573.3 381.8h0M540.9 382.9h0M544.1 387.7h0M561.6 383.3h0M535.6 389.8h0M525.4 367.9h0M556.6 390.8h0M577.1 388.5h0M544.2 376.8h0M534.6 385.6h0M536.1 388.8h0M550.6 382.0h0M575.8 388.7h0M536.2 385.7h0M565.2 376.3h0M563.1 388.9h0M545.8 387.3h0M582.2 389.5h0M541.3 372.8h0M577.0 378.6h0M552.8 386.0h0M573.4 385.4h0M578.3 386.5h0M527.4 385.7h0M541.2 376.3h0M570.0 383.6h0M527.5 387.6h0M543.1 390.2h0M566.2 390.4h0M554.7 385.2h0M580.3 388.2h0M550.2 383.4h0M534.0 384.5h0M563.6 385.4h0M582.0 384.5h0" stroke="#EE9E7C" stroke-width="1.8" stroke-linecap="round" fill="none"/>
<path d="M559.5 390.4h0M541.2 390.7h0M569.2 391.2h0M501.2 391.0h0M528.7 391.3h0M473.2 391.2h0M469.9 391.5h0M500.2 391.3h0M517.7 390.7h0M531.4 390.9h0M478.6 391.4h0M497.3 390.9h0M488.5 390.8h0M483.8 391.2h0M583.6 391.4h0M495.2 390.7h0M500.2 391.1h0M520.1 391.4h0M532.7 391.4h0M535.6 390.4h0M503.0 390.9h0M524.2 390.8h0M586.7 391.2h0M518.3 391.0h0M530.5 391.1h0M546.9 391.4h0M563.9 391.3h0M444.7 390.9h0M501.4 391.2h0M552.7 390.8h0M553.2 391.2h0M577.6 391.4h0M519.8 390.5h0M578.7 391.3h0M498.5 391.2h0M547.4 391.5h0M560.8 390.5h0M516.6 391.0h0M491.5 390.9h0M522.5 390.9h0M555.3 391.3h0M468.5 391.4h0M532.0 390.6h0M525.7 391.1h0M568.4 390.8h0M475.5 391.1h0M543.3 391.4h0M511.3 391.0h0M543.5 391.3h0M517.2 391.2h0M508.2 390.8h0M552.8 391.2h0M557.6 391.0h0M466.9 391.1h0M520.7 391.1h0M543.3 390.7h0M515.2 390.9h0M537.2 390.9h0M446.5 391.0h0M575.0 391.4h0M453.7 391.2h0M570.9 390.9h0M525.0 391.3h0M562.5 391.4h0M533.4 390.3h0M497.2 390.4h0M465.2 391.2h0M478.8 391.2h0M555.2 391.5h0M564.7 391.1h0M516.9 391.2h0M487.5 391.3h0M574.2 390.5h0M543.9 390.8h0M559.4 391.1h0M505.9 390.9h0M511.4 391.2h0M577.4 391.2h0M507.9 391.0h0M443.6 391.4h0M525.9 390.8h0M549.7 390.7h0M511.1 391.4h0M489.3 391.2h0M462.4 389.9h0M478.9 390.5h0M468.2 391.3h0M529.7 391.3h0M541.5 390.6h0M516.4 391.4h0M487.7 391.1h0M556.5 390.7h0M567.9 390.9h0M470.2 390.5h0M461.8 391.4h0M506.9 391.3h0M534.2 391.0h0M482.2 391.4h0M450.3 391.5h0M482.6 390.9h0M464.4 390.8h0M488.2 391.5h0M522.5 390.7h0M463.8 391.1h0M470.4 390.5h0M545.4 391.1h0M564.7 391.4h0M499.0 391.2h0M568.2 391.1h0M562.2 391.1h0M548.1 391.3h0M563.9 391.0h0M455.8 391.0h0M457.6 390.5h0M516.9 390.8h0M510.5 390.7h0M560.3 391.2h0M512.1 390.7h0M524.4 390.6h0M550.7 391.2h0M586.5 391.4h0M542.4 391.1h0M445.1 390.7h0M449.0 391.1h0M564.2 390.5h0M551.5 390.9h0M476.7 390.6h0M531.4 390.8h0M493.4 390.3h0M580.1 390.5h0M544.1 391.4h0M572.9 390.5h0M560.9 391.4h0M570.1 390.0h0M569.4 391.3h0M523.5 391.4h0M497.6 391.3h0M561.3 391.3h0M563.6 391.0h0M460.4 391.4h0" stroke="#8E3B3E" stroke-width="1.8" stroke-linecap="round" fill="none"/>
<path d="M455.6 390.9h0M573.7 390.9h0M467.6 391.5h0M557.9 390.0h0M569.4 390.6h0M492.2 390.8h0M507.3 390.0h0M449.5 391.2h0M534.0 390.8h0M508.0 390.9h0M495.7 391.2h0M536.9 390.7h0M537.9 391.1h0M535.2 391.3h0M541.2 390.7h0M579.8 391.3h0M532.5 390.8h0M501.2 391.2h0M546.2 391.1h0M483.5 390.8h0M443.8 391.2h0M535.3 390.8h0M486.2 391.4h0M504.3 390.3h0M585.6 391.0h0M519.4 390.3h0M545.2 391.1h0M521.5 391.0h0M475.4 390.5h0M483.6 390.9h0M463.0 391.2h0M503.7 390.3h0M475.2 391.1h0M559.8 390.8h0M470.0 390.6h0M565.9 390.2h0M573.7 391.4h0M567.9 390.8h0M470.0 391.0h0M517.5 391.5h0M535.9 391.4h0M559.0 391.0h0M569.8 390.6h0M559.2 390.9h0M461.7 391.4h0M541.7 391.4h0M450.8 391.5h0M528.2 391.3h0M577.9 390.7h0M562.7 391.2h0M502.3 391.5h0M480.5 391.4h0M463.4 390.8h0M581.3 391.2h0M572.6 390.2h0M497.5 391.3h0M564.6 390.8h0M506.2 391.1h0M503.4 391.2h0M559.8 390.7h0M560.5 390.5h0M494.0 390.4h0M559.8 391.0h0M498.9 391.0h0M444.3 391.2h0M565.5 390.8h0M555.9 391.2h0M510.7 391.1h0M471.7 391.2h0M475.8 391.4h0M558.7 390.8h0M574.2 391.1h0M482.8 390.5h0M518.1 390.6h0M558.7 390.8h0M581.1 390.8h0M555.6 391.4h0M454.1 391.3h0M503.4 391.3h0M466.1 391.3h0M558.4 391.2h0M557.5 391.0h0M581.8 390.8h0M570.5 390.2h0M513.8 391.4h0M445.4 391.4h0M489.4 391.4h0M582.3 391.3h0M514.5 391.5h0M568.8 391.3h0" stroke="#16169E" stroke-width="1.8" stroke-linecap="round" fill="none"/>
<path d="M480.1 391.0h0M470.4 391.3h0M480.9 391.0h0M553.6 391.3h0M548.1 390.0h0M450.4 391.2h0M494.6 391.0h0M471.2 390.0h0M523.2 391.1h0M559.9 391.4h0M562.2 391.1h0M527.0 391.4h0M501.3 391.2h0M546.1 390.2h0M534.0 391.2h0M557.3 391.4h0M569.1 391.3h0M486.9 391.4h0M522.6 390.9h0M517.6 391.0h0M476.1 390.9h0M532.9 391.0h0M497.3 390.9h0M553.1 390.9h0M488.0 390.8h0M477.8 391.3h0M495.0 390.9h0M445.7 391.4h0M501.1 391.0h0M486.8 391.2h0M462.7 390.4h0M465.4 390.8h0M564.5 391.5h0M482.2 391.1h0M450.7 390.8h0M497.9 391.1h0M470.9 391.5h0M569.8 390.9h0M457.9 390.8h0M512.3 391.1h0M510.1 391.1h0M518.6 391.0h0M477.4 391.2h0M553.4 391.4h0M560.8 391.0h0M503.5 391.0h0M485.3 391.2h0M567.6 390.7h0M511.1 391.1h0M462.7 391.5h0M535.4 390.5h0M544.3 391.4h0M505.1 391.1h0M448.1 391.0h0M554.6 391.2h0M542.4 391.3h0M584.4 391.4h0M470.2 391.4h0M459.7 390.6h0M502.0 391.4h0" stroke="#CC5A96" stroke-width="1.8" stroke-linecap="round" fill="none"/>
<path d="M525.5 390.0h0M533.9 391.4h0M526.4 391.4h0M523.9 391.1h0M502.0 391.4h0M525.6 390.5h0M510.5 391.4h0M510.8 391.3h0M575.8 390.8h0M535.1 390.8h0M547.2 391.4h0M582.4 391.5h0M550.2 391.0h0M510.1 390.5h0M511.4 391.0h0M551.5 390.5h0M574.2 390.7h0M502.8 391.5h0M570.1 391.4h0M518.1 390.3h0M548.2 390.8h0M550.4 391.1h0M522.4 391.0h0M543.3 390.9h0M583.3 391.2h0M565.8 391.2h0M502.4 391.3h0M536.2 391.4h0M560.8 390.5h0M524.2 391.3h0M500.0 391.0h0M574.1 391.5h0M537.1 391.0h0M573.1 390.9h0M516.3 391.3h0M539.0 391.5h0M509.0 390.3h0M519.9 391.4h0M553.1 391.1h0M540.2 390.8h0M552.1 390.7h0M514.1 390.7h0M511.6 391.0h0M508.3 391.0h0M562.7 391.5h0M509.3 390.9h0M519.6 391.3h0M532.7 391.5h0M561.7 390.8h0M533.1 390.8h0" stroke="#D3C6CC" stroke-width="1.8" stroke-linecap="round" fill="none"/>
<path d="M462.9 380.8h0M455.8 370.3h0M495.1 380.5h0M490.7 374.9h0M499.1 388.2h0M481.7 374.8h0M475.6 390.4h0M507.3 379.4h0M475.4 382.7h0M488.7 376.4h0M500.3 371.5h0M469.1 374.9h0M457.5 380.0h0M495.4 389.9h0M504.1 376.7h0M456.8 382.2h0M500.5 385.2h0M489.3 390.5h0M477.8 380.3h0M479.4 383.4h0M486.0 389.7h0M470.2 371.0h0M489.1 384.8h0M488.5 371.2h0M490.9 387.6h0M503.0 379.1h0M501.3 384.6h0M464.1 371.7h0M461.9 372.1h0M469.8 389.6h0M467.0 389.3h0M471.3 376.1h0M458.9 381.7h0M481.8 390.6h0M481.8 381.3h0M456.4 389.3h0M501.6 371.0h0M461.1 383.7h0M469.8 381.6h0M504.0 377.6h0M479.1 373.2h0M471.5 389.5h0M477.3 370.9h0M501.4 375.9h0M499.7 378.3h0" stroke="#8E3B3E" stroke-width="1.8" stroke-linecap="round" fill="none"/>
<path d="M519.4 365.9h0M536.7 362.2h0M530.1 389.4h0M540.4 392.6h0M495.4 367.8h0M545.9 376.1h0M563.5 361.4h0M566.5 351.2h0M572.2 375.3h0M513.7 370.5h0M569.7 366.0h0M516.9 392.2h0M570.6 368.9h0M575.4 382.4h0M574.6 386.9h0M529.8 356.6h0M497.5 370.4h0M498.6 371.3h0M497.6 371.0h0M545.6 384.1h0M526.2 383.2h0M549.9 354.2h0M568.4 373.0h0M549.0 375.0h0M530.8 388.7h0M566.3 368.8h0M480.6 378.7h0M552.2 369.2h0M546.5 378.3h0M476.3 387.6h0M576.8 374.5h0M566.6 385.5h0M515.1 393.3h0M515.8 385.9h0M508.0 383.6h0M562.1 368.3h0M519.8 389.8h0M523.9 376.1h0M541.9 358.1h0M505.1 365.8h0M569.3 381.7h0M568.9 381.4h0M566.1 390.1h0M528.9 381.1h0M494.6 386.1h0M572.9 362.1h0M542.8 350.0h0M494.1 372.6h0M552.5 385.6h0M575.3 389.8h0M524.8 366.6h0M506.6 391.1h0M509.1 386.4h0M558.1 373.1h0M511.5 379.0h0M531.4 376.0h0M525.2 360.6h0M521.5 365.3h0M520.2 365.5h0M513.3 368.6h0M528.5 368.4h0M567.3 376.2h0M525.9 381.5h0M536.3 357.3h0M571.4 371.1h0M526.5 382.9h0M556.8 357.0h0M547.2 385.0h0M477.3 388.8h0M535.0 383.7h0M538.6 359.5h0M546.7 373.3h0M570.5 366.1h0M513.3 391.4h0M574.4 381.2h0M482.3 382.0h0M524.9 375.6h0M577.2 386.7h0M494.4 390.2h0M550.5 362.1h0M548.7 358.7h0M576.2 354.6h0M578.8 362.2h0M553.3 353.8h0M557.9 387.1h0M559.2 363.1h0M574.3 365.1h0M522.1 370.7h0M516.0 389.1h0M536.3 360.8h0M514.1 384.8h0M541.2 391.8h0M542.8 364.2h0M508.2 363.3h0M562.8 361.8h0M545.1 361.9h0M578.9 370.5h0M547.7 382.5h0M508.2 382.1h0M522.7 371.4h0M525.1 369.4h0M572.0 360.7h0M550.9 363.2h0M571.7 386.5h0M525.8 366.5h0M539.5 386.9h0M491.5 371.0h0M475.3 388.7h0M516.8 379.8h0M494.1 383.1h0M504.3 362.1h0M563.3 366.7h0M492.8 386.4h0M554.5 354.0h0M566.8 387.1h0M575.9 387.9h0M552.6 352.0h0M543.3 369.7h0M480.4 379.5h0M484.7 384.7h0M543.7 370.9h0M562.8 389.4h0M573.1 379.8h0M551.2 376.0h0M561.9 376.4h0M545.0 388.3h0M537.6 365.1h0M526.3 366.6h0M524.8 384.9h0M481.4 387.8h0M492.7 388.6h0M537.7 355.3h0M513.6 386.6h0M502.4 375.5h0M493.2 371.4h0M522.6 390.5h0M562.8 362.2h0M544.3 367.1h0M558.3 379.2h0M534.7 379.7h0M567.8 360.5h0M547.2 361.1h0M576.9 362.0h0M561.2 359.8h0M573.6 364.3h0M567.8 372.2h0M539.5 364.6h0M522.6 386.9h0M556.6 390.5h0M572.7 373.2h0M513.3 360.9h0M577.4 352.0h0M483.3 377.2h0M551.1 377.8h0M579.9 357.9h0M518.3 389.0h0M578.7 379.9h0M487.6 383.0h0M483.4 383.5h0M522.9 380.1h0M578.5 357.0h0M529.7 385.9h0M530.9 360.6h0M519.9 380.7h0M528.2 388.8h0M571.6 378.8h0M521.0 359.5h0M495.9 372.8h0M544.1 371.8h0M541.9 380.9h0M533.0 371.4h0M545.1 383.0h0M529.7 373.3h0M532.4 388.9h0M532.6 380.5h0M535.4 378.9h0M533.1 374.5h0M527.8 377.1h0M529.4 380.5h0M532.2 381.5h0M527.9 388.3h0M508.2 377.6h0M557.9 377.0h0M515.0 377.7h0M527.3 377.9h0M542.0 382.5h0M511.2 374.7h0M522.4 372.2h0M537.6 374.7h0M534.9 375.3h0M525.3 378.5h0M511.7 385.4h0M521.5 362.3h0M514.2 384.6h0M532.8 382.2h0M548.3 388.0h0M555.7 383.5h0M550.8 377.9h0M535.1 389.0h0M528.7 387.3h0M537.2 381.0h0M533.1 388.5h0M546.7 383.7h0M531.3 377.2h0M540.1 378.2h0M522.0 376.4h0M540.2 379.8h0M518.2 386.7h0M546.0 368.5h0M554.6 379.1h0M543.0 380.0h0M528.2 390.3h0M552.4 380.8h0M522.7 377.9h0M549.6 375.4h0M538.7 376.2h0M544.1 374.8h0M530.5 378.9h0M516.3 389.4h0M539.2 383.5h0M519.8 387.4h0M526.7 378.1h0M531.1 376.9h0M535.7 381.5h0M518.2 368.6h0M513.4 377.2h0M524.0 378.4h0M526.7 381.4h0M535.7 371.8h0M529.9 378.8h0M516.3 378.8h0M504.2 371.6h0M557.8 382.0h0M534.6 388.7h0M538.3 380.4h0M535.9 372.7h0M540.0 362.4h0M519.0 381.7h0M531.6 373.5h0M543.7 385.3h0M519.6 380.5h0M511.7 381.9h0M547.7 380.9h0M549.8 379.8h0M541.1 388.6h0M525.2 362.9h0M546.8 389.3h0M507.0 382.8h0M542.2 382.7h0M537.8 388.8h0M529.3 370.7h0M505.9 381.3h0M520.5 376.5h0M546.1 384.2h0M531.2 379.1h0M520.3 380.5h0M520.5 384.5h0M530.9 380.6h0M543.2 378.6h0M547.1 386.7h0M550.5 371.9h0M544.7 376.0h0M544.8 372.3h0M555.5 388.1h0M538.1 378.0h0M548.9 382.9h0M549.7 380.2h0M534.3 387.4h0M515.8 376.9h0M540.7 388.6h0M543.8 379.1h0M565.8 369.6h0M515.3 380.6h0M556.1 388.9h0M544.8 385.1h0M534.7 379.1h0M524.7 384.8h0M531.2 381.4h0M510.5 389.9h0M525.9 381.9h0M532.7 376.9h0M524.4 388.6h0M543.6 373.3h0M542.7 384.4h0M531.8 374.8h0M543.2 385.3h0M520.1 377.1h0M538.7 386.0h0M526.2 375.5h0M529.9 384.5h0M514.3 371.8h0M485.4 381.1h0M503.8 372.3h0M481.0 371.9h0M484.3 381.8h0M504.9 388.9h0M491.3 375.9h0M489.4 379.5h0M500.6 386.8h0M480.7 377.7h0M503.4 388.1h0M514.2 382.9h0M488.4 387.7h0M486.8 372.0h0M505.9 381.8h0M487.7 381.6h0M517.8 383.6h0M480.1 383.4h0M501.8 386.8h0M492.8 375.4h0M519.2 384.0h0M507.0 374.4h0M489.5 382.0h0M516.7 377.8h0M492.7 382.2h0" stroke="#16169E" stroke-width="1.8" stroke-linecap="round" fill="none"/>
<path d="M548.6 356.5h0M539.5 362.7h0M550.4 301.3h0M576.1 370.1h0M547.2 312.6h0M534.4 357.7h0M572.7 348.9h0M556.9 352.7h0M572.7 344.8h0M559.4 343.6h0M551.6 348.4h0M563.9 298.4h0M581.9 354.1h0M535.5 318.8h0M572.5 369.5h0M574.2 348.6h0M533.2 345.7h0M555.7 309.9h0M562.2 345.9h0M570.0 297.6h0M529.3 366.8h0M545.6 370.7h0M581.9 318.9h0M559.3 316.0h0M553.3 314.1h0M556.5 305.3h0M566.0 300.9h0M557.9 363.3h0M565.2 329.9h0M551.9 293.5h0M536.2 321.1h0M541.8 329.7h0M565.4 354.2h0M579.6 369.0h0M540.5 372.4h0M571.7 313.0h0M547.6 370.0h0M580.5 365.5h0M579.4 311.2h0M581.2 349.8h0M577.8 360.5h0M568.8 321.1h0M571.8 337.0h0M574.7 290.1h0M560.5 308.6h0M530.2 362.9h0M586.5 347.9h0M532.3 360.3h0M541.2 346.8h0M560.6 338.3h0M583.4 349.0h0M544.4 337.4h0M570.9 319.7h0M536.4 362.8h0M568.8 348.1h0M557.5 330.7h0M560.0 292.5h0M571.5 310.2h0M530.4 365.6h0M569.8 345.2h0M560.7 344.2h0M544.4 338.5h0M576.7 319.4h0M559.6 296.8h0M578.6 341.5h0M550.4 361.0h0M547.7 366.5h0M563.8 295.9h0M537.1 323.8h0M575.7 334.7h0M553.6 319.4h0M550.1 297.2h0M556.2 309.6h0M557.4 369.6h0M536.0 357.7h0M535.6 330.8h0M575.0 330.5h0M565.1 324.7h0M550.4 291.2h0M587.0 354.1h0M557.0 295.3h0M538.0 333.4h0M563.5 354.5h0M568.2 342.4h0M579.3 361.3h0M574.4 376.7h0M580.0 331.1h0M544.3 307.1h0M567.0 336.7h0M561.5 353.5h0M536.0 346.1h0M559.8 325.7h0M579.0 294.1h0M557.2 300.0h0M571.4 289.6h0M571.5 357.7h0M570.3 348.5h0M554.2 327.4h0M526.6 366.7h0M570.3 340.4h0M561.5 341.0h0M578.2 309.9h0M572.3 345.2h0M559.7 313.5h0M581.7 327.0h0M548.7 333.0h0M582.8 344.1h0M553.6 360.1h0M552.7 350.0h0M565.5 326.4h0M534.6 367.7h0M559.8 363.8h0M567.0 318.5h0M541.1 374.0h0M544.2 333.6h0M558.1 291.0h0M549.0 338.1h0M567.0 307.0h0M560.1 373.7h0M557.1 334.1h0M539.8 324.5h0M557.8 307.1h0M553.4 337.6h0M555.1 341.4h0M556.8 370.3h0M543.7 343.9h0M552.5 353.1h0M566.0 321.0h0M562.6 333.9h0M556.7 367.2h0M553.4 315.2h0M583.8 362.7h0M533.7 365.7h0M583.9 314.3h0M549.4 352.6h0M562.3 300.9h0M557.8 339.7h0M576.7 366.1h0M577.7 296.6h0M560.6 323.6h0M562.7 300.3h0M565.3 335.4h0M572.1 357.1h0M567.7 310.3h0M540.0 332.4h0M568.7 299.4h0M557.3 298.1h0M573.7 314.4h0M570.5 291.7h0M579.6 332.9h0M557.3 329.8h0M540.9 345.3h0M534.3 339.9h0M557.5 304.3h0M571.0 305.0h0M582.2 375.0h0M533.4 316.8h0M578.8 363.2h0M541.8 339.6h0M544.3 337.8h0M581.4 318.7h0M551.4 319.9h0M541.0 342.4h0M575.7 340.8h0M525.4 361.1h0M545.8 337.7h0M539.5 375.3h0M538.0 326.3h0M561.2 346.8h0M569.1 341.4h0M558.8 328.7h0M577.2 373.6h0M581.2 367.2h0M541.4 348.3h0M580.2 330.2h0M573.3 330.4h0M544.9 369.1h0M548.9 339.1h0M553.0 308.0h0M533.8 364.4h0M552.2 297.7h0M587.1 349.0h0M540.9 346.8h0M541.4 378.5h0M583.0 349.1h0M542.6 326.8h0M575.6 328.3h0M580.7 327.3h0M539.2 366.3h0M567.8 328.3h0M574.8 355.0h0M554.0 327.2h0M543.9 359.9h0M575.5 305.8h0M579.1 355.1h0M563.3 338.5h0M582.5 369.0h0M558.8 331.8h0M583.2 379.9h0M539.6 370.5h0M551.8 348.7h0M556.8 331.2h0M549.9 330.8h0M566.0 326.8h0M560.4 340.1h0M560.6 314.1h0M551.0 338.8h0M559.2 315.2h0M570.9 346.4h0M557.8 341.5h0M558.1 309.8h0M549.4 328.0h0M546.9 335.2h0M576.4 327.2h0M560.0 330.9h0M555.1 327.8h0M557.7 338.2h0M551.2 329.7h0M548.8 320.2h0M551.6 334.8h0M563.9 340.0h0M567.6 320.6h0M536.8 326.0h0M527.8 341.1h0M526.8 311.7h0M564.3 340.7h0M564.3 326.1h0M564.0 318.2h0M547.4 346.5h0M553.1 343.8h0M561.0 320.5h0M557.3 336.7h0M557.2 338.3h0M570.5 318.3h0M560.6 334.0h0M566.1 333.8h0M562.1 345.9h0M549.4 314.6h0M556.8 342.8h0M548.4 315.7h0M549.9 329.9h0M548.3 342.1h0M547.3 330.2h0M553.6 349.5h0M549.1 325.6h0M551.2 326.6h0M563.4 336.2h0M543.3 345.0h0M558.3 324.3h0M558.7 308.8h0M485.3 347.5h0M488.1 355.6h0M494.3 360.1h0M487.6 348.4h0M473.7 349.5h0M497.3 350.4h0M483.0 354.4h0M485.3 371.0h0M508.2 345.7h0M482.5 350.7h0M504.2 347.4h0M493.9 348.8h0" stroke="#CC5A96" stroke-width="1.8" stroke-linecap="round" fill="none"/>
<path d="M539.5 366.3h0M553.0 358.7h0M546.3 347.9h0M561.5 338.5h0M542.7 348.9h0M558.0 367.4h0M560.5 346.2h0M550.2 354.9h0M557.4 332.6h0M554.4 339.6h0M566.4 332.4h0M561.0 359.0h0M563.3 355.2h0M555.7 354.3h0M547.5 337.4h0M554.1 350.9h0M543.4 358.7h0M577.1 358.6h0M556.9 343.7h0M560.4 330.2h0M578.2 382.7h0M538.1 351.1h0M542.9 374.5h0M537.2 334.1h0M571.5 369.7h0M563.7 354.5h0M545.9 331.8h0M540.2 362.6h0M572.8 351.5h0M564.4 383.8h0M570.9 353.4h0M551.6 373.2h0M558.7 321.4h0M539.7 359.2h0M546.6 382.3h0M545.0 341.8h0M566.1 355.3h0M583.3 383.0h0M581.6 337.3h0M579.1 374.5h0M573.5 353.2h0M546.2 357.6h0M569.3 362.1h0M563.9 352.9h0M573.4 382.7h0M532.2 366.2h0M563.4 377.3h0M560.1 371.7h0M554.8 334.7h0M550.0 355.5h0M551.7 321.4h0M541.0 335.2h0M545.3 381.3h0M575.0 334.9h0M565.8 357.2h0M571.3 372.4h0M582.1 364.3h0M580.7 380.1h0M570.6 340.8h0M543.2 375.9h0M582.7 362.8h0M567.9 363.4h0M564.7 364.5h0M537.8 349.2h0M562.8 333.9h0M549.6 355.2h0M560.9 358.1h0M543.5 373.3h0M559.1 358.4h0M583.8 353.7h0M529.5 361.9h0M546.1 371.1h0M558.5 338.9h0M552.7 358.1h0M552.1 337.4h0" stroke="#B455E6" stroke-width="1.8" stroke-linecap="round" fill="none"/>
<path d="M554.0 344.4h0M565.1 343.8h0M544.5 347.3h0M549.4 336.8h0M547.5 308.0h0M569.1 320.7h0M540.8 351.3h0M566.2 329.9h0M548.2 330.9h0M550.1 317.3h0M547.7 323.5h0M560.8 358.4h0M557.4 314.1h0M566.9 324.7h0M575.3 310.8h0M576.6 351.8h0M573.6 331.2h0M572.2 306.2h0M559.3 353.8h0M543.0 349.6h0M557.2 348.4h0M578.1 309.0h0M577.1 360.3h0M548.5 343.3h0M581.5 345.6h0M563.0 332.2h0M548.8 310.1h0M552.7 312.9h0M561.2 324.3h0M542.0 307.9h0M552.0 322.3h0M572.5 330.6h0M567.7 293.1h0M566.6 316.9h0M575.0 330.6h0M569.5 362.6h0M564.1 321.6h0M559.6 354.6h0M571.5 361.4h0M573.9 313.2h0M565.4 340.7h0M573.1 364.5h0M549.9 365.8h0M550.6 315.3h0M559.6 318.2h0M580.0 356.8h0M578.8 306.2h0M550.0 348.2h0M558.6 345.9h0M576.5 319.5h0M570.8 295.8h0M551.9 319.3h0M544.2 331.0h0M577.4 347.7h0M580.7 315.2h0M566.9 340.7h0M555.7 316.6h0M558.5 326.5h0M570.8 337.5h0M546.3 319.0h0" stroke="#3C9A50" stroke-width="1.8" stroke-linecap="round" fill="none"/>
<polyline points="443.8,391.0 447.9,391.0 453.2,391.0 459.6,391.1 466.8,391.1 474.5,391.2 482.5,391.2 490.4,391.1 498.1,391.1 505.2,390.9 511.5,390.7 516.8,390.4 521.1,390.0 524.9,389.5 528.2,388.9 531.1,388.3 533.7,387.7 536.0,386.9 538.1,386.2 540.1,385.4 542.0,384.6 543.9,383.8 546.0,383.0 548.0,382.2 549.9,381.3 551.7,380.4 553.4,379.5 554.9,378.6 556.4,377.6 557.8,376.6 559.3,375.7 560.7,374.7 562.1,373.7 563.5,372.8 564.9,371.9 566.3,371.0 567.7,370.1 569.0,369.2 570.3,368.3 571.6,367.4 572.8,366.5 574.1,365.5 575.4,364.6 576.7,363.6 578.0,362.6 579.4,361.5 580.9,360.3 582.4,359.1 583.9,357.8 585.5,356.5 587.0,355.2 588.4,354.0 589.7,352.9 590.9,351.9 591.9,351.1 592.7,350.4" fill="none" stroke="#111" stroke-width="1.3" stroke-linejoin="round" stroke-linecap="round"/>
<rect x="437.5" y="272" width="77" height="50" fill="#FFFFFF" stroke="none" stroke-width="1"/>
<rect x="446.8" y="275.3" width="65.3" height="37.6" fill="#EBEBEB" stroke="none" stroke-width="1"/>
<line x1="450.80" y1="305.70" x2="450.80" y2="301.00" stroke="#777" stroke-width="0.4"/>
<ellipse cx="450.8" cy="305" rx="2" ry="0.7" fill="#999" opacity="0.7"/>
<text x="451.8" y="316" font-size="3.1" fill="#333" transform="rotate(-38 451.8 316)" text-anchor="end">LEF1+Tstem</text>
<line x1="459.20" y1="305.70" x2="459.20" y2="290.00" stroke="#777" stroke-width="0.4"/>
<ellipse cx="459.2" cy="305" rx="0.6" ry="0.7" fill="#999" opacity="0.7"/>
<text x="460.2" y="316" font-size="3.1" fill="#333" transform="rotate(-38 460.2 316)" text-anchor="end">GZMK+Tcms</text>
<line x1="465.20" y1="305.70" x2="465.20" y2="284.00" stroke="#777" stroke-width="0.4"/>
<ellipse cx="465.2" cy="305" rx="0.6" ry="0.7" fill="#999" opacity="0.7"/>
<text x="466.2" y="316" font-size="3.1" fill="#333" transform="rotate(-38 466.2 316)" text-anchor="end">KLF2+Tcms</text>
<line x1="472.40" y1="305.70" x2="472.40" y2="298.50" stroke="#777" stroke-width="0.4"/>
<ellipse cx="472.4" cy="305" rx="0.8" ry="0.7" fill="#999" opacity="0.7"/>
<text x="473.4" y="316" font-size="3.1" fill="#333" transform="rotate(-38 473.4 316)" text-anchor="end">XCL1+Trms</text>
<line x1="479.10" y1="305.70" x2="479.10" y2="301.00" stroke="#777" stroke-width="0.4"/>
<ellipse cx="479.1" cy="305" rx="2" ry="0.7" fill="#999" opacity="0.7"/>
<text x="480.1" y="316" font-size="3.1" fill="#333" transform="rotate(-38 480.1 316)" text-anchor="end">CX3CR1+Tems</text>
<line x1="486.30" y1="305.70" x2="486.30" y2="299.70" stroke="#777" stroke-width="0.4"/>
<ellipse cx="486.3" cy="305" rx="1.5" ry="0.7" fill="#999" opacity="0.7"/>
<text x="487.3" y="316" font-size="3.1" fill="#333" transform="rotate(-38 487.3 316)" text-anchor="end">Teff</text>
<line x1="493.50" y1="305.70" x2="493.50" y2="295.00" stroke="#777" stroke-width="0.4"/>
<ellipse cx="493.5" cy="305" rx="0.6" ry="0.7" fill="#999" opacity="0.7"/>
<text x="494.5" y="316" font-size="3.1" fill="#333" transform="rotate(-38 494.5 316)" text-anchor="end">GZMH+Trms</text>
<line x1="500.20" y1="305.70" x2="500.20" y2="277.00" stroke="#777" stroke-width="0.4"/>
<ellipse cx="500.2" cy="305" rx="0.6" ry="0.7" fill="#999" opacity="0.7"/>
<text x="501.2" y="316" font-size="3.1" fill="#333" transform="rotate(-38 501.2 316)" text-anchor="end">Texh</text>
<line x1="507.30" y1="305.70" x2="507.30" y2="279.40" stroke="#777" stroke-width="0.4"/>
<ellipse cx="507.3" cy="305" rx="0.6" ry="0.7" fill="#999" opacity="0.7"/>
<text x="508.3" y="316" font-size="3.1" fill="#333" transform="rotate(-38 508.3 316)" text-anchor="end">TLdys</text>
<text x="122.5" y="310.6" font-size="2.6" fill="#444" text-anchor="end">0</text>
<text x="122.5" y="304.5" font-size="2.6" fill="#444" text-anchor="end">1</text>
<text x="122.5" y="298.4" font-size="2.6" fill="#444" text-anchor="end">2</text>
<text x="122.5" y="292.3" font-size="2.6" fill="#444" text-anchor="end">3</text>
<text x="122.5" y="286.2" font-size="2.6" fill="#444" text-anchor="end">4</text>
<text x="442.8" y="306.3" font-size="2.6" fill="#444" text-anchor="end">0</text>
<text x="442.8" y="299.8" font-size="2.6" fill="#444" text-anchor="end">1</text>
<text x="442.8" y="293.3" font-size="2.6" fill="#444" text-anchor="end">2</text>
<text x="442.8" y="286.8" font-size="2.6" fill="#444" text-anchor="end">3</text>
<text x="442.8" y="280.3" font-size="2.6" fill="#444" text-anchor="end">4</text>
<text x="442.8" y="312.3" font-size="2.6" fill="#444" text-anchor="end">-1</text>
<text x="441" y="294" font-size="2.9" fill="#444" transform="rotate(-90 441 294)" text-anchor="middle">Exh score</text>
<rect x="30" y="271" width="166" height="126" fill="none" stroke="#8A8A8A" stroke-width="0.9"/>
<rect x="234" y="271" width="164" height="126" fill="none" stroke="#8A8A8A" stroke-width="0.9"/>
<rect x="436.5" y="271" width="163.5" height="126" fill="none" stroke="#8A8A8A" stroke-width="0.9"/>
<circle cx="619.7" cy="281.4" r="3.4" fill="#8E3B3E"/>
<text x="625" y="284.4" font-size="8.5" text-anchor="start" font-weight="normal" fill="#222">LEF1+Tstem</text>
<circle cx="619.7" cy="294.4" r="3.4" fill="#16169E"/>
<text x="625" y="297.45" font-size="8.5" text-anchor="start" font-weight="normal" fill="#222">GZMK+Tcms</text>
<circle cx="619.7" cy="307.5" r="3.4" fill="#B455E6"/>
<text x="625" y="310.5" font-size="8.5" text-anchor="start" font-weight="normal" fill="#222">KLF2+Tcms</text>
<circle cx="619.7" cy="320.5" r="3.4" fill="#EE9E7C"/>
<text x="625" y="323.54999999999995" font-size="8.5" text-anchor="start" font-weight="normal" fill="#222">XCL1+Trms</text>
<circle cx="619.7" cy="333.6" r="3.4" fill="#B3E3F4"/>
<text x="625" y="336.59999999999997" font-size="8.5" text-anchor="start" font-weight="normal" fill="#222">CX3CR1+Tems</text>
<circle cx="619.7" cy="346.6" r="3.4" fill="#C6C46E"/>
<text x="625" y="349.65" font-size="8.5" text-anchor="start" font-weight="normal" fill="#222">Teff</text>
<circle cx="619.7" cy="359.7" r="3.4" fill="#D3C6CC"/>
<text x="625" y="362.7" font-size="8.5" text-anchor="start" font-weight="normal" fill="#222">GZMH+Trms</text>
<circle cx="619.7" cy="372.8" r="3.4" fill="#CC5A96"/>
<text x="625" y="375.75" font-size="8.5" text-anchor="start" font-weight="normal" fill="#222">Texh</text>
<circle cx="619.7" cy="385.8" r="3.4" fill="#3C9A50"/>
<text x="625" y="388.79999999999995" font-size="8.5" text-anchor="start" font-weight="normal" fill="#222">TLdys</text>
<line x1="90.60" y1="445.00" x2="90.60" y2="602.70" stroke="#333" stroke-width="0.9"/>
<line x1="90.60" y1="602.70" x2="252.50" y2="602.70" stroke="#333" stroke-width="0.9"/>
<line x1="88.50" y1="454.20" x2="90.60" y2="454.20" stroke="#888" stroke-width="0.7"/>
<text x="85" y="457.7" font-size="9.9" text-anchor="end" font-weight="normal" fill="#222">LEF1+Tstem</text>
<line x1="88.50" y1="471.30" x2="90.60" y2="471.30" stroke="#888" stroke-width="0.7"/>
<text x="85" y="474.8" font-size="9.9" text-anchor="end" font-weight="normal" fill="#222">GZMK+Tcms</text>
<line x1="88.50" y1="488.60" x2="90.60" y2="488.60" stroke="#888" stroke-width="0.7"/>
<text x="85" y="492.1" font-size="9.9" text-anchor="end" font-weight="normal" fill="#222">KLF2+Tcms</text>
<line x1="88.50" y1="506.00" x2="90.60" y2="506.00" stroke="#888" stroke-width="0.7"/>
<text x="85" y="509.5" font-size="9.9" text-anchor="end" font-weight="normal" fill="#222">XCL1+Trms</text>
<line x1="88.50" y1="523.20" x2="90.60" y2="523.20" stroke="#888" stroke-width="0.7"/>
<text x="85" y="526.7" font-size="9.9" text-anchor="end" font-weight="normal" fill="#222">CX3CR1+Tems</text>
<line x1="88.50" y1="540.50" x2="90.60" y2="540.50" stroke="#888" stroke-width="0.7"/>
<text x="85" y="544.0" font-size="9.9" text-anchor="end" font-weight="normal" fill="#222">Teff</text>
<line x1="88.50" y1="557.60" x2="90.60" y2="557.60" stroke="#888" stroke-width="0.7"/>
<text x="85" y="561.1" font-size="9.9" text-anchor="end" font-weight="normal" fill="#222">GZMH+Trms</text>
<line x1="88.50" y1="574.80" x2="90.60" y2="574.80" stroke="#888" stroke-width="0.7"/>
<text x="85" y="578.3" font-size="9.9" text-anchor="end" font-weight="normal" fill="#222">Texh</text>
<line x1="88.50" y1="592.00" x2="90.60" y2="592.00" stroke="#888" stroke-width="0.7"/>
<text x="85" y="595.5" font-size="9.9" text-anchor="end" font-weight="normal" fill="#222">TLdys</text>
<line x1="96.90" y1="602.70" x2="96.90" y2="604.50" stroke="#888" stroke-width="0.7"/>
<text x="96.60000000000001" y="619" font-size="13.8" text-anchor="middle" font-weight="normal" fill="#111">0</text>
<line x1="140.80" y1="602.70" x2="140.80" y2="604.50" stroke="#888" stroke-width="0.7"/>
<text x="140.5" y="619" font-size="13.8" text-anchor="middle" font-weight="normal" fill="#111">500</text>
<line x1="184.70" y1="602.70" x2="184.70" y2="604.50" stroke="#888" stroke-width="0.7"/>
<text x="184.39999999999998" y="619" font-size="13.8" text-anchor="middle" font-weight="normal" fill="#111">1000</text>
<line x1="228.60" y1="602.70" x2="228.60" y2="604.50" stroke="#888" stroke-width="0.7"/>
<text x="228.3" y="619" font-size="13.8" text-anchor="middle" font-weight="normal" fill="#111">1500</text>
<text x="167" y="636" font-size="14.75" text-anchor="middle" font-weight="normal" fill="#111">pseudotime</text>
<path d="M96.6 451.1h0M96.6 453.2h0M96.7 455.4h0M99.0 450.4h0M99.1 452.6h0M98.7 456.5h0M100.9 449.0h0M101.4 451.4h0M100.9 452.7h0M101.1 455.3h0M101.3 457.6h0M102.7 449.8h0M103.4 452.0h0M103.3 454.2h0M102.9 458.7h0M104.9 450.7h0M104.6 455.4h0M104.9 457.2h0M105.1 459.6h0M107.2 449.3h0M107.0 452.1h0M106.7 453.7h0M107.3 456.3h0M106.6 458.6h0M108.8 448.8h0M109.1 451.4h0M108.7 453.6h0M111.0 451.5h0M110.7 454.1h0M110.9 456.0h0M113.2 449.5h0M112.4 452.1h0M113.1 454.5h0M113.0 456.3h0M115.0 449.5h0M115.4 451.6h0M114.9 453.7h0M114.8 458.3h0M117.0 448.4h0M117.2 450.5h0M116.8 457.3h0M117.1 460.0h0M119.3 449.8h0M119.1 451.2h0M119.5 458.6h0M121.2 448.2h0M121.1 450.0h0M121.1 453.0h0M121.1 454.9h0M121.1 457.0h0M120.9 459.2h0M123.5 449.6h0M122.8 451.4h0M123.1 453.5h0M122.6 455.9h0M123.0 458.3h0M125.2 448.0h0M125.1 450.1h0M125.5 452.6h0M125.2 454.6h0M125.4 459.2h0M127.2 454.0h0M127.4 456.4h0M127.0 458.9h0M129.2 448.5h0M129.3 451.1h0M129.0 457.2h0M129.3 459.3h0M131.0 449.5h0M131.0 453.8h0M130.8 456.0h0M131.1 458.3h0M133.0 448.4h0M133.5 450.6h0M133.2 453.5h0M133.2 455.1h0M132.9 457.3h0M135.1 451.3h0M135.1 453.4h0M136.9 449.6h0M136.9 452.4h0M137.2 456.8h0M138.5 451.8h0M139.0 453.4h0M139.5 456.1h0M139.1 458.2h0M140.8 450.0h0M141.2 452.9h0M141.1 455.3h0M140.8 457.4h0M142.7 456.2h0M145.4 451.1h0M145.2 453.1h0M145.4 455.0h0M147.0 453.1h0M149.2 453.0h0M151.1 454.7h0M155.1 454.0h0M157.0 450.9h0M156.9 452.8h0M159.3 449.8h0M159.2 452.8h0M159.0 454.6h0M159.6 459.1h0M160.9 453.9h0M160.8 455.9h0M163.3 450.1h0M163.2 454.4h0M162.9 456.9h0M163.9 459.1h0M165.1 449.3h0M165.3 451.0h0M165.5 453.6h0M165.1 455.9h0M165.0 457.8h0M167.6 449.8h0M167.8 452.0h0M167.4 454.0h0M166.8 457.1h0M167.3 458.8h0M169.2 449.0h0M169.3 450.3h0M169.7 453.6h0M169.4 455.1h0M169.3 457.7h0M171.4 449.8h0M171.1 454.1h0M171.0 456.1h0M173.2 450.7h0M173.6 452.7h0M173.3 455.1h0M173.1 457.8h0M172.8 459.4h0M175.8 449.8h0M175.3 452.0h0M175.3 456.4h0M174.9 458.8h0M177.1 448.3h0M177.4 449.9h0M176.9 452.7h0M177.4 454.7h0M177.3 457.5h0M177.4 459.5h0M179.4 451.8h0M179.6 453.8h0M180.3 455.7h0M179.1 458.4h0M181.3 449.2h0M181.8 450.5h0M181.4 453.7h0M181.3 457.7h0M183.4 450.8h0M183.4 452.6h0M183.1 457.6h0M185.3 450.3h0M185.6 452.4h0M185.6 454.8h0M185.6 456.4h0M186.9 450.9h0M187.0 453.6h0M187.0 456.4h0M189.2 450.4h0M189.5 452.7h0M189.3 455.2h0M191.3 456.4h0M193.3 450.6h0M193.9 455.7h0M195.6 453.1h0M195.1 456.0h0M205.7 455.2h0M209.8 454.3h0M218.9 453.9h0" stroke="#8E3B3E" stroke-width="2.0" stroke-linecap="round" fill="none"/>
<path d="M97.2 464.9h0M97.4 466.9h0M96.8 469.2h0M97.2 471.6h0M97.1 474.3h0M97.2 475.9h0M99.2 466.0h0M98.4 468.1h0M99.3 470.2h0M98.6 472.5h0M98.8 475.0h0M99.0 476.7h0M101.0 466.9h0M101.0 469.6h0M101.5 471.2h0M101.1 473.7h0M101.0 476.0h0M102.8 465.6h0M102.5 467.4h0M102.4 470.2h0M102.6 472.4h0M103.2 474.2h0M102.7 476.9h0M105.1 464.5h0M105.0 469.1h0M104.7 470.9h0M104.9 473.0h0M105.0 475.8h0M104.7 477.7h0M106.7 467.9h0M107.3 469.8h0M107.0 472.0h0M106.6 474.7h0M106.7 476.8h0M109.0 464.6h0M108.9 466.6h0M109.1 469.1h0M109.5 471.0h0M109.2 473.7h0M108.8 475.9h0M109.1 477.9h0M110.6 474.9h0M110.9 476.6h0M112.2 464.3h0M112.9 466.5h0M113.1 468.6h0M113.0 471.0h0M112.7 473.1h0M112.9 475.4h0M115.4 465.3h0M114.9 469.8h0M114.7 472.2h0M115.2 473.9h0M115.2 475.9h0M117.1 464.4h0M117.2 466.2h0M117.1 468.4h0M116.7 471.0h0M116.8 473.1h0M116.7 475.0h0M116.9 477.3h0M119.3 465.2h0M119.2 467.0h0M118.8 469.2h0M119.0 471.9h0M119.3 473.7h0M119.5 476.0h0M119.0 478.3h0M121.1 463.9h0M121.5 466.3h0M121.1 468.0h0M121.0 470.6h0M120.8 475.1h0M120.9 477.0h0M123.3 464.9h0M123.1 467.5h0M123.6 469.7h0M123.1 471.7h0M123.3 474.1h0M123.1 476.1h0M123.1 478.0h0M125.1 464.1h0M125.4 465.7h0M124.9 468.1h0M124.9 470.9h0M125.0 472.5h0M124.9 474.9h0M125.4 477.4h0M126.7 464.8h0M127.0 467.2h0M126.3 471.4h0M127.3 473.8h0M127.1 475.7h0M129.1 463.8h0M128.9 466.0h0M129.0 468.1h0M129.2 470.8h0M128.9 473.1h0M129.2 475.4h0M129.1 477.4h0M130.9 465.1h0M130.8 467.4h0M130.7 471.4h0M130.7 474.2h0M130.9 475.8h0M131.1 478.5h0M133.2 464.1h0M133.0 468.3h0M133.1 470.4h0M133.4 473.1h0M133.0 475.1h0M133.3 477.1h0M135.2 464.8h0M135.7 467.1h0M135.4 470.4h0M135.5 471.8h0M135.4 473.9h0M135.4 476.6h0M135.2 478.1h0M137.5 464.0h0M137.4 466.2h0M137.6 468.2h0M136.9 470.7h0M137.3 473.0h0M137.2 475.1h0M137.1 477.4h0M138.8 465.4h0M139.1 469.4h0M139.2 472.5h0M139.3 474.0h0M139.0 476.5h0M139.1 479.1h0M140.8 463.9h0M141.3 468.7h0M141.8 470.8h0M141.4 473.2h0M140.7 475.0h0M141.1 477.8h0M143.4 465.4h0M143.1 466.8h0M143.3 469.5h0M143.3 471.8h0M143.0 473.9h0M143.6 476.5h0M145.1 463.8h0M145.0 465.9h0M145.3 468.3h0M145.5 470.6h0M145.5 472.7h0M145.3 475.0h0M147.1 465.1h0M147.2 466.9h0M146.9 469.5h0M147.3 472.0h0M147.1 474.3h0M147.1 476.1h0M149.4 463.8h0M149.0 466.7h0M149.5 468.1h0M149.5 471.0h0M148.9 475.6h0M149.4 477.2h0M151.1 465.2h0M151.1 467.7h0M151.1 469.9h0M151.3 471.6h0M150.8 474.3h0M151.1 476.1h0M153.1 464.5h0M153.4 466.3h0M153.0 468.9h0M153.4 470.7h0M152.9 472.9h0M153.0 477.5h0M154.9 465.1h0M155.4 467.7h0M155.3 469.9h0M155.5 471.9h0M157.0 464.0h0M157.3 466.2h0M157.3 468.6h0M157.3 471.1h0M156.8 473.8h0M157.4 475.4h0M157.3 477.8h0M158.8 465.6h0M159.1 467.7h0M159.4 469.9h0M159.0 474.4h0M159.2 476.3h0M161.9 466.3h0M161.0 468.7h0M161.2 473.3h0M161.4 475.5h0M161.4 477.7h0M163.2 466.1h0M163.3 467.7h0M163.4 470.8h0M163.4 472.5h0M163.7 474.2h0M163.0 477.1h0M165.3 464.7h0M165.7 467.0h0M165.4 469.2h0M165.2 471.4h0M165.5 473.4h0M165.3 476.3h0M167.1 466.0h0M167.0 468.8h0M167.7 471.0h0M167.3 473.1h0M166.9 475.2h0M167.1 477.1h0M169.4 465.6h0M169.6 470.3h0M169.0 471.7h0M168.9 474.1h0M169.1 476.5h0M171.3 467.2h0M171.4 469.0h0M171.7 471.1h0M171.2 473.4h0M171.3 475.8h0M173.1 466.5h0M173.1 468.0h0M173.5 470.1h0M173.4 473.1h0M173.1 475.0h0M175.2 467.1h0M175.6 469.4h0M175.8 471.8h0M175.3 474.2h0M175.2 475.6h0M177.1 468.5h0M177.3 470.1h0M177.6 472.6h0M177.6 474.7h0M179.5 467.2h0M179.8 469.9h0M179.0 472.1h0M179.3 473.9h0M179.3 476.0h0M181.2 466.4h0M181.4 468.4h0M181.7 470.7h0M181.3 473.0h0M181.6 475.6h0M183.3 469.9h0M183.2 472.3h0M185.3 466.4h0M185.2 468.7h0M185.2 473.3h0M186.1 475.6h0M187.1 467.5h0M187.2 472.5h0M187.3 474.9h0M189.3 467.0h0M189.1 469.5h0M189.2 471.3h0M189.6 473.7h0M191.8 470.5h0M191.1 472.7h0M191.2 475.2h0M193.1 467.4h0M193.5 470.2h0M192.9 471.7h0M195.8 468.8h0M195.0 471.6h0M195.3 473.0h0M197.5 467.3h0M197.6 474.5h0M199.8 469.2h0M199.8 471.3h0M200.1 473.9h0M201.3 467.9h0M201.8 470.4h0M201.4 473.2h0M203.3 469.5h0M205.6 468.1h0M205.9 471.4h0M205.8 473.4h0M207.5 470.0h0M207.4 472.8h0M209.1 471.8h0M211.9 470.1h0M213.6 469.4h0M213.7 471.7h0M215.5 472.5h0M219.3 470.6h0M221.6 469.8h0M221.7 471.8h0M223.6 470.6h0M223.3 472.1h0M225.2 469.7h0M225.3 471.5h0M227.4 470.9h0M227.4 472.9h0M229.7 468.9h0M229.7 471.7h0M231.5 470.2h0M231.6 472.6h0M233.7 469.5h0M233.4 470.9h0M235.5 470.7h0M235.6 472.8h0M237.7 470.0h0M237.3 471.8h0M239.7 470.6h0M239.8 472.6h0" stroke="#16169E" stroke-width="2.0" stroke-linecap="round" fill="none"/>
<path d="M208.6 481.0h0M208.5 483.5h0M208.6 485.4h0M208.6 487.6h0M208.1 490.0h0M208.8 492.4h0M209.0 494.1h0M210.1 482.1h0M210.6 484.0h0M210.2 486.5h0M210.8 488.7h0M210.8 491.3h0M210.6 495.6h0M212.7 481.1h0M212.5 483.5h0M212.8 485.3h0M212.5 487.6h0M212.7 490.2h0M212.8 492.7h0M212.7 494.6h0M214.4 482.3h0M214.3 484.2h0M214.8 487.1h0M214.7 488.9h0M214.7 491.3h0M215.1 493.2h0M214.5 495.6h0M101.3 489.4h0M111.7 489.2h0M112.6 489.1h0M137.7 488.4h0M144.6 488.7h0M158.1 488.9h0M165.9 487.7h0M171.2 489.4h0M229.2 489.5h0M238.0 487.6h0" stroke="#B455E6" stroke-width="2.0" stroke-linecap="round" fill="none"/>
<path d="M190.8 504.5h0M191.0 505.8h0M193.5 501.6h0M192.9 503.5h0M193.3 506.2h0M193.7 507.9h0M192.7 510.0h0M195.1 499.2h0M195.3 501.0h0M194.9 505.6h0M194.8 507.8h0M194.8 510.3h0M195.4 512.5h0M197.0 499.3h0M197.1 501.8h0M197.1 505.7h0M197.1 510.7h0M199.4 499.6h0M199.4 502.2h0M199.1 507.3h0M199.0 508.8h0M199.1 510.7h0M199.1 513.3h0M201.0 501.8h0M200.5 503.4h0M200.5 506.1h0M201.2 508.4h0M201.2 510.5h0M201.1 512.6h0M203.1 498.7h0M202.7 501.6h0M203.4 503.2h0M203.4 505.5h0M202.9 507.3h0M203.1 509.5h0M203.0 512.0h0M205.0 503.8h0M205.3 506.3h0M205.1 507.8h0M205.5 510.7h0M206.7 503.3h0M207.4 505.6h0M207.4 508.0h0M146.7 503.9h0M167.3 508.1h0M134.6 507.0h0M164.0 506.5h0M99.7 507.7h0M138.9 504.7h0M122.3 507.9h0M170.5 504.4h0M150.1 505.4h0M141.0 504.6h0M186.0 503.5h0M127.8 505.4h0M161.1 504.8h0M126.3 506.3h0M163.6 507.0h0M130.5 506.4h0M128.6 508.0h0M116.6 505.0h0M135.9 507.1h0M123.6 506.0h0M153.4 504.7h0M139.1 504.0h0M158.8 508.0h0M123.3 504.3h0M158.9 506.9h0M162.1 507.7h0M184.1 505.4h0M184.4 507.3h0M171.3 506.2h0M127.1 503.7h0M170.5 504.9h0M146.2 505.8h0M105.4 507.2h0M104.0 503.9h0M164.8 507.3h0M111.5 506.0h0M106.4 508.1h0M144.0 507.4h0M159.9 508.0h0M126.5 507.9h0M113.3 507.9h0M127.9 504.3h0M116.0 508.3h0M115.1 506.8h0M151.2 507.9h0M167.7 506.6h0M178.7 506.6h0M187.6 507.3h0M102.7 508.5h0M151.9 505.7h0M179.5 505.9h0M122.7 505.1h0M150.1 504.9h0M123.5 504.2h0M122.7 507.3h0M211.7 505.7h0M227.5 507.4h0M219.0 504.2h0M239.1 507.4h0M241.7 504.5h0M238.9 507.3h0M225.2 505.4h0M234.6 505.3h0M216.5 505.8h0M221.0 505.3h0M222.7 507.7h0M214.1 504.1h0M216.3 504.4h0M219.3 507.4h0" stroke="#EE9E7C" stroke-width="2.0" stroke-linecap="round" fill="none"/>
<path d="M97.9 521.2h0M100.0 524.7h0M101.9 520.9h0M101.7 523.6h0M102.1 526.1h0M104.1 522.3h0M108.1 520.2h0M107.9 522.6h0M107.5 524.6h0M109.9 519.1h0M109.8 521.0h0M110.1 523.9h0M112.2 526.5h0M113.7 518.6h0M114.0 523.1h0M115.5 520.2h0M117.8 518.8h0M118.3 522.9h0M118.0 525.7h0M119.6 520.4h0M122.1 518.4h0M122.2 525.3h0M121.8 527.9h0M124.2 522.3h0M126.2 518.6h0M126.2 522.9h0M128.2 521.7h0M128.3 524.4h0M130.0 521.3h0M129.6 522.8h0M132.1 523.7h0M133.6 522.7h0M133.9 527.3h0M135.7 519.7h0M135.7 521.7h0M136.0 523.8h0M136.0 526.2h0M138.6 518.2h0M137.4 525.0h0M138.2 527.2h0M140.3 519.5h0M142.0 518.2h0M142.3 520.4h0M142.2 522.6h0M144.2 519.4h0M143.9 521.4h0M144.4 523.5h0M145.6 519.2h0M146.2 521.5h0M148.1 520.6h0M148.3 523.7h0M148.5 525.5h0M150.3 524.5h0M151.5 525.6h0M156.2 520.9h0M158.4 519.3h0M158.2 524.2h0M160.2 520.7h0M162.3 519.2h0M162.0 521.8h0M162.2 524.1h0M162.3 526.6h0M164.1 524.6h0M166.2 519.7h0M166.0 521.9h0M166.1 526.4h0M168.6 522.4h0M169.9 524.6h0M171.9 519.0h0M172.2 521.1h0M174.5 516.8h0M174.3 526.3h0M174.3 527.5h0M176.5 517.3h0M176.7 519.9h0M176.2 524.1h0M175.9 528.9h0M178.2 516.3h0M178.3 520.5h0M178.2 529.6h0M180.4 523.5h0M180.1 525.9h0M180.5 527.8h0M180.5 530.2h0M182.4 517.5h0M182.1 526.4h0M182.3 528.5h0M184.0 521.5h0M184.4 524.1h0M186.1 519.3h0M186.4 528.5h0M188.4 526.2h0M188.5 528.1h0M190.6 523.8h0M189.9 525.3h0M192.4 525.8h0M194.2 523.3h0M208.9 523.0h0M219.8 523.1h0M233.9 524.2h0" stroke="#B3E3F4" stroke-width="2.0" stroke-linecap="round" fill="none"/>
<path d="M114.8 537.9h0M102.7 542.0h0M98.9 539.1h0M115.7 540.9h0M109.9 535.7h0M99.0 545.4h0M134.4 535.9h0M118.9 543.3h0M106.5 535.6h0M97.6 545.3h0M123.3 541.1h0M101.7 542.5h0M120.9 544.8h0M106.7 545.1h0M105.0 537.5h0M125.7 536.6h0M101.6 538.0h0M100.3 541.7h0M126.0 544.4h0M124.8 540.9h0M103.7 536.8h0M114.4 542.1h0M98.6 545.4h0M105.3 536.5h0M186.6 542.1h0M181.5 539.5h0M184.1 538.7h0M187.9 542.6h0M179.7 541.2h0M194.1 537.1h0M174.8 542.6h0M172.7 542.7h0M190.5 541.2h0M193.0 542.4h0M186.8 542.1h0M188.9 538.6h0M189.7 539.5h0M188.2 542.5h0M151.5 539.7h0" stroke="#C6C46E" stroke-width="2.0" stroke-linecap="round" fill="none"/>
<path d="M102.4 558.1h0M104.2 556.8h0M108.4 556.9h0M110.3 557.6h0M112.4 556.4h0M114.0 557.6h0M116.2 555.7h0M116.2 557.4h0M118.1 556.8h0M118.3 558.8h0M120.3 555.3h0M120.3 559.4h0M122.4 555.8h0M121.6 558.0h0M124.4 554.4h0M124.5 557.5h0M123.8 559.3h0M126.7 555.6h0M125.9 558.1h0M126.0 559.8h0M128.5 554.9h0M127.7 556.8h0M128.1 559.2h0M130.8 555.5h0M130.7 557.8h0M130.3 559.6h0M132.0 554.3h0M132.9 556.1h0M132.0 558.4h0M132.6 560.6h0M134.2 554.6h0M134.0 559.7h0M136.3 553.7h0M136.6 556.5h0M136.3 558.1h0M135.8 560.2h0M138.6 554.5h0M137.9 556.8h0M138.2 559.5h0M138.2 561.4h0M139.8 553.2h0M140.2 555.4h0M140.3 557.4h0M140.4 559.7h0M140.6 561.4h0M142.1 552.6h0M142.6 555.2h0M142.6 559.7h0M142.1 562.0h0M144.6 551.2h0M143.9 552.9h0M143.9 555.6h0M144.4 557.8h0M144.4 559.7h0M144.3 562.3h0M146.3 551.2h0M146.3 555.5h0M146.2 557.8h0M146.4 560.2h0M146.7 562.3h0M146.0 564.8h0M148.6 550.1h0M148.5 551.8h0M148.3 554.3h0M148.2 556.3h0M148.4 558.6h0M148.3 561.0h0M148.0 563.4h0M148.8 565.4h0M150.5 550.5h0M149.9 552.9h0M150.6 555.3h0M150.0 557.7h0M150.4 559.8h0M150.6 562.2h0M150.4 564.1h0M152.8 549.7h0M151.8 552.2h0M152.0 554.5h0M152.6 556.7h0M152.3 559.1h0M152.5 561.6h0M152.3 563.0h0M154.3 551.2h0M154.6 553.8h0M154.5 555.7h0M153.9 557.8h0M154.7 564.8h0M156.3 550.0h0M156.0 552.6h0M156.2 555.4h0M156.5 556.9h0M156.0 559.4h0M156.2 561.6h0M158.1 551.7h0M158.8 553.5h0M158.2 555.8h0M158.1 558.6h0M158.5 560.6h0M158.2 562.8h0M160.6 550.7h0M160.5 552.9h0M160.1 554.9h0M159.9 557.4h0M160.5 560.0h0M160.1 562.1h0M160.1 564.6h0M162.5 553.0h0M162.6 554.6h0M162.1 557.1h0M163.0 559.5h0M162.4 561.4h0M164.5 555.0h0M164.4 556.8h0M164.4 559.8h0M164.3 561.6h0M166.3 555.0h0M166.2 557.3h0M166.2 559.3h0M166.3 561.3h0M168.4 552.9h0M168.4 555.5h0M168.6 558.0h0M168.4 560.4h0M170.7 554.3h0M170.1 556.4h0M170.5 558.8h0M170.3 561.3h0M172.8 553.2h0M172.2 556.2h0M171.6 558.0h0M172.5 560.0h0M174.6 554.7h0M174.4 556.7h0M174.7 558.6h0M174.6 561.2h0M176.5 553.5h0M176.5 555.7h0M176.5 557.7h0M176.7 559.9h0M178.0 554.2h0M178.3 556.5h0M178.3 558.6h0M178.5 560.7h0M180.2 553.0h0M180.1 554.7h0M180.7 556.9h0M180.7 559.8h0M180.7 561.5h0M182.4 553.2h0M182.9 555.4h0M182.7 557.8h0M182.8 559.9h0M182.8 562.3h0M184.4 551.3h0M184.2 553.7h0M184.4 556.2h0M184.3 558.3h0M184.9 560.1h0M184.5 562.3h0M186.4 552.2h0M186.2 554.4h0M186.7 556.6h0M186.8 558.8h0M186.6 561.4h0M186.2 563.4h0M188.3 550.4h0M188.6 552.3h0M188.6 554.8h0M188.5 557.2h0M188.9 559.7h0M188.6 563.3h0M190.7 551.0h0M190.2 553.1h0M190.1 555.4h0M190.9 558.0h0M190.3 560.3h0M190.4 562.6h0M190.3 564.6h0M192.8 549.8h0M193.3 551.9h0M192.5 554.1h0M192.5 556.3h0M193.0 558.1h0M192.6 560.2h0M192.9 563.3h0M192.5 565.2h0M194.3 550.3h0M194.7 553.1h0M194.3 554.6h0M194.3 557.1h0M195.1 559.4h0M194.1 561.3h0M194.4 563.9h0M196.6 549.7h0M196.4 551.2h0M196.4 553.5h0M196.5 555.8h0M195.9 558.1h0M196.8 560.5h0M196.5 562.6h0M196.4 564.1h0M199.0 550.3h0M198.5 552.4h0M198.7 554.7h0M198.8 556.8h0M198.2 558.8h0M199.0 561.3h0M199.1 564.0h0M199.1 566.1h0M201.1 549.0h0M200.5 551.2h0M200.6 553.5h0M200.6 555.7h0M200.4 557.9h0M200.5 559.8h0M200.1 561.8h0M200.6 565.1h0M202.5 549.9h0M202.4 552.1h0M202.9 554.2h0M202.5 556.2h0M202.7 558.7h0M202.5 561.0h0M202.2 563.6h0M202.7 565.8h0M204.2 548.8h0M204.5 551.3h0M205.2 553.1h0M204.5 555.5h0M204.7 557.5h0M204.8 559.5h0M204.6 561.8h0M204.9 564.0h0M204.9 567.0h0M206.2 549.9h0M206.5 552.2h0M206.8 554.0h0M206.9 556.8h0M206.5 558.7h0M206.7 561.1h0M206.5 563.3h0M206.7 565.1h0M208.6 549.1h0M208.4 551.0h0M208.3 553.3h0M208.0 555.8h0M208.5 558.0h0M208.7 560.2h0M208.5 562.5h0M208.8 564.2h0M211.0 550.5h0M210.3 552.4h0M210.5 555.2h0M210.5 556.9h0M210.9 559.7h0M210.7 561.3h0M210.5 563.2h0M210.6 565.8h0M212.5 549.3h0M212.6 553.3h0M212.5 556.0h0M212.5 562.9h0M213.1 565.0h0M214.9 550.1h0M214.6 553.0h0M215.0 554.5h0M215.1 557.3h0M214.4 559.9h0M214.6 561.7h0M214.2 563.5h0M216.7 549.5h0M216.9 551.4h0M216.5 554.5h0M216.8 556.2h0M216.8 558.3h0M216.6 561.2h0M216.4 563.1h0M216.4 565.3h0M218.7 550.9h0M218.4 553.2h0M218.5 555.4h0M218.6 557.7h0M218.4 560.5h0M218.9 562.2h0M218.7 564.7h0M220.7 552.1h0M220.8 554.7h0M220.7 557.1h0M220.7 559.4h0M220.9 561.5h0M220.8 563.6h0M222.9 551.8h0M222.6 554.2h0M222.7 556.1h0M222.7 558.5h0M222.5 560.6h0M222.5 563.2h0M224.7 551.3h0M224.5 553.3h0M224.3 555.7h0M225.1 557.9h0M224.6 560.3h0M224.9 562.5h0M226.7 552.5h0M226.9 555.1h0M226.8 557.3h0M226.8 559.6h0M226.8 561.7h0M228.5 551.9h0M228.4 554.6h0M228.6 556.1h0M228.8 558.7h0M228.9 561.3h0M228.8 563.2h0M230.5 555.8h0M231.2 557.9h0M230.7 560.3h0M232.6 552.3h0M232.7 555.0h0M232.4 557.2h0M232.2 558.9h0M232.7 561.2h0M234.9 553.8h0M234.7 556.0h0M234.6 558.7h0M234.4 560.8h0M236.4 552.8h0M236.9 555.2h0M237.1 557.5h0M236.5 559.7h0M236.7 562.4h0M238.9 554.5h0M238.4 556.3h0M238.8 559.1h0M238.8 561.5h0M240.4 554.5h0M240.8 556.3h0M243.0 557.9h0" stroke="#D3C6CC" stroke-width="2.0" stroke-linecap="round" fill="none"/>
<path d="M97.6 572.5h0M98.5 574.6h0M100.0 573.9h0M100.0 576.4h0M101.8 572.8h0M101.8 574.5h0M103.6 573.4h0M103.8 576.3h0M106.1 572.4h0M105.8 575.0h0M108.1 573.9h0M107.9 576.2h0M109.9 572.2h0M109.7 574.8h0M112.0 573.8h0M112.2 575.8h0M113.8 572.7h0M114.2 573.9h0M116.2 574.0h0M116.3 576.1h0M118.1 572.3h0M118.1 574.8h0M119.7 573.6h0M119.7 575.9h0M122.0 572.7h0M122.1 575.2h0M124.3 573.8h0M124.1 575.8h0M126.0 572.7h0M126.5 574.6h0M128.1 576.3h0M130.3 572.3h0M130.0 574.4h0M131.6 574.0h0M132.3 576.2h0M134.0 572.6h0M134.1 574.6h0M136.5 574.0h0M136.4 576.2h0M138.0 572.6h0M138.1 575.1h0M140.2 573.5h0M139.9 576.1h0M141.8 572.3h0M142.2 575.3h0M144.5 573.7h0M144.3 576.0h0M146.2 573.0h0M145.9 574.7h0M148.2 573.0h0M148.3 575.4h0M150.3 570.8h0M150.6 572.9h0M149.5 575.3h0M150.4 577.5h0M152.3 571.1h0M151.5 573.1h0M152.2 575.9h0M152.1 578.1h0M154.0 571.5h0M154.3 573.2h0M154.5 575.6h0M154.5 578.2h0M156.0 569.6h0M156.3 571.8h0M156.5 574.1h0M156.2 576.5h0M156.2 578.5h0M155.9 581.2h0M158.2 568.4h0M158.5 570.1h0M158.0 573.3h0M158.2 575.3h0M158.3 577.5h0M158.2 579.7h0M160.1 569.5h0M160.0 572.1h0M160.1 573.9h0M160.5 576.6h0M160.2 578.6h0M162.3 569.1h0M161.8 571.6h0M162.0 573.2h0M162.3 578.1h0M162.0 580.1h0M163.6 572.7h0M164.1 577.2h0M164.2 579.2h0M166.3 570.0h0M166.3 572.1h0M166.5 574.0h0M166.1 576.5h0M166.5 578.7h0M168.1 572.5h0M168.5 574.9h0M168.0 577.1h0M169.7 572.8h0M170.2 574.8h0M172.2 573.5h0M171.7 576.2h0M174.0 573.0h0M174.1 574.7h0M176.0 574.4h0M176.5 575.8h0M178.4 573.0h0M180.3 573.7h0M180.2 576.1h0M182.7 572.6h0M182.6 575.1h0M183.9 573.9h0M184.7 576.3h0M186.2 573.3h0M186.2 575.2h0M188.6 574.0h0M188.3 576.4h0M190.2 572.7h0M190.4 575.1h0M191.9 573.7h0M192.6 576.1h0M194.2 573.2h0M194.0 574.7h0M196.8 574.2h0M196.3 576.3h0M198.3 573.3h0M198.2 575.5h0M200.3 574.1h0M200.1 576.2h0M202.3 572.9h0M202.3 574.7h0M204.4 573.5h0M204.4 575.6h0M206.9 573.9h0M205.6 575.8h0M206.4 578.1h0M208.2 572.1h0M208.4 573.6h0M208.6 576.3h0M208.5 578.1h0M210.7 569.7h0M210.0 572.3h0M210.4 574.0h0M210.5 576.2h0M212.5 570.3h0M212.7 572.4h0M212.5 574.8h0M212.3 576.7h0M213.0 579.3h0M214.1 570.8h0M213.9 573.1h0M214.4 576.0h0M214.4 577.7h0M214.4 579.9h0M216.6 569.9h0M216.0 571.7h0M216.3 573.9h0M216.3 578.5h0M216.1 580.7h0M218.1 568.1h0M218.5 570.3h0M218.4 572.3h0M218.8 575.0h0M218.3 576.9h0M218.7 579.2h0M218.8 581.8h0M220.4 568.5h0M220.3 570.9h0M220.2 572.8h0M220.7 575.1h0M220.1 577.3h0M220.7 579.7h0M219.9 582.1h0M222.2 566.7h0M222.9 569.7h0M222.8 571.2h0M222.2 573.8h0M222.7 576.1h0M222.2 578.2h0M222.1 580.6h0M222.5 582.5h0M224.1 568.0h0M224.7 570.0h0M224.6 571.8h0M224.9 574.5h0M224.8 576.2h0M224.6 579.0h0M224.5 581.2h0M226.4 566.5h0M226.6 568.7h0M226.3 570.7h0M226.7 573.1h0M226.6 575.4h0M226.4 577.6h0M226.6 580.0h0M228.8 567.7h0M228.5 569.6h0M228.5 571.7h0M228.6 574.1h0M228.4 576.2h0M228.4 578.3h0M228.4 582.8h0M230.9 567.8h0M230.7 570.6h0M230.6 572.4h0M230.2 574.8h0M229.9 576.7h0M230.5 579.4h0M230.4 581.6h0M232.6 566.6h0M232.6 569.2h0M232.5 570.6h0M232.0 573.0h0M232.6 575.6h0M232.5 577.9h0M232.4 580.0h0M232.5 582.5h0M234.7 564.6h0M234.6 567.5h0M234.4 569.9h0M234.1 572.0h0M234.9 578.6h0M234.5 581.1h0M234.3 583.5h0M236.2 566.9h0M236.6 569.1h0M236.8 571.2h0M236.6 573.7h0M236.1 575.7h0M236.5 578.3h0M236.9 579.9h0M236.2 582.4h0M238.0 566.0h0M238.8 568.1h0M238.6 570.1h0M238.5 572.5h0M238.5 575.1h0M238.4 577.2h0M238.4 579.4h0M238.5 581.8h0M240.6 567.3h0M240.5 570.3h0M240.7 571.9h0M240.3 574.0h0M240.8 576.2h0M240.5 579.1h0M240.4 581.1h0M242.9 567.9h0M242.4 569.5h0M242.6 572.0h0M243.1 574.4h0M242.6 576.9h0M242.6 578.5h0M242.9 581.1h0M244.5 572.0h0M244.9 574.7h0M244.6 576.6h0" stroke="#CC5A96" stroke-width="2.0" stroke-linecap="round" fill="none"/>
<path d="M227.8 590.2h0M228.0 592.3h0M229.9 589.0h0M229.8 590.9h0M229.6 593.5h0M229.7 595.3h0M231.7 586.3h0M231.8 588.6h0M231.7 590.8h0M232.1 593.2h0M231.9 595.1h0M233.7 586.6h0M233.6 589.0h0M233.7 591.4h0M234.0 593.3h0M234.1 595.6h0M233.9 597.7h0M235.6 585.3h0M235.8 586.7h0M236.0 589.6h0M235.6 591.8h0M235.8 593.6h0M235.9 595.7h0M235.8 598.6h0M237.7 585.4h0M237.9 587.7h0M237.5 589.9h0M237.8 592.4h0M238.2 594.7h0M237.6 596.9h0M238.3 599.0h0M240.0 584.0h0M239.8 585.8h0M240.2 590.6h0M239.5 592.5h0M239.5 594.8h0M239.7 597.2h0M239.8 599.8h0M241.5 585.2h0M241.1 587.5h0M241.5 589.4h0M241.4 591.7h0M241.7 594.0h0M241.6 595.7h0M241.9 598.4h0M244.2 583.5h0M243.8 586.0h0M244.3 587.7h0M243.8 590.1h0M244.0 591.7h0M244.0 594.8h0M244.2 597.2h0M243.5 599.3h0M207.0 590.1h0M217.0 590.1h0M217.2 590.5h0M208.3 593.1h0M208.9 590.0h0M212.8 590.4h0M216.5 591.6h0M217.5 591.4h0M215.1 591.0h0M223.4 591.5h0M211.8 591.0h0M211.5 592.0h0M214.7 592.6h0M219.1 591.6h0M113.2 591.9h0M154.0 591.6h0M156.5 592.3h0M158.7 591.5h0M165.9 592.9h0M179.1 591.8h0M183.8 592.8h0M186.9 592.0h0" stroke="#3C9A50" stroke-width="2.0" stroke-linecap="round" fill="none"/>
<rect x="353" y="444.7" width="234" height="162.7" fill="none" stroke="#A0A0A0" stroke-width="0.9"/>
<line x1="380.40" y1="607.40" x2="380.40" y2="610.00" stroke="#555" stroke-width="0.8"/>
<text x="378.2" y="623" font-size="12.5" text-anchor="middle" font-weight="normal" fill="#111">-40</text>
<line x1="420.30" y1="607.40" x2="420.30" y2="610.00" stroke="#555" stroke-width="0.8"/>
<text x="418.09999999999997" y="623" font-size="12.5" text-anchor="middle" font-weight="normal" fill="#111">-20</text>
<line x1="460.20" y1="607.40" x2="460.20" y2="610.00" stroke="#555" stroke-width="0.8"/>
<text x="460.2" y="623" font-size="12.5" text-anchor="middle" font-weight="normal" fill="#111">0</text>
<line x1="500.10" y1="607.40" x2="500.10" y2="610.00" stroke="#555" stroke-width="0.8"/>
<text x="500.1" y="623" font-size="12.5" text-anchor="middle" font-weight="normal" fill="#111">20</text>
<line x1="540.00" y1="607.40" x2="540.00" y2="610.00" stroke="#555" stroke-width="0.8"/>
<text x="540.0" y="623" font-size="12.5" text-anchor="middle" font-weight="normal" fill="#111">40</text>
<line x1="579.90" y1="607.40" x2="579.90" y2="610.00" stroke="#555" stroke-width="0.8"/>
<text x="579.9" y="623" font-size="12.5" text-anchor="middle" font-weight="normal" fill="#111">60</text>
<line x1="350.40" y1="479.70" x2="353.00" y2="479.70" stroke="#555" stroke-width="0.8"/>
<text x="348.5" y="484.09999999999997" font-size="12.5" text-anchor="end" font-weight="normal" fill="#111">20</text>
<line x1="350.40" y1="519.00" x2="353.00" y2="519.00" stroke="#555" stroke-width="0.8"/>
<text x="348.5" y="523.4" font-size="12.5" text-anchor="end" font-weight="normal" fill="#111">0</text>
<line x1="350.40" y1="558.30" x2="353.00" y2="558.30" stroke="#555" stroke-width="0.8"/>
<text x="348.5" y="562.6999999999999" font-size="12.5" text-anchor="end" font-weight="normal" fill="#111">-20</text>
<line x1="350.40" y1="597.60" x2="353.00" y2="597.60" stroke="#555" stroke-width="0.8"/>
<text x="348.5" y="602.0" font-size="12.5" text-anchor="end" font-weight="normal" fill="#111">-40</text>
<text x="469.6" y="638" font-size="12.5" text-anchor="middle" font-weight="normal" fill="#111">tSNE_1</text>
<text x="320.3" y="521.5" font-size="12.5" text-anchor="middle" font-weight="normal" fill="#111" transform="rotate(-90 320.3 521.5)">tSNE_2</text>
<path d="M408.6 467.8h0M419.4 522.9h0M382.5 462.0h0M394.6 499.8h0M417.0 498.6h0M382.7 487.3h0M420.5 498.1h0M386.0 475.8h0M419.6 482.3h0M391.1 461.6h0M383.5 493.7h0M385.2 470.9h0M404.5 511.7h0M400.9 471.9h0M425.1 473.9h0M393.4 465.6h0M399.8 473.6h0M394.3 509.7h0M397.4 474.0h0M425.5 500.3h0M388.4 464.1h0M384.6 486.0h0M415.4 499.5h0M403.7 465.9h0M404.9 505.9h0M429.0 502.9h0M416.3 471.1h0M404.0 463.1h0M393.7 510.5h0M411.0 461.3h0M412.6 472.9h0M428.1 488.6h0M390.3 487.4h0M411.7 514.0h0M429.6 490.4h0M383.4 473.7h0M388.3 490.2h0M397.0 498.4h0M383.5 478.1h0M408.1 490.8h0M406.5 463.5h0M401.0 485.6h0M401.6 472.7h0M391.4 472.9h0M410.2 485.5h0M407.8 496.6h0M391.1 480.0h0M439.1 488.4h0M395.5 504.3h0M405.3 510.5h0M418.9 462.3h0M390.7 477.3h0M389.8 472.2h0M426.0 503.9h0M385.2 494.0h0M414.2 473.6h0M410.8 457.3h0M408.0 480.0h0M392.0 491.6h0M419.9 514.1h0M413.5 507.7h0M396.2 463.8h0M403.0 492.3h0M413.1 461.3h0M417.8 509.7h0M383.5 502.2h0M404.8 468.4h0M390.9 494.3h0M421.3 476.3h0M400.9 495.9h0M396.0 520.6h0M432.7 486.9h0M402.2 472.7h0M430.6 503.6h0M387.8 502.2h0M384.7 496.8h0M409.8 510.9h0M394.4 470.0h0M419.6 475.1h0M385.7 465.0h0M402.5 453.8h0M392.0 467.9h0M396.7 492.3h0M406.2 471.3h0M412.8 488.8h0M389.5 506.3h0M414.0 478.6h0M399.8 508.7h0M407.2 483.5h0M416.6 495.1h0M408.5 461.5h0M404.5 519.9h0M425.3 466.9h0M399.3 482.9h0M397.3 462.6h0M396.1 484.4h0M415.0 456.8h0M398.3 491.3h0M390.8 482.3h0M431.5 480.2h0M431.1 482.6h0M385.6 491.8h0M391.0 465.1h0M406.7 483.6h0M432.6 491.0h0M401.1 493.7h0M404.5 476.9h0M386.9 467.6h0M397.4 509.2h0M428.7 509.0h0M430.5 492.5h0M432.7 498.2h0M433.2 489.5h0M385.5 486.5h0M425.0 508.1h0M403.0 500.6h0M427.7 487.9h0M418.3 498.8h0M416.4 525.3h0M390.6 478.4h0M385.4 465.0h0M381.3 498.4h0M383.5 471.5h0M428.2 487.5h0M403.1 481.7h0M409.6 511.3h0M400.4 517.9h0M394.3 518.7h0M406.2 468.4h0M409.6 519.3h0M436.2 489.9h0M399.5 463.2h0M404.7 459.8h0M386.1 499.4h0M439.6 490.2h0M425.8 515.5h0M387.0 497.2h0M410.3 499.0h0M411.9 464.2h0M393.1 489.7h0M423.5 464.0h0M395.5 475.3h0M422.5 523.6h0M415.5 463.7h0M404.0 452.5h0M423.4 500.8h0M423.1 517.5h0M418.7 513.4h0M403.7 467.2h0M402.5 476.6h0M428.0 468.7h0M382.4 494.1h0M401.0 457.5h0M429.7 498.0h0M392.2 500.9h0M407.1 508.8h0M413.8 530.9h0M382.2 496.2h0M413.2 468.7h0M406.4 465.0h0M393.6 464.9h0M420.6 475.3h0M427.7 479.3h0M390.1 503.9h0M423.5 514.6h0M406.8 520.4h0M411.4 504.5h0M435.4 486.3h0M401.8 493.2h0M406.5 487.4h0M393.7 501.9h0M422.2 522.4h0M398.6 501.0h0M417.6 463.6h0M402.4 467.9h0M421.6 473.2h0M424.0 490.1h0M381.3 487.9h0M408.4 505.7h0M388.2 477.1h0M430.2 474.7h0M399.4 509.2h0M389.4 470.5h0M427.5 508.4h0M421.2 503.9h0M432.4 485.3h0M387.5 489.0h0M395.5 484.2h0M385.9 498.5h0M400.9 512.2h0M429.0 500.3h0M390.1 463.8h0M421.5 500.2h0M393.7 494.5h0M404.7 453.7h0M396.6 497.7h0M393.1 509.6h0M388.5 488.5h0M412.1 485.1h0M399.1 451.6h0M437.9 484.6h0M403.8 463.5h0M407.4 467.1h0M390.7 495.2h0M419.3 518.6h0M421.8 495.1h0M406.4 472.6h0M418.8 503.9h0M397.2 493.1h0M431.9 481.6h0M423.2 463.3h0M427.1 497.9h0M387.3 461.1h0M414.4 464.8h0M402.8 514.8h0M411.3 507.4h0M417.6 462.8h0M391.2 498.2h0M426.6 510.9h0M416.6 481.2h0M395.4 518.5h0M405.5 504.1h0M414.7 517.7h0M407.7 507.8h0M425.6 509.2h0M405.1 526.9h0M427.9 490.0h0M403.0 482.4h0M409.5 512.8h0M424.9 499.6h0M406.7 515.7h0M378.9 493.0h0M427.9 500.2h0M383.3 462.4h0M384.5 484.0h0M424.3 503.9h0M399.7 468.1h0M402.4 526.2h0M390.7 492.7h0M411.6 475.1h0M423.4 506.8h0M410.5 492.9h0M398.7 523.9h0M416.8 475.5h0M404.7 519.5h0M395.5 506.8h0M409.4 480.0h0M410.7 455.1h0M425.1 476.5h0M415.7 471.9h0M418.7 483.8h0M417.4 483.9h0M394.4 485.4h0M398.5 466.8h0M415.7 459.1h0M397.1 521.7h0M426.4 479.2h0M406.8 488.2h0M426.4 467.5h0M418.9 519.7h0M394.6 495.4h0M388.6 499.6h0M398.6 483.1h0M422.3 473.0h0M419.3 500.4h0M387.6 491.1h0M426.5 486.0h0M424.4 473.9h0M397.4 481.3h0M401.1 474.5h0M420.6 496.4h0M420.4 502.9h0M415.8 500.3h0M398.7 474.4h0M392.2 455.4h0M409.1 472.0h0M382.7 468.4h0M398.3 463.6h0M417.1 514.6h0M415.8 515.0h0M393.5 477.9h0M398.2 483.3h0M405.4 503.5h0M398.4 493.0h0M427.2 506.3h0M392.3 502.6h0M402.9 501.9h0M407.6 527.4h0M406.6 474.2h0M415.4 479.1h0M417.9 491.7h0M404.3 498.2h0M411.0 492.3h0M387.5 501.0h0M426.5 468.2h0M433.5 477.5h0M415.7 517.2h0M425.1 491.3h0M390.8 501.6h0M402.7 523.5h0M423.3 487.2h0M429.2 505.9h0M409.2 484.1h0M415.4 500.8h0M382.8 492.9h0M397.8 465.3h0M383.0 481.5h0M417.1 499.7h0M419.7 491.7h0M389.2 507.5h0M408.3 508.7h0M397.6 502.8h0M405.3 494.6h0M399.6 502.0h0M417.7 528.7h0M403.6 495.1h0M389.4 481.5h0M411.6 457.4h0M425.4 507.1h0M404.7 518.1h0M423.4 485.5h0M426.1 507.3h0M403.4 518.0h0M396.7 478.4h0M411.2 506.3h0M407.2 459.7h0M392.5 484.0h0M405.8 519.2h0M402.1 460.4h0M431.2 501.9h0M412.5 526.9h0M392.6 504.4h0M388.7 486.7h0M403.2 464.1h0M402.2 468.3h0M387.5 489.8h0M390.1 487.9h0M415.1 470.5h0M407.7 511.9h0M398.9 492.8h0M414.0 489.0h0M399.1 454.5h0M428.0 468.2h0M400.2 474.8h0M422.1 524.7h0M405.5 482.6h0M413.4 488.3h0M428.5 504.6h0M428.5 479.4h0M406.6 520.0h0M386.2 497.5h0M402.2 517.7h0M421.0 470.2h0M397.3 514.8h0M402.3 490.4h0M423.2 467.7h0M394.9 456.4h0M403.2 490.3h0M397.2 504.1h0M420.4 507.0h0M409.0 515.9h0M410.8 482.2h0M409.0 509.1h0M419.3 490.7h0M413.9 475.9h0M417.7 460.8h0M420.0 513.6h0M416.8 514.1h0M384.8 461.2h0M391.5 461.1h0M416.9 504.4h0M405.4 519.1h0M399.6 518.8h0M402.2 451.9h0M391.0 496.9h0M429.2 495.3h0M401.5 490.0h0M394.7 458.3h0M393.6 456.7h0M417.5 502.4h0M397.8 473.3h0M416.3 519.0h0M406.2 472.6h0M417.3 524.3h0M412.4 521.8h0M425.2 519.5h0M402.9 467.8h0M405.1 511.1h0M388.0 462.3h0M391.9 501.1h0M398.5 472.4h0M423.9 503.1h0M403.2 480.5h0M416.8 500.8h0M396.5 497.2h0M406.2 461.2h0M410.1 488.1h0M429.5 480.0h0M402.8 481.1h0M389.6 486.1h0M425.7 501.1h0M394.5 492.7h0M392.9 456.3h0M401.2 453.4h0M381.8 480.5h0M405.3 518.1h0M405.6 457.1h0M410.8 471.0h0M399.1 471.2h0M426.9 481.1h0M402.5 513.3h0M403.8 511.0h0M432.7 498.6h0M414.7 478.2h0M380.8 481.6h0M408.0 469.4h0M382.3 484.6h0M389.4 474.8h0M428.5 508.7h0M425.6 477.2h0M411.8 530.1h0M387.4 492.9h0M408.4 503.0h0M429.5 509.6h0M425.4 487.0h0M404.8 516.7h0M427.4 479.5h0M403.5 526.1h0M401.3 509.3h0M398.8 477.2h0M419.2 519.7h0M393.8 485.5h0M425.4 512.2h0M391.5 475.8h0M432.3 503.3h0M417.9 509.6h0M391.1 489.6h0M392.1 500.5h0M394.0 512.1h0M407.8 514.8h0M417.8 497.5h0M396.7 480.0h0M423.7 478.9h0M425.9 467.3h0M399.4 489.8h0M404.0 481.8h0M426.0 504.8h0M425.2 474.9h0M418.8 492.8h0M408.0 500.2h0M392.5 484.3h0M391.1 459.8h0M413.0 459.6h0M413.4 495.1h0M413.5 492.7h0M401.6 451.9h0M385.4 464.4h0M401.3 512.9h0M427.4 482.1h0M393.4 459.5h0M408.7 494.0h0M393.4 492.2h0M407.0 478.7h0M426.9 474.6h0M424.0 466.8h0M385.6 486.1h0M402.5 481.3h0M395.2 463.5h0M386.4 467.1h0M437.5 495.9h0M416.0 493.4h0M390.4 496.9h0M430.5 492.0h0M408.5 479.3h0M394.3 497.1h0M415.9 464.8h0M401.1 462.2h0M406.2 511.1h0M413.2 504.6h0M427.7 502.3h0M394.9 490.6h0M381.1 492.5h0M411.7 487.5h0M425.7 477.8h0M415.6 514.4h0M393.7 519.2h0M396.7 497.4h0M427.5 510.6h0M402.9 454.4h0M439.2 487.5h0M388.9 503.8h0M406.7 502.2h0M414.9 489.3h0M394.4 485.8h0M427.9 478.2h0M427.9 494.0h0M414.6 484.7h0M398.5 499.0h0M388.4 484.4h0M393.1 506.9h0M433.8 505.1h0M417.1 507.4h0M398.2 469.1h0M398.9 522.4h0M424.6 467.0h0M400.1 487.0h0M426.1 474.9h0M408.2 459.5h0M417.7 462.5h0M393.9 476.5h0M424.3 478.4h0M387.6 478.1h0M423.7 467.0h0M414.5 524.6h0M431.8 487.0h0M430.7 501.8h0M400.2 475.9h0M413.5 518.6h0M400.4 520.0h0M421.4 498.4h0" stroke="#A9DDF3" stroke-width="1.85" stroke-linecap="round" fill="none"/>
<path d="M382.0 482.7h0M395.1 461.2h0M380.8 478.7h0M400.0 464.0h0M390.8 476.2h0M417.1 472.7h0M381.4 461.9h0M385.6 485.7h0M399.1 453.4h0M395.5 464.3h0M388.0 455.7h0M386.2 467.0h0M419.5 461.5h0M385.2 484.6h0M400.0 478.1h0M388.9 483.8h0M413.5 465.0h0M401.4 477.6h0M407.1 461.6h0M416.4 469.0h0M384.0 468.4h0M399.0 473.5h0M413.4 467.1h0M392.0 478.6h0M395.1 467.7h0M391.6 490.0h0M405.1 475.6h0M406.3 454.6h0M385.2 476.5h0M392.6 474.1h0M408.7 455.4h0M391.5 476.1h0M385.7 471.8h0M411.6 473.2h0M415.3 460.7h0M391.5 459.3h0M389.0 488.7h0M384.8 467.6h0M380.5 477.9h0M390.7 472.5h0M398.4 464.4h0M400.3 474.9h0M409.0 454.1h0M402.4 480.8h0M416.6 473.3h0M398.8 475.0h0M399.3 482.5h0M413.1 460.5h0M400.0 480.2h0M399.2 461.3h0M397.8 476.0h0M390.1 457.8h0M383.6 480.1h0M387.6 461.3h0M390.1 473.8h0M404.8 459.7h0M404.0 476.4h0M422.5 471.9h0M397.8 474.8h0M400.1 471.3h0M410.3 475.2h0M381.9 471.4h0M417.9 470.4h0M411.8 463.3h0M418.3 458.3h0M418.3 460.9h0M415.1 465.8h0M418.0 472.4h0M396.8 469.0h0M384.5 488.4h0M402.1 476.5h0M390.9 485.6h0M394.9 470.8h0M398.9 454.4h0M408.2 478.2h0M389.3 476.6h0M413.6 461.3h0M400.1 471.0h0M395.4 462.6h0M386.3 491.7h0M410.2 455.8h0M397.0 484.0h0M413.5 463.2h0M389.3 482.5h0M382.7 475.6h0M384.9 468.8h0M398.2 464.4h0M406.8 463.3h0M406.3 478.8h0M413.2 475.6h0M411.6 455.6h0M391.8 455.9h0M413.1 462.8h0M392.2 469.0h0M410.5 472.2h0M406.2 467.8h0M391.0 462.2h0M400.5 464.8h0M403.4 468.9h0M400.4 461.6h0M393.1 470.0h0M389.9 474.3h0M402.1 459.5h0M424.2 469.1h0M393.7 479.0h0M391.6 467.4h0M401.9 470.0h0M388.3 474.7h0M411.0 472.9h0M394.1 461.6h0M392.9 487.7h0M402.3 456.1h0M397.9 476.7h0M419.7 462.7h0M383.7 464.9h0M417.7 458.6h0M388.0 481.5h0M413.9 465.9h0M398.8 456.3h0M403.6 471.6h0M393.3 487.2h0M400.3 454.4h0M385.9 478.8h0M394.4 477.1h0M417.5 468.6h0M399.5 451.8h0M394.1 473.6h0M405.2 460.9h0M390.5 469.9h0M394.2 461.1h0M419.2 467.3h0M400.7 468.6h0M410.0 475.0h0M407.0 468.3h0M386.3 485.4h0M410.9 471.9h0M410.8 472.2h0M410.3 468.6h0M387.3 459.2h0M396.4 468.8h0M383.7 489.9h0M379.6 485.0h0M410.8 456.6h0M379.7 486.3h0M396.7 482.2h0M395.9 461.8h0M382.8 492.3h0M395.3 465.9h0M379.0 490.5h0M397.3 484.3h0M409.5 470.2h0M389.7 455.6h0M412.4 473.6h0M392.1 482.7h0M416.6 470.2h0M414.2 469.4h0M390.9 469.5h0M380.9 487.3h0M394.7 481.6h0M412.7 467.3h0M396.1 466.3h0M417.4 469.3h0M382.8 460.7h0M398.0 483.1h0M415.7 465.9h0M417.3 470.6h0M388.2 458.6h0M402.4 469.9h0M382.3 467.7h0M401.7 479.6h0M384.6 470.3h0M381.5 460.1h0M401.8 471.5h0M382.5 473.1h0M415.8 457.7h0M380.4 480.2h0M389.7 471.1h0M401.4 477.1h0M388.4 466.0h0M410.7 455.1h0M382.8 472.9h0M392.0 469.6h0M418.4 465.1h0M403.3 470.6h0M405.7 467.8h0M413.4 466.9h0M388.8 476.2h0M394.2 470.4h0M389.6 488.6h0M395.6 455.1h0M418.7 466.1h0M398.6 480.8h0M401.1 474.4h0M400.3 468.3h0M382.1 490.9h0M410.5 474.0h0M413.1 476.6h0M378.0 493.7h0M418.8 468.0h0M418.2 475.2h0M392.8 476.7h0M392.2 484.9h0M408.4 465.3h0M391.1 456.5h0M409.4 467.4h0M410.5 461.6h0M387.8 462.3h0M395.0 481.9h0M415.6 466.0h0M400.0 478.8h0M401.6 454.9h0M410.2 475.5h0M417.1 465.7h0M384.2 465.8h0M403.3 479.6h0M387.8 477.0h0M384.2 488.5h0M381.7 482.0h0M398.6 482.3h0M397.5 471.5h0M389.3 459.8h0M394.9 464.3h0M389.7 473.6h0M403.4 453.1h0M412.9 461.1h0M390.4 464.8h0M397.8 464.2h0M401.9 453.9h0M391.4 470.8h0M403.0 454.2h0M382.4 486.8h0M408.0 473.3h0M387.0 485.5h0M413.6 467.4h0M393.1 460.7h0M411.0 480.7h0M395.8 476.5h0M405.2 458.1h0M392.3 484.5h0M405.4 466.0h0M384.1 499.1h0M382.7 495.7h0M391.2 513.2h0M386.6 496.4h0M382.0 493.9h0M384.9 498.4h0M388.1 499.7h0M386.6 507.0h0M383.0 498.5h0M385.1 504.4h0M387.6 500.6h0M386.0 495.6h0M385.9 506.8h0M384.7 495.5h0M389.2 510.1h0M386.5 506.2h0M388.0 507.5h0M390.3 509.4h0M391.5 513.7h0M380.8 496.1h0M382.6 493.3h0M381.8 493.5h0M385.7 501.1h0M389.9 504.2h0M385.5 505.2h0M385.8 499.3h0M386.1 506.3h0M388.8 509.4h0M386.0 498.4h0M385.7 495.6h0M384.5 496.7h0M385.9 494.7h0M388.2 500.5h0M385.6 501.3h0M388.4 503.4h0M388.2 495.9h0M387.8 507.3h0M382.6 499.5h0M390.3 509.0h0M387.1 495.3h0M395.7 514.2h0M392.6 510.0h0M415.1 511.1h0M401.7 498.1h0M410.1 517.3h0M403.8 497.7h0M408.5 510.6h0M408.5 515.3h0M416.4 507.2h0M409.0 511.4h0M405.1 506.6h0M398.9 507.4h0M402.5 508.1h0M415.8 516.8h0M386.7 497.4h0M403.8 497.8h0M417.5 513.7h0M404.1 515.7h0M408.7 509.6h0M420.8 502.8h0M410.9 520.8h0M400.6 502.0h0M401.8 521.4h0M406.8 525.0h0M416.5 506.7h0M392.1 510.8h0M412.6 512.5h0M387.9 499.8h0M407.9 504.1h0M407.4 522.4h0M415.5 517.2h0M416.2 516.4h0M398.4 497.3h0M412.0 514.9h0M403.6 520.4h0M412.8 505.5h0M413.1 506.0h0M416.8 506.6h0M411.9 513.8h0M413.7 505.0h0" stroke="#E0DA76" stroke-width="1.85" stroke-linecap="round" fill="none"/>
<path d="M392.5 513.4h0M435.1 487.4h0M412.7 493.4h0M412.6 460.6h0M398.9 497.5h0M391.8 491.0h0M405.6 492.4h0M424.0 522.2h0M396.5 472.4h0M430.2 478.6h0M432.3 500.0h0M438.4 484.6h0M411.0 462.2h0M416.5 508.9h0M405.2 512.0h0M409.6 523.8h0M385.3 478.2h0M415.1 501.3h0M383.6 477.7h0M386.4 491.9h0M427.9 498.1h0M392.1 507.8h0M410.3 520.9h0M403.3 452.2h0M430.1 480.4h0M388.7 498.4h0M413.9 486.1h0M397.1 452.3h0M412.2 467.4h0M397.6 455.5h0M434.9 489.7h0M410.4 466.6h0M402.6 466.3h0M382.1 497.0h0M419.9 490.4h0M415.6 511.2h0M398.2 520.7h0M431.3 495.7h0M405.1 500.9h0M407.7 489.9h0M431.5 477.7h0M416.6 509.7h0M411.3 531.9h0M429.8 509.1h0M405.2 523.9h0M408.2 512.8h0M433.6 491.2h0M408.0 459.8h0M406.3 495.0h0M403.9 467.8h0M420.5 498.8h0M388.6 462.2h0M399.3 500.6h0M391.7 457.1h0M419.0 486.4h0M386.3 503.0h0M390.4 488.5h0M417.3 515.2h0M420.6 521.4h0M394.0 516.4h0" stroke="#A9DDF3" stroke-width="1.85" stroke-linecap="round" fill="none"/>
<path d="M490.0 547.3h0M502.5 554.3h0M473.8 536.4h0M496.0 560.0h0M505.3 555.1h0M472.0 531.7h0M466.1 529.1h0M460.7 553.3h0M481.9 571.6h0M486.5 562.6h0M472.1 557.6h0M498.7 554.6h0M503.2 553.2h0M467.7 535.4h0M501.3 542.1h0M478.5 536.4h0M484.9 564.2h0M498.1 567.6h0M502.4 568.2h0M498.2 540.4h0M486.1 552.6h0M507.1 544.8h0M498.7 549.6h0M460.8 548.7h0M488.4 544.5h0M473.6 569.5h0M486.1 569.0h0M492.6 565.3h0M483.7 559.9h0M489.7 561.2h0M467.0 554.3h0M491.7 538.8h0M470.0 554.0h0M487.4 573.2h0M465.3 537.5h0M465.7 543.6h0M506.5 562.0h0M495.4 547.9h0M510.5 549.0h0M468.4 566.6h0M489.4 559.3h0M494.8 561.0h0M501.5 553.0h0M481.1 536.4h0M475.6 569.9h0M479.9 533.5h0M472.6 564.0h0M487.6 541.0h0M475.6 546.9h0M472.3 541.8h0M496.8 544.0h0M492.6 533.9h0M500.2 550.7h0M493.7 565.9h0M474.8 532.1h0M483.8 535.5h0M460.3 536.8h0M480.1 542.1h0M473.9 528.0h0M462.4 558.0h0M469.1 544.4h0M498.2 570.1h0M484.4 538.1h0M475.9 550.2h0M495.8 535.1h0M500.6 547.2h0M505.4 556.6h0M485.3 551.0h0M482.8 559.9h0M460.4 548.4h0M496.2 563.9h0M468.0 537.9h0M473.6 533.9h0M503.1 562.6h0M481.8 539.6h0M462.2 545.2h0M479.0 569.5h0M493.5 532.5h0M460.4 548.1h0M505.3 547.4h0M468.3 562.7h0M469.7 543.4h0M477.7 564.1h0M495.9 561.4h0M464.2 533.5h0M488.3 541.6h0M501.5 570.5h0M480.7 557.1h0M497.5 563.5h0M460.7 557.7h0M475.2 531.9h0M483.7 549.3h0M481.5 530.3h0M502.7 565.1h0M500.5 561.6h0M480.2 558.0h0M487.6 538.6h0M479.4 548.9h0M471.2 567.3h0M480.1 540.6h0M496.0 568.4h0M475.1 538.2h0M484.2 562.1h0M462.6 541.1h0M492.9 557.1h0M495.8 558.5h0M472.7 557.7h0M489.2 532.8h0M498.1 556.4h0M489.1 558.5h0M497.9 538.8h0M470.2 540.6h0M501.6 561.4h0M476.9 536.5h0M468.2 550.0h0M483.6 551.4h0M474.2 542.4h0M496.2 564.5h0M490.0 540.3h0M494.5 558.0h0M471.9 544.0h0M486.6 538.2h0M497.4 544.4h0M489.1 560.0h0M465.0 561.9h0M491.0 544.8h0M505.6 555.1h0M491.5 566.6h0M491.9 551.9h0M465.4 547.5h0M497.6 548.9h0M483.8 549.5h0M491.5 553.1h0M474.1 546.6h0M486.0 569.6h0M508.1 543.6h0M502.4 537.9h0M477.6 571.5h0M461.4 558.7h0M473.0 548.6h0M504.6 547.3h0M492.3 554.6h0M486.0 539.2h0M493.7 546.3h0M497.3 554.0h0M489.8 546.4h0M478.1 539.4h0M479.0 547.6h0M461.7 531.6h0M485.7 558.6h0M485.3 562.9h0M505.7 539.4h0M483.7 557.5h0M464.6 565.3h0M484.0 554.3h0M473.0 567.7h0M483.1 538.4h0M479.1 560.0h0M493.2 556.7h0M475.1 558.7h0M503.5 568.0h0M483.6 533.3h0M489.2 540.1h0M465.7 538.6h0M504.5 549.4h0M462.2 542.1h0M471.7 545.8h0M501.2 549.1h0M474.8 549.4h0M501.0 560.9h0M465.2 542.0h0M462.9 560.0h0M496.0 539.4h0M487.8 570.9h0M503.6 567.5h0M491.4 533.3h0M466.4 556.3h0M507.9 548.3h0M505.7 552.7h0M488.6 549.6h0M463.1 555.8h0M477.6 532.4h0M472.0 550.2h0M469.7 529.6h0M464.5 544.8h0M475.4 547.7h0M488.0 540.1h0M464.4 548.3h0M470.4 542.7h0M487.6 554.0h0M464.5 550.8h0M485.2 530.1h0M503.9 540.9h0M482.7 543.3h0M481.9 559.7h0M490.4 540.0h0M481.3 565.6h0M502.9 550.0h0M482.1 542.5h0M488.9 532.4h0M494.7 545.5h0M502.8 539.1h0M468.2 539.5h0M502.2 558.3h0M483.6 564.8h0M502.3 540.7h0M477.8 554.6h0M487.8 549.3h0M507.1 563.4h0M483.5 546.5h0M502.6 539.8h0M470.2 531.0h0M467.5 564.7h0M480.4 547.5h0M483.9 565.6h0M497.3 548.3h0M472.0 567.7h0M504.6 559.5h0M461.2 560.7h0M474.9 544.9h0M493.1 544.6h0M499.9 532.6h0M466.8 550.1h0M476.5 553.4h0M477.3 568.5h0M466.7 564.6h0M494.1 544.1h0M483.6 533.1h0M500.8 541.7h0M485.7 564.8h0M476.3 571.2h0M485.7 567.4h0M463.8 536.9h0M488.8 564.0h0M482.6 528.3h0M481.4 538.7h0M464.9 530.8h0M489.1 538.9h0M465.2 535.4h0M465.4 529.1h0M472.0 539.3h0M459.2 558.0h0M490.6 567.2h0M470.2 535.2h0M488.9 538.7h0M500.6 547.5h0M484.6 549.9h0M486.8 556.3h0M505.0 543.3h0M502.9 562.1h0M478.1 553.0h0M484.6 559.6h0M481.1 556.8h0M485.5 559.3h0M468.5 555.5h0M484.9 553.7h0M468.1 558.2h0M475.4 549.9h0M462.5 547.4h0M486.3 543.4h0M487.9 547.6h0M478.4 535.0h0M497.5 545.6h0M466.1 548.1h0M498.4 550.8h0M494.5 561.5h0M483.7 538.3h0M505.9 551.8h0M489.1 567.8h0M498.2 567.1h0M493.2 536.6h0M495.8 559.4h0M462.7 560.7h0M472.1 564.9h0M473.4 530.0h0M487.1 550.5h0M485.8 538.7h0M486.4 543.1h0M480.0 539.1h0M460.6 549.1h0M476.1 566.9h0M496.6 555.4h0M496.3 571.3h0M503.5 564.9h0M504.1 568.7h0M499.5 555.9h0M494.6 566.6h0M492.3 563.8h0M486.2 553.2h0M486.2 571.9h0M469.3 552.6h0M483.0 528.9h0M499.3 564.0h0M499.2 554.3h0M473.6 544.6h0M477.6 542.1h0M466.2 527.0h0M476.9 529.6h0M490.1 549.9h0M475.1 552.4h0M481.9 557.4h0M486.1 538.3h0M472.0 557.9h0M503.4 553.2h0M487.2 562.7h0M488.8 530.4h0M467.3 549.1h0M466.0 549.2h0M482.4 551.7h0M498.1 539.2h0M490.6 553.3h0M469.3 534.9h0M482.7 556.5h0M459.8 551.8h0M483.5 528.3h0M487.7 538.2h0M485.7 561.6h0M475.2 536.6h0M503.2 541.5h0M494.1 567.6h0M488.9 530.3h0M482.2 539.4h0M492.7 560.2h0M468.4 552.8h0M480.7 550.6h0M466.7 563.4h0M477.2 547.1h0M465.2 533.8h0M495.7 561.6h0M479.9 549.2h0M505.8 542.9h0M472.6 546.9h0M460.3 564.2h0M468.3 544.0h0M492.8 552.9h0M485.9 565.4h0M480.0 550.9h0M491.7 557.0h0M500.4 547.1h0M474.2 567.7h0M468.5 553.3h0M488.8 543.6h0M471.3 569.2h0M489.9 537.8h0M478.8 559.5h0M492.1 572.5h0M494.7 566.1h0M493.6 566.6h0M492.0 559.1h0M501.8 565.6h0M477.5 569.8h0M483.5 556.3h0M466.8 552.8h0M469.9 533.0h0M487.9 530.9h0M464.7 532.6h0M491.0 533.7h0M477.7 567.6h0M494.8 560.9h0M490.9 563.3h0M474.0 560.7h0M481.0 547.6h0M502.4 543.6h0M493.7 572.0h0M469.5 557.4h0M493.6 539.5h0M506.8 547.0h0M476.3 568.7h0M480.9 553.7h0M492.4 553.8h0M492.8 556.4h0M474.9 565.8h0M500.9 565.0h0M472.7 562.1h0M488.5 557.4h0M499.5 534.0h0M470.7 544.7h0M507.5 545.6h0M490.4 561.9h0M495.5 569.0h0" stroke="#DFCDD0" stroke-width="1.85" stroke-linecap="round" fill="none"/>
<path d="M492.8 513.7h0M479.5 482.9h0M480.6 495.6h0M501.4 522.7h0M507.0 523.4h0M470.0 539.7h0M501.0 503.2h0M490.0 528.7h0M465.5 498.0h0M495.9 545.0h0M475.8 534.7h0M490.5 510.2h0M464.7 489.5h0M497.3 534.7h0M498.1 543.9h0M464.5 518.8h0M472.3 491.1h0M473.4 536.6h0M470.3 516.2h0M475.9 530.9h0M491.1 490.8h0M487.9 482.0h0M484.5 509.1h0M482.2 526.5h0M492.0 538.4h0M488.2 525.6h0M483.0 486.3h0M473.8 516.6h0M462.1 482.3h0M494.2 504.8h0M484.0 496.4h0M478.2 533.4h0M481.2 494.5h0M478.9 537.8h0M477.1 536.3h0M488.3 481.6h0M492.8 502.5h0M484.7 499.6h0M487.4 483.4h0M495.9 485.5h0M471.6 493.8h0M487.5 480.5h0M490.0 507.2h0M476.7 479.5h0M489.8 514.9h0M468.8 488.4h0M469.1 484.8h0M487.2 502.9h0M490.6 537.3h0M504.8 526.6h0M466.5 485.8h0M476.6 540.3h0M470.0 512.1h0M474.3 503.9h0M480.2 504.8h0M474.2 531.8h0M485.9 531.8h0M493.3 530.5h0M491.4 527.9h0M495.4 505.2h0M464.6 503.4h0M488.5 483.0h0M470.1 480.9h0M476.8 513.9h0M498.3 531.6h0M499.7 530.0h0M489.1 521.4h0M466.5 503.2h0M504.5 506.2h0M496.8 523.9h0M483.2 526.0h0M498.4 530.4h0M479.0 524.2h0M481.8 497.6h0M500.1 509.2h0M502.1 533.9h0M476.7 520.9h0M472.2 536.7h0M506.9 520.2h0M480.7 529.6h0M478.3 500.3h0M487.2 508.1h0M488.4 497.7h0M470.6 522.6h0M505.5 521.4h0M490.6 505.6h0M493.2 535.5h0M480.3 496.3h0M504.6 500.3h0M463.9 497.0h0M465.4 506.7h0M465.5 492.1h0M485.4 498.3h0M464.5 511.3h0M493.2 499.6h0M474.8 505.6h0M467.7 481.0h0M468.4 488.8h0M486.8 515.4h0M485.1 527.8h0M487.7 524.6h0M494.0 499.2h0M480.6 511.6h0M504.4 515.6h0M471.0 519.6h0M467.3 533.2h0M477.4 499.9h0M475.2 512.8h0M472.8 521.7h0M505.0 503.3h0" stroke="#EE9A72" stroke-width="1.85" stroke-linecap="round" fill="none"/>
<path d="M430.4 522.4h0M448.9 502.1h0M449.4 534.5h0M433.0 534.1h0M452.6 505.8h0M455.5 489.8h0M430.6 523.8h0M445.4 533.4h0M443.5 499.9h0M441.9 535.0h0M445.4 506.9h0M435.7 509.6h0M439.2 535.2h0M450.5 515.6h0M433.5 508.1h0M453.9 486.3h0M453.2 490.4h0M431.4 523.7h0M431.8 519.1h0M448.7 516.2h0M457.6 496.4h0M450.5 500.9h0M439.1 513.6h0M448.7 518.6h0M430.8 520.0h0M436.9 511.5h0M450.2 495.5h0M439.7 533.9h0M446.5 510.6h0M454.5 516.0h0M442.1 509.8h0M450.0 506.8h0M451.1 531.6h0M436.6 511.9h0M438.5 519.6h0M460.8 486.5h0M440.9 519.0h0M438.2 537.1h0M430.6 531.0h0M446.0 519.8h0M436.4 528.2h0M457.0 500.8h0M449.1 530.2h0M445.4 531.5h0M451.4 483.6h0M447.1 512.4h0M438.7 533.4h0M444.2 504.4h0M460.2 494.9h0M439.1 514.3h0M449.6 507.1h0M450.1 502.8h0M442.7 512.5h0M444.2 505.3h0M444.3 505.1h0M440.0 524.1h0M452.1 506.3h0M450.0 529.9h0M454.8 508.7h0M437.4 519.3h0M436.9 527.9h0M460.0 502.1h0M450.0 518.2h0M447.8 531.7h0M455.6 512.0h0M441.6 532.0h0M442.7 534.2h0M453.2 503.2h0M429.6 527.5h0M452.4 518.1h0M450.0 515.8h0M429.1 531.1h0M456.8 486.6h0M436.0 519.0h0M450.8 495.3h0M452.1 524.5h0M457.8 500.6h0M442.9 535.5h0M428.1 522.7h0M453.4 491.8h0M458.3 500.4h0M454.6 516.1h0M448.3 524.4h0M428.9 532.7h0M445.3 525.1h0M458.9 487.3h0M442.3 506.6h0M456.3 485.1h0M451.4 493.8h0M430.3 526.0h0M452.6 517.5h0M455.1 513.0h0M450.0 499.1h0M449.7 496.4h0M453.6 495.6h0M446.5 534.6h0M429.8 519.8h0M444.7 497.8h0M435.3 514.9h0M440.2 503.7h0M441.9 512.2h0M447.0 518.4h0M442.6 500.8h0M445.2 496.3h0M449.7 497.0h0M456.1 515.4h0M441.3 509.3h0M441.8 520.7h0M440.6 512.7h0M444.5 525.0h0M448.0 521.4h0M454.7 493.6h0M450.0 518.3h0M452.6 505.7h0M457.6 496.8h0M427.2 531.8h0M440.8 519.6h0M448.5 524.7h0M454.9 516.3h0M436.8 532.5h0M451.1 497.5h0M455.1 526.5h0M446.9 533.1h0M442.3 522.7h0M453.2 518.1h0M448.1 516.8h0M439.8 513.3h0M431.4 523.6h0M439.8 533.6h0M444.7 512.0h0M430.1 531.2h0M455.2 515.9h0M436.8 514.9h0M456.1 483.8h0M451.6 494.3h0M442.9 524.5h0M449.6 505.3h0M438.0 534.4h0M440.0 536.3h0M430.5 530.8h0M451.2 532.2h0M446.3 510.3h0M432.1 532.9h0M451.3 521.9h0M445.7 511.2h0M453.1 492.0h0M437.9 519.3h0M457.6 485.2h0M452.1 522.2h0M436.5 532.2h0M452.3 511.6h0M458.2 501.9h0M442.3 522.0h0M435.4 514.2h0M438.5 527.0h0M454.8 485.1h0M451.6 494.0h0M440.0 507.1h0M455.0 524.0h0M437.3 512.8h0M460.8 499.8h0M440.4 512.2h0M445.3 518.5h0M448.0 532.7h0M432.2 528.7h0M439.2 534.4h0M447.2 516.9h0M455.4 511.4h0M443.6 505.1h0M446.4 508.1h0M451.1 504.6h0M452.0 488.3h0M454.3 507.7h0M453.5 521.5h0M449.6 520.3h0M453.0 507.1h0M434.8 526.7h0M455.7 515.4h0M445.3 511.8h0M438.2 510.4h0M451.6 509.3h0M453.4 519.6h0M446.8 497.3h0M434.8 507.6h0M456.6 510.3h0M428.9 529.3h0M442.2 521.2h0M451.5 525.7h0M458.5 501.3h0M430.6 527.5h0M451.2 503.6h0M453.9 501.7h0M433.9 513.6h0M444.9 523.6h0M455.7 515.5h0M435.6 527.3h0M458.9 496.0h0M437.4 521.7h0M428.5 532.1h0M435.8 534.5h0M439.0 533.7h0M443.0 505.5h0M438.7 528.3h0M438.9 510.3h0M447.4 511.1h0M441.6 501.1h0M427.0 530.9h0M453.4 525.5h0M447.9 524.7h0M444.8 510.9h0M438.7 520.6h0M452.8 505.1h0M440.1 512.7h0M451.6 532.0h0M505.2 499.7h0M489.7 473.3h0M488.6 488.7h0M501.6 513.0h0M479.4 477.9h0M478.0 503.1h0M490.8 520.5h0M486.6 510.0h0M508.0 517.4h0M482.1 496.8h0M490.0 494.2h0M485.0 477.1h0M475.0 503.5h0M481.3 493.5h0M474.8 476.6h0M499.3 506.4h0M480.2 492.1h0M502.7 506.4h0M498.3 511.9h0M495.8 513.8h0M467.7 487.5h0M499.7 492.5h0M502.2 514.4h0M477.0 509.4h0M483.7 477.0h0M500.1 490.4h0M507.5 502.0h0M504.7 519.8h0M476.7 505.6h0M481.1 474.2h0M463.7 480.2h0M479.0 488.2h0M479.2 487.4h0M480.5 508.5h0M500.6 518.7h0M488.9 475.1h0M484.5 518.0h0M471.3 504.8h0M466.9 475.9h0M476.5 507.9h0M476.5 506.9h0M474.1 489.2h0M475.7 473.7h0M472.3 475.8h0M483.7 476.0h0M465.4 496.4h0M476.3 509.4h0M485.0 493.0h0M506.6 516.3h0M483.6 493.0h0M505.0 520.4h0M471.4 477.2h0M477.8 494.6h0M476.7 481.1h0M472.6 501.2h0M474.2 478.6h0M494.2 481.9h0M494.0 486.1h0M473.6 500.5h0M479.2 508.8h0M500.5 499.7h0M494.7 493.7h0M468.8 488.2h0M480.4 518.1h0M464.8 485.9h0M468.8 486.7h0M496.6 511.2h0M473.4 481.3h0M486.5 494.4h0M480.5 508.6h0M489.9 509.0h0M497.9 485.2h0M481.9 497.8h0M497.5 513.1h0M497.4 515.4h0M490.6 499.2h0M479.3 474.5h0M463.5 491.0h0M488.1 479.2h0M476.3 488.3h0M479.9 476.4h0M471.9 514.0h0M470.9 502.6h0M473.9 479.7h0M476.7 507.4h0M499.0 513.8h0M488.3 507.3h0M485.2 473.0h0M494.0 495.5h0M500.7 515.5h0M482.0 508.4h0M470.0 482.0h0M480.6 475.4h0M470.6 479.0h0M491.3 517.3h0M486.7 494.4h0M469.5 477.9h0M479.7 498.8h0M491.5 492.9h0M482.9 504.9h0M463.6 486.0h0M481.4 497.4h0M474.4 481.2h0M502.8 519.8h0M488.8 489.8h0M465.4 486.3h0M471.7 479.4h0M474.9 503.8h0M482.6 496.6h0M492.6 519.9h0M490.8 486.2h0M472.4 499.2h0M490.5 486.8h0M486.0 471.4h0M497.1 503.4h0M461.4 494.7h0M480.0 508.9h0M483.4 484.7h0M474.2 514.7h0M473.9 486.2h0M464.8 497.8h0M486.4 513.3h0M497.8 514.7h0M479.0 491.7h0M467.2 498.8h0M496.8 484.2h0M488.8 497.1h0M498.9 511.9h0M476.3 500.8h0M494.1 516.0h0M482.5 516.4h0M503.0 503.1h0M497.4 491.7h0M491.8 482.9h0M475.7 514.7h0M489.4 511.3h0M468.6 502.5h0M466.2 485.1h0M496.4 515.7h0M490.2 498.0h0M490.9 481.8h0M473.5 473.0h0M486.5 481.5h0M474.5 516.0h0M504.0 513.9h0M491.1 495.6h0M492.7 517.5h0M474.7 508.8h0M485.1 503.4h0M483.7 483.2h0M480.6 490.8h0M505.5 515.1h0M493.4 481.0h0M481.2 482.4h0M501.9 492.6h0M466.9 495.7h0M478.4 500.2h0M495.8 481.1h0M492.4 516.1h0M498.9 489.4h0M477.2 475.4h0M473.5 514.7h0M463.3 498.8h0M489.0 489.3h0M499.3 498.8h0M490.4 500.7h0M486.7 509.7h0M482.2 509.1h0M467.7 512.0h0M494.0 518.8h0M496.2 493.0h0M482.9 494.1h0M498.9 503.9h0M475.2 499.8h0M508.6 516.9h0M494.2 512.4h0M480.2 491.3h0M473.0 474.0h0M487.2 512.9h0M495.7 500.9h0M488.1 497.0h0M475.3 513.2h0M496.8 494.9h0M504.5 500.4h0M503.4 506.5h0M489.6 498.4h0M481.7 475.4h0M468.5 476.0h0M488.5 500.8h0M477.2 496.6h0M488.1 474.3h0M495.9 494.8h0M485.4 514.6h0M502.1 501.9h0M485.1 492.7h0M498.2 512.3h0M466.7 487.9h0M471.2 482.0h0M489.8 490.1h0M469.5 489.3h0M470.4 503.5h0M473.0 501.8h0M493.6 505.2h0M493.8 485.2h0M471.7 490.5h0M482.9 493.0h0M499.8 496.4h0M503.4 506.8h0M477.0 504.1h0M470.0 492.4h0M502.0 502.0h0M497.6 514.0h0M501.0 495.5h0M497.5 502.4h0M489.0 499.7h0M493.8 515.0h0M481.0 509.1h0M463.8 499.3h0M495.3 517.6h0M494.0 505.3h0M475.2 512.7h0M474.5 515.5h0M477.4 476.6h0M489.2 477.3h0M495.5 481.6h0M496.9 514.1h0M498.1 506.1h0M496.0 514.8h0M486.9 500.9h0M500.6 516.6h0M467.7 484.8h0M485.7 478.6h0M493.3 484.3h0M497.2 513.1h0M499.0 497.9h0M489.1 477.0h0M483.2 485.0h0M487.6 476.1h0M500.9 513.6h0M487.7 493.9h0M505.2 509.3h0M474.6 475.6h0M491.6 488.5h0M473.2 513.5h0M464.2 480.6h0M474.6 504.8h0M476.6 471.6h0M498.4 492.8h0M490.2 496.5h0M476.8 501.0h0M481.3 494.9h0M494.5 501.6h0M478.5 506.5h0M488.6 499.9h0M490.7 484.1h0M494.0 513.3h0M479.2 490.6h0M474.0 508.2h0M500.4 493.9h0M485.4 478.6h0M481.0 496.4h0M489.2 484.2h0M474.2 478.7h0M478.0 505.3h0M479.2 485.0h0M505.9 503.4h0M471.0 500.0h0M490.3 476.5h0M471.9 502.7h0M490.6 507.1h0M479.1 487.4h0M502.5 504.9h0M504.8 516.1h0M477.5 497.1h0M471.1 499.8h0M508.1 515.9h0M499.7 506.2h0M499.3 515.1h0M468.9 490.6h0M493.1 514.5h0M501.4 506.7h0M464.6 499.9h0M498.9 513.5h0M490.1 489.2h0M471.0 504.4h0M507.0 509.5h0M472.8 478.9h0M469.2 502.0h0M503.5 505.4h0M470.6 479.1h0M484.1 478.4h0M486.5 476.9h0M477.9 499.1h0M477.6 479.8h0M483.4 472.6h0M496.0 479.5h0M490.6 483.9h0M475.3 506.3h0M485.2 478.9h0M483.5 485.9h0M469.7 492.7h0M495.7 514.4h0M486.3 495.1h0M492.4 484.7h0M481.0 508.0h0M480.5 498.4h0M470.1 503.7h0M477.3 488.6h0M482.5 472.1h0M473.1 500.2h0M489.6 499.8h0M478.3 497.0h0M496.5 506.3h0M477.4 517.2h0M484.0 498.0h0M483.9 473.8h0M479.6 505.5h0M466.9 508.3h0M474.2 481.6h0M486.8 513.2h0M474.4 507.4h0M486.5 515.8h0M493.5 504.3h0M482.9 498.5h0M490.6 500.2h0M487.3 488.5h0M496.6 491.6h0M485.1 476.2h0M475.6 507.5h0M478.3 499.9h0M464.4 485.7h0M501.4 516.2h0M471.0 475.9h0M475.6 488.5h0M492.9 512.1h0M501.0 497.0h0M494.8 516.9h0M482.6 510.1h0M504.8 500.7h0M507.7 499.3h0M501.9 501.8h0M469.0 493.7h0M493.0 494.4h0M490.1 475.9h0M490.5 498.5h0M465.0 497.3h0M506.4 515.3h0M470.6 492.0h0M497.8 503.1h0M480.7 506.0h0M475.1 510.5h0M471.7 486.2h0M474.6 504.6h0M493.6 494.7h0M462.9 481.8h0M483.7 486.6h0M504.0 507.4h0M484.2 486.7h0M489.2 507.5h0M505.7 498.5h0M499.6 515.8h0M477.3 509.0h0M481.8 505.8h0M474.5 513.4h0M494.2 569.4h0M482.5 570.1h0M464.7 531.9h0M469.5 530.8h0M478.0 560.8h0M487.6 557.3h0M475.0 563.5h0M476.8 569.2h0M479.6 564.6h0M462.0 560.3h0M460.6 549.9h0M461.3 546.6h0M498.9 533.8h0M481.8 534.3h0M502.1 542.7h0M469.1 539.9h0M483.5 546.7h0M483.0 545.9h0M477.6 531.2h0M489.0 548.9h0M491.0 530.4h0M485.3 543.7h0M485.4 568.9h0M472.2 562.7h0M473.8 540.7h0M500.7 539.3h0M507.4 544.0h0M484.2 565.7h0M501.4 542.7h0M499.7 566.6h0M502.6 541.4h0M469.9 563.0h0M497.6 550.7h0M493.1 558.8h0M479.5 529.9h0M471.8 534.5h0M486.3 566.7h0M500.0 539.1h0M468.0 546.5h0M489.4 561.2h0M485.3 552.8h0M499.3 568.9h0M495.7 570.5h0M503.7 547.5h0M476.7 531.8h0M475.2 538.2h0M477.6 549.1h0M464.8 543.1h0M479.8 545.5h0M480.7 551.3h0M502.1 547.0h0M478.8 532.7h0M466.2 546.6h0M493.2 535.3h0M473.3 542.1h0M481.8 538.7h0M502.4 569.4h0M483.2 547.5h0M489.7 533.1h0M466.1 547.0h0M469.1 562.5h0M482.2 537.7h0M508.6 556.1h0M480.7 542.5h0M482.8 557.5h0M501.1 545.4h0M499.4 549.4h0M476.4 556.8h0M480.4 530.0h0M471.4 540.7h0M467.0 533.9h0M478.6 529.8h0M508.7 552.7h0M507.1 559.0h0M464.7 550.2h0M489.5 566.9h0M491.5 545.1h0M488.7 551.5h0M498.4 562.8h0M489.5 540.7h0M494.1 536.7h0M490.8 556.5h0M482.3 541.2h0M492.3 569.6h0M490.2 562.0h0M496.4 567.8h0M476.9 553.8h0M470.1 559.9h0M488.6 530.1h0M508.9 558.4h0M443.0 491.4h0M440.6 486.9h0M444.9 482.5h0M449.2 478.1h0M441.8 486.0h0M450.1 482.6h0M446.4 480.5h0M443.6 485.8h0M449.0 474.9h0M449.8 475.8h0M446.3 487.8h0M449.5 482.0h0M447.3 480.9h0M446.1 482.2h0M444.0 490.2h0M445.9 481.9h0M449.3 473.3h0M442.8 483.4h0M447.8 484.5h0M440.4 487.4h0M443.4 482.0h0M444.9 484.1h0M449.0 480.5h0M443.3 482.9h0M445.0 481.2h0M430.3 542.3h0M447.6 543.0h0M436.5 545.3h0M444.6 545.1h0M444.0 545.6h0M442.1 544.4h0M456.7 547.2h0M443.5 545.0h0M434.1 540.3h0M435.1 543.4h0M439.5 546.4h0M460.2 533.4h0M438.4 539.9h0M428.9 544.5h0M461.2 538.2h0M446.2 542.7h0M457.6 546.7h0M438.2 544.4h0M450.6 540.9h0M437.7 536.9h0M461.9 538.2h0M440.4 544.8h0M441.0 539.8h0M449.0 544.0h0M448.9 546.1h0M461.0 535.6h0M448.4 541.5h0M462.9 538.4h0M456.8 547.0h0M457.7 539.1h0M432.0 538.7h0M448.4 543.2h0M432.4 538.7h0M431.9 543.4h0M457.4 537.9h0M446.3 549.9h0M453.6 542.6h0M454.7 538.6h0M431.5 537.6h0M433.5 539.8h0" stroke="#4F3FA0" stroke-width="1.85" stroke-linecap="round" fill="none"/>
<path d="M517.3 498.9h0M520.0 495.9h0M513.3 487.2h0M503.7 489.4h0M512.3 494.6h0M500.8 488.5h0M514.1 490.4h0M511.5 500.1h0M507.0 497.0h0M506.7 484.9h0M511.9 490.4h0M504.8 488.0h0M511.2 498.2h0M518.3 495.1h0M514.2 487.0h0M499.8 485.8h0M518.5 491.7h0M514.6 484.3h0M517.6 501.7h0M514.7 488.9h0M511.2 483.8h0M502.5 496.5h0M517.8 496.5h0M518.9 500.1h0M499.3 485.6h0M517.4 489.6h0M514.8 490.4h0M499.8 487.1h0M510.8 501.3h0M511.9 494.6h0M504.4 485.9h0M503.4 495.4h0M514.3 498.1h0M504.3 483.7h0M510.6 485.7h0M503.0 489.9h0M512.2 497.7h0M503.3 486.5h0M514.3 490.0h0M516.5 488.1h0M516.2 497.4h0M515.1 490.9h0M505.6 493.3h0M502.8 490.2h0M500.1 490.1h0M515.0 497.8h0M501.9 491.6h0M508.7 485.4h0M508.6 487.9h0M502.5 488.3h0M511.6 494.9h0M507.8 491.9h0M511.7 485.6h0M508.0 488.5h0M505.6 486.5h0" stroke="#BC52E4" stroke-width="1.85" stroke-linecap="round" fill="none"/>
<path d="M547.3 513.1h0M542.3 504.4h0M544.3 507.0h0M545.8 499.9h0M543.7 501.5h0M545.1 511.1h0M547.5 510.6h0M541.9 502.7h0M548.1 511.8h0M543.4 503.4h0M545.5 509.2h0M544.6 508.9h0M546.8 508.4h0M546.9 509.1h0M547.7 512.6h0M543.8 510.7h0M545.7 507.9h0M544.0 501.2h0M544.0 500.5h0M548.8 514.3h0M543.3 504.0h0M544.1 503.9h0M545.3 500.9h0M545.0 509.1h0M546.1 513.5h0M544.8 504.8h0M543.6 505.1h0M546.2 512.9h0M547.7 511.6h0M547.4 514.7h0M544.3 503.7h0M542.0 502.8h0M545.9 511.7h0M544.8 509.2h0M544.4 501.7h0M546.2 506.2h0M546.6 505.8h0M547.2 513.0h0M549.2 511.4h0M544.4 508.8h0M544.6 510.3h0M546.4 503.7h0M545.3 508.9h0M544.7 500.2h0M543.5 504.5h0M541.3 510.5h0M544.0 507.1h0M539.2 509.3h0M543.6 507.1h0M540.4 509.1h0M544.2 507.3h0M538.1 509.2h0M537.8 511.2h0M540.8 510.1h0M542.1 506.5h0M539.7 510.1h0M538.9 511.6h0M542.4 506.8h0M537.1 511.6h0M540.7 509.3h0M544.2 508.0h0" stroke="#5AA84C" stroke-width="1.85" stroke-linecap="round" fill="none"/>
<path d="M545.2 536.9h0M526.7 522.4h0M532.1 528.5h0M553.8 530.8h0M540.0 542.8h0M547.5 531.2h0M528.3 541.4h0M538.1 531.1h0M521.6 530.7h0M558.1 530.5h0M560.5 530.6h0M547.3 530.8h0M539.5 525.1h0M535.4 524.0h0M546.2 540.7h0M534.3 527.3h0M523.5 526.3h0M547.4 525.5h0M538.7 521.6h0M530.2 537.9h0M545.2 530.0h0M549.9 551.8h0M524.5 523.7h0M537.7 523.3h0M544.8 546.0h0M537.9 534.6h0M545.5 544.3h0M533.5 531.7h0M530.4 541.2h0M536.0 529.1h0M555.1 528.9h0M543.2 534.1h0M538.4 523.3h0M549.9 532.8h0M547.6 535.7h0M523.0 528.1h0M530.0 538.1h0M542.5 523.8h0M557.6 529.0h0M544.3 535.4h0M552.4 533.6h0M526.3 538.8h0M538.2 525.2h0M544.6 531.1h0M534.7 523.1h0M524.0 529.7h0M553.4 537.0h0M547.8 543.8h0M537.3 526.7h0M555.1 528.8h0M548.0 547.0h0M559.4 528.7h0M556.5 528.8h0M528.6 533.8h0M543.9 530.8h0M537.2 530.7h0M530.9 529.0h0M519.6 537.4h0M545.2 530.2h0M555.1 530.5h0M538.7 538.3h0M527.3 537.4h0M525.4 533.8h0M546.5 541.1h0M539.2 535.4h0M544.1 532.7h0M548.0 536.4h0M549.7 528.1h0M540.6 527.1h0M547.4 535.6h0M548.0 528.7h0M539.9 544.3h0M546.9 535.4h0M523.4 532.9h0M534.7 526.2h0M542.6 524.3h0M544.2 537.3h0M527.0 537.8h0M535.5 531.6h0M541.1 525.4h0M536.2 534.0h0M539.6 529.5h0M528.1 523.9h0M532.0 538.7h0M527.6 537.7h0M547.4 535.1h0M536.8 534.3h0M558.3 529.9h0M543.9 535.2h0M547.8 536.3h0M534.3 525.2h0M523.1 529.4h0M531.2 540.2h0M549.2 543.7h0M540.0 525.5h0M532.2 539.8h0M540.3 538.2h0M544.5 548.7h0M547.4 530.4h0M547.7 545.9h0M560.2 533.5h0M530.2 534.3h0M540.7 545.1h0M536.0 539.2h0M544.9 544.9h0M537.3 522.8h0M546.1 528.5h0M534.1 532.0h0M554.4 533.1h0M549.8 523.0h0M556.4 532.7h0M543.9 533.7h0M525.6 532.1h0M524.2 536.3h0M534.4 525.6h0M548.7 530.3h0M540.1 525.4h0M525.3 539.6h0M538.4 534.2h0M547.7 547.9h0M540.5 531.6h0M544.9 546.1h0M529.8 529.2h0M549.1 533.6h0M527.7 541.4h0M523.1 529.6h0M554.4 532.0h0M529.6 537.3h0M523.5 527.0h0M551.0 530.7h0M545.7 538.3h0M545.5 534.5h0M547.9 541.0h0M544.1 548.3h0M558.6 528.9h0M557.5 530.0h0M551.9 532.9h0M533.7 534.0h0M556.0 534.9h0M545.4 525.7h0M538.4 527.0h0M542.7 523.6h0M535.5 528.1h0M526.3 535.8h0M527.3 534.4h0M527.6 525.1h0M524.2 540.7h0M537.4 527.1h0M540.6 531.3h0M548.4 529.6h0M527.0 534.0h0M543.6 537.0h0M556.1 534.6h0M538.3 530.5h0M526.8 537.0h0M546.2 538.8h0M528.6 537.7h0M530.8 525.9h0M555.3 526.0h0M540.5 526.9h0M556.9 530.1h0M556.3 533.7h0M540.3 537.2h0M538.7 529.1h0M531.3 525.5h0M546.2 527.6h0M535.0 523.4h0M547.3 546.7h0M537.8 539.3h0M551.6 534.6h0M539.7 537.1h0M530.2 537.8h0M554.1 532.8h0M541.0 525.3h0M548.8 534.2h0M524.5 528.0h0M548.4 526.8h0M526.2 534.1h0M535.9 526.4h0M538.9 522.9h0M539.4 533.3h0M541.7 523.4h0M523.7 533.2h0M541.3 537.3h0M533.9 527.3h0M536.0 527.8h0M551.9 548.5h0M527.7 536.2h0M544.1 540.1h0M542.7 538.1h0M556.0 532.9h0M539.3 531.6h0M536.4 533.2h0M533.3 532.1h0M525.8 540.6h0M528.2 542.0h0M533.9 533.2h0M547.3 534.1h0M539.1 522.9h0M529.5 523.4h0M550.8 529.9h0M542.0 533.9h0M540.7 533.0h0M552.8 534.5h0M539.9 537.0h0M529.0 529.6h0M525.1 535.0h0M524.4 527.5h0M545.8 534.0h0M528.0 542.2h0M561.1 530.0h0M541.0 536.2h0M559.3 529.3h0M527.7 542.7h0M546.1 535.5h0M535.6 529.7h0M546.4 544.5h0M558.3 531.1h0M539.4 533.7h0M545.3 546.5h0M539.6 527.8h0M528.6 526.6h0M542.6 525.2h0M530.8 538.1h0M539.4 541.6h0M530.0 523.0h0M549.2 526.8h0M522.8 531.8h0M548.3 541.9h0M529.0 537.0h0M522.9 540.2h0M543.7 534.4h0M522.0 531.6h0M525.3 524.5h0M532.1 525.5h0M544.7 526.2h0M535.7 531.2h0M556.9 527.8h0M546.8 545.2h0M556.4 524.0h0M546.1 542.2h0M529.2 520.1h0M538.7 536.4h0M530.9 528.9h0M550.4 548.5h0M536.3 529.0h0M537.8 533.7h0M529.8 527.0h0M525.4 529.4h0M530.4 537.5h0M533.1 526.9h0M545.0 534.7h0M540.1 528.3h0M547.1 524.5h0M543.0 539.7h0M523.1 524.6h0M559.0 528.6h0M547.5 533.3h0M550.0 532.4h0M524.3 530.8h0M537.5 531.5h0M558.6 531.4h0M559.9 530.6h0M526.5 531.3h0M523.7 533.2h0M546.0 545.7h0M531.9 527.8h0M531.5 539.4h0M558.5 530.6h0M542.3 537.8h0M537.7 522.5h0M527.1 538.2h0M527.8 525.8h0M550.2 551.4h0M551.5 535.2h0M529.1 536.3h0M547.7 534.1h0M534.0 528.0h0M559.0 532.4h0M556.8 535.7h0M534.6 532.7h0M528.8 533.9h0M539.6 532.2h0M563.9 531.5h0M532.2 538.8h0M552.9 535.6h0M540.0 544.8h0M530.5 522.6h0M549.2 534.5h0M538.9 532.0h0M524.1 540.8h0M529.5 523.8h0M535.5 534.7h0M548.6 552.4h0M526.6 531.0h0M547.9 532.0h0M552.2 532.6h0M546.7 541.5h0M530.2 524.5h0M534.7 526.5h0M533.3 532.6h0M529.8 536.4h0M537.0 537.8h0M542.2 524.8h0M546.9 538.6h0M533.0 524.5h0M556.8 527.7h0M520.5 529.1h0M551.8 532.2h0M530.6 533.6h0M549.8 534.5h0M547.4 534.7h0M534.9 532.3h0M542.4 548.7h0M523.7 530.8h0M541.7 524.7h0M542.2 525.7h0M541.6 526.6h0M560.3 532.9h0M540.2 543.4h0M526.5 537.9h0M543.7 546.8h0M545.4 530.3h0M553.3 523.0h0M547.0 535.8h0M527.1 530.1h0M525.0 524.8h0M535.2 526.4h0M557.7 532.7h0M546.3 541.5h0M521.3 536.3h0M539.5 534.4h0M525.7 540.0h0M544.1 549.1h0M555.6 536.4h0M548.9 540.8h0M549.5 528.7h0M522.2 526.1h0M532.7 538.4h0M530.2 522.0h0M548.2 523.2h0M545.7 546.3h0M531.7 521.0h0M529.4 542.6h0M504.3 548.0h0M511.8 556.5h0M518.0 540.2h0M515.3 566.3h0M510.0 554.5h0M508.4 545.0h0M516.8 540.7h0M507.7 541.6h0M507.6 552.6h0M518.5 543.9h0M506.8 551.3h0M507.5 542.1h0M504.0 551.9h0M499.2 544.1h0M507.7 545.0h0M511.6 560.8h0M512.4 543.6h0M511.2 546.4h0M520.9 545.9h0M518.0 539.0h0M515.7 551.2h0M516.6 540.0h0M517.7 537.0h0M513.4 542.8h0M512.5 561.9h0M509.9 549.2h0M509.1 542.9h0M517.0 539.4h0M514.6 550.8h0M513.3 546.6h0M510.8 548.9h0M521.6 534.7h0M511.3 545.7h0M512.4 544.9h0M510.4 536.8h0M527.7 545.4h0M519.6 543.0h0M511.1 550.6h0M503.4 544.7h0M510.7 541.5h0M519.9 548.7h0M512.3 551.2h0M515.6 551.4h0M510.0 557.9h0M513.1 553.1h0M518.9 545.2h0M508.1 545.8h0M510.6 560.0h0M503.7 574.3h0M517.8 555.2h0M510.8 548.7h0M516.2 555.4h0M508.9 555.0h0M507.8 533.3h0M507.5 549.1h0M511.0 547.0h0M512.5 556.8h0M522.5 554.5h0M505.7 544.1h0M508.2 558.2h0M522.0 538.8h0M500.3 542.0h0M513.0 541.8h0M518.2 547.5h0M515.5 552.6h0M507.1 545.0h0M514.8 552.9h0M515.0 553.6h0M514.3 551.4h0M514.1 556.9h0M507.6 550.2h0M509.0 546.8h0M509.3 542.8h0M497.0 565.6h0M501.5 541.3h0M511.0 555.1h0M506.0 542.8h0M509.6 544.7h0M503.4 568.4h0M506.0 565.8h0M508.2 560.9h0M511.1 544.4h0M504.2 561.6h0M512.5 559.9h0M509.6 552.4h0M505.9 544.8h0M510.7 554.3h0M509.6 560.6h0M509.9 564.0h0M502.5 540.3h0M516.1 553.0h0M503.5 570.2h0M503.5 568.2h0M500.6 564.7h0M503.8 555.6h0M504.6 541.8h0M503.4 566.2h0M498.9 567.1h0M500.7 569.3h0M507.5 552.2h0M512.5 548.4h0M508.2 542.6h0M501.5 540.6h0M506.2 567.0h0M511.4 555.0h0M500.8 539.9h0M508.2 555.3h0M499.7 569.7h0M499.8 570.3h0M512.1 557.4h0M505.0 557.0h0M511.5 557.7h0M512.2 559.5h0M515.0 553.4h0M509.7 547.3h0M504.4 567.2h0M510.2 548.9h0M514.9 546.7h0M504.1 573.8h0M507.6 561.5h0M506.8 541.3h0M505.2 557.0h0" stroke="#BA4A78" stroke-width="1.85" stroke-linecap="round" fill="none"/>
<path d="M429.3 585.1h0M436.9 594.8h0M439.3 565.5h0M439.7 591.4h0M428.8 578.5h0M436.7 586.0h0M441.3 575.8h0M428.4 566.8h0M442.8 586.1h0M430.2 589.8h0M435.7 573.0h0M441.8 581.5h0M430.8 567.2h0M426.8 572.6h0M431.0 572.6h0M427.4 569.6h0M438.0 578.6h0M439.9 594.6h0M437.2 601.5h0M432.3 588.7h0M433.0 597.2h0M433.6 587.3h0M440.6 576.9h0M441.0 564.2h0M432.7 592.7h0M430.0 587.8h0M441.1 582.5h0M427.7 564.5h0M431.1 588.0h0M439.0 579.4h0M434.3 589.7h0M428.2 588.7h0M435.1 594.3h0M430.0 588.8h0M441.8 574.7h0M433.4 597.1h0M440.6 568.6h0M430.9 591.1h0M433.5 596.6h0M434.1 563.5h0M442.2 589.2h0M440.1 572.1h0M431.5 561.2h0M427.0 567.2h0M425.6 574.6h0M431.3 595.7h0M438.5 588.3h0M434.6 581.5h0M431.2 575.9h0M424.1 570.3h0M442.2 596.2h0M433.3 566.9h0M427.8 587.2h0M432.1 570.1h0M434.2 596.3h0M439.9 574.7h0M426.7 566.8h0M432.1 584.7h0M430.0 575.7h0M431.6 578.8h0M438.3 596.8h0M432.6 569.3h0M429.5 583.0h0M433.0 568.1h0M427.1 577.1h0M427.3 568.9h0M432.7 597.3h0M434.5 566.0h0M440.1 590.8h0M438.9 570.5h0M431.3 584.9h0M433.2 564.0h0M427.3 573.2h0M431.1 559.3h0M431.2 587.5h0M432.3 596.0h0M431.2 562.7h0M440.1 569.4h0M434.0 571.9h0M435.4 596.1h0M434.4 593.3h0M434.6 566.0h0M434.0 571.3h0M432.7 566.9h0M430.8 590.2h0M428.9 591.0h0M431.1 597.1h0M433.5 593.7h0M440.6 597.9h0M429.7 576.3h0M437.8 582.0h0M437.1 580.7h0M434.4 569.2h0M425.9 581.6h0M438.4 577.7h0M427.6 562.6h0M430.6 587.7h0M435.8 573.6h0M445.4 594.2h0M438.0 572.7h0M443.0 581.8h0M436.5 571.9h0M439.3 591.0h0M435.4 563.3h0M430.8 567.3h0M427.0 579.6h0M437.3 584.2h0M439.2 597.9h0M441.9 588.8h0M443.3 575.3h0M426.6 582.1h0M436.9 583.3h0M436.2 576.0h0M440.6 578.2h0M437.8 569.2h0M435.8 590.0h0M438.3 570.9h0M431.2 580.5h0M435.3 575.9h0M441.3 598.1h0M442.7 570.0h0M430.9 591.9h0M441.1 576.9h0M437.4 587.7h0M436.8 585.3h0M430.1 564.7h0M437.0 581.5h0M438.4 580.7h0M441.6 567.4h0M435.2 588.3h0M437.7 580.1h0M434.1 579.5h0M433.9 596.8h0M431.3 582.5h0M430.7 565.0h0M440.5 572.1h0M426.0 565.4h0M438.9 570.2h0M445.4 569.4h0M442.5 572.5h0M433.4 582.1h0M431.9 591.7h0M443.3 567.4h0M437.8 590.1h0M438.2 589.0h0M441.9 591.3h0M444.8 572.1h0M441.5 567.7h0M428.7 569.3h0M434.1 577.2h0M438.9 565.4h0M443.3 581.8h0M441.1 588.5h0M429.0 579.2h0M437.9 577.5h0M430.4 579.9h0M443.0 568.6h0M445.3 568.7h0M431.5 571.4h0M432.5 583.1h0M444.0 574.7h0M437.3 574.8h0M444.7 581.3h0M434.7 577.7h0M428.9 581.3h0M431.1 566.6h0M427.0 579.5h0M430.4 590.3h0M441.7 583.8h0M436.6 569.0h0M429.4 590.2h0M440.5 577.0h0M442.3 595.9h0M440.5 581.2h0M430.6 566.9h0M434.3 591.2h0M436.9 576.5h0M436.8 596.2h0M426.5 586.9h0M439.3 564.1h0M440.6 588.3h0M433.7 584.6h0M430.0 567.9h0M429.6 578.6h0M440.6 578.2h0M427.9 574.7h0M439.2 569.7h0M438.7 587.1h0M442.3 591.7h0M432.9 583.6h0M445.9 570.9h0M434.1 586.9h0M429.9 579.3h0M428.3 582.3h0M441.6 575.2h0M430.8 594.2h0M439.6 591.4h0M441.9 568.6h0M427.3 574.6h0M438.1 582.7h0M429.3 578.1h0M442.4 572.3h0M439.8 582.9h0M431.1 570.3h0M441.5 573.7h0M443.9 584.8h0M431.0 569.6h0M442.0 587.2h0M445.2 572.8h0M436.8 578.8h0M442.4 582.1h0M432.6 582.5h0M427.2 566.3h0M433.0 572.4h0M432.6 572.2h0M429.5 583.2h0M436.5 581.6h0M427.6 577.2h0M433.2 572.1h0M434.6 597.4h0M436.2 582.4h0M440.1 588.0h0M433.6 565.0h0M436.2 585.1h0M432.7 586.1h0M435.8 597.8h0M428.7 578.9h0M443.2 567.1h0M431.8 587.2h0M443.2 593.7h0M443.0 569.7h0M427.6 564.4h0M439.3 577.3h0M438.3 597.3h0M438.6 575.1h0M441.4 580.5h0M441.6 588.4h0M442.1 566.8h0M442.3 569.1h0M443.8 577.0h0M437.5 577.0h0M437.7 597.2h0M429.8 589.9h0M432.9 574.6h0M444.9 572.3h0M431.8 595.9h0M442.1 574.0h0M431.2 565.8h0M436.7 599.4h0M428.4 582.0h0M439.2 586.9h0M440.9 585.4h0M438.8 572.9h0M440.0 584.9h0M434.1 582.0h0M443.6 586.5h0M442.2 589.5h0M443.6 591.1h0M444.3 570.4h0M443.4 566.8h0M427.7 576.0h0M434.9 597.9h0M436.9 564.4h0M446.8 567.3h0M429.0 583.5h0M436.4 591.9h0M430.1 563.5h0M441.4 579.1h0M444.1 569.8h0M439.2 595.6h0M424.2 579.0h0M427.0 583.2h0M431.8 592.1h0M439.2 592.3h0M440.8 580.9h0M429.8 579.3h0M437.9 562.7h0M432.7 569.5h0M434.6 563.3h0M443.9 576.4h0M433.9 562.3h0M440.5 593.8h0M440.1 572.1h0M428.8 579.0h0M427.4 587.8h0M442.5 587.5h0M428.5 586.0h0M438.1 566.8h0M428.6 585.5h0M432.6 568.0h0M442.1 574.5h0M431.4 587.8h0M443.6 568.3h0M438.9 571.3h0M432.2 589.9h0M434.3 584.4h0M433.9 581.9h0M438.6 581.7h0M429.2 578.5h0M443.6 578.9h0M445.9 559.6h0M435.5 549.4h0M441.6 555.6h0M451.3 559.1h0M436.6 554.7h0M452.0 552.5h0M434.6 556.3h0M428.6 543.5h0M450.1 555.9h0M442.1 555.7h0M433.3 551.8h0M447.6 554.4h0M449.9 556.6h0M439.6 551.3h0M444.1 556.9h0M445.4 553.6h0M453.4 560.5h0M431.8 547.7h0M431.9 548.7h0M441.4 551.1h0M449.8 551.7h0M442.2 557.3h0M432.9 555.4h0M451.0 557.5h0M431.2 545.6h0M441.0 555.5h0M436.1 558.1h0M442.8 549.4h0M451.3 554.6h0M427.9 551.0h0M438.0 547.5h0M448.6 555.6h0M441.7 551.4h0M447.5 558.2h0M447.3 556.6h0M431.7 551.2h0M441.2 556.7h0M431.9 548.2h0M434.0 556.7h0M449.6 553.5h0M426.4 547.3h0M441.7 555.3h0M429.1 543.6h0M444.8 555.5h0M440.3 556.5h0M439.0 552.8h0M442.9 560.9h0M438.8 554.9h0M431.0 544.9h0M434.3 554.3h0M430.4 546.2h0M439.2 553.2h0M436.2 550.6h0M442.1 558.4h0M437.8 555.2h0M442.3 555.2h0M450.6 562.7h0M430.2 545.5h0M444.2 558.1h0M440.4 553.2h0" stroke="#8C2B33" stroke-width="1.85" stroke-linecap="round" fill="none"/>
<circle cx="403.6" cy="476.6" r="3.5" fill="#000"/>
<circle cx="416.2" cy="496.4" r="3.5" fill="#000"/>
<circle cx="468.5" cy="510" r="3.5" fill="#000"/>
<circle cx="478.8" cy="516.8" r="3.5" fill="#000"/>
<circle cx="479.4" cy="520.5" r="3.5" fill="#000"/>
<circle cx="510.7" cy="491.2" r="3.5" fill="#000"/>
<circle cx="527.6" cy="535.8" r="3.5" fill="#000"/>
<circle cx="485.3" cy="543.1" r="3.5" fill="#000"/>
<circle cx="439.1" cy="571.5" r="3.5" fill="#000"/>
<rect x="357.8" y="535.7" width="5.2" height="4.6" fill="#8C2B33" stroke="#444" stroke-width="0.3"/>
<text x="368.6" y="540.3" font-size="6.5" text-anchor="start" font-weight="normal" fill="#222">LEF1+ Tstem</text>
<rect x="357.8" y="543.5" width="5.2" height="4.6" fill="#4F3FA0" stroke="#444" stroke-width="0.3"/>
<text x="368.6" y="548.0999999999999" font-size="6.5" text-anchor="start" font-weight="normal" fill="#222">GZMK+ Tcms</text>
<rect x="357.8" y="551.3000000000001" width="5.2" height="4.6" fill="#BC52E4" stroke="#444" stroke-width="0.3"/>
<text x="368.6" y="555.9" font-size="6.5" text-anchor="start" font-weight="normal" fill="#222">KLF2+ Tcms</text>
<rect x="357.8" y="559.1" width="5.2" height="4.6" fill="#EE9A72" stroke="#444" stroke-width="0.3"/>
<text x="368.6" y="563.6999999999999" font-size="6.5" text-anchor="start" font-weight="normal" fill="#222">XCL1+ Trms</text>
<rect x="357.8" y="566.9000000000001" width="5.2" height="4.6" fill="#A9DDF3" stroke="#444" stroke-width="0.3"/>
<text x="368.6" y="571.5" font-size="6.5" text-anchor="start" font-weight="normal" fill="#222">CX3CR1+ Tems</text>
<rect x="357.8" y="574.7" width="5.2" height="4.6" fill="#E0DA76" stroke="#444" stroke-width="0.3"/>
<text x="368.6" y="579.3" font-size="6.5" text-anchor="start" font-weight="normal" fill="#222">Teff</text>
<rect x="357.8" y="582.5" width="5.2" height="4.6" fill="#DFCDD0" stroke="#444" stroke-width="0.3"/>
<text x="368.6" y="587.0999999999999" font-size="6.5" text-anchor="start" font-weight="normal" fill="#222">GZMH+ Trms</text>
<rect x="357.8" y="590.3000000000001" width="5.2" height="4.6" fill="#BA4A78" stroke="#444" stroke-width="0.3"/>
<text x="368.6" y="594.9" font-size="6.5" text-anchor="start" font-weight="normal" fill="#222">Texh</text>
<rect x="357.8" y="598.1" width="5.2" height="4.6" fill="#5AA84C" stroke="#444" stroke-width="0.3"/>
<text x="368.6" y="602.6999999999999" font-size="6.5" text-anchor="start" font-weight="normal" fill="#222">TLdys</text>
</svg></body></html>
